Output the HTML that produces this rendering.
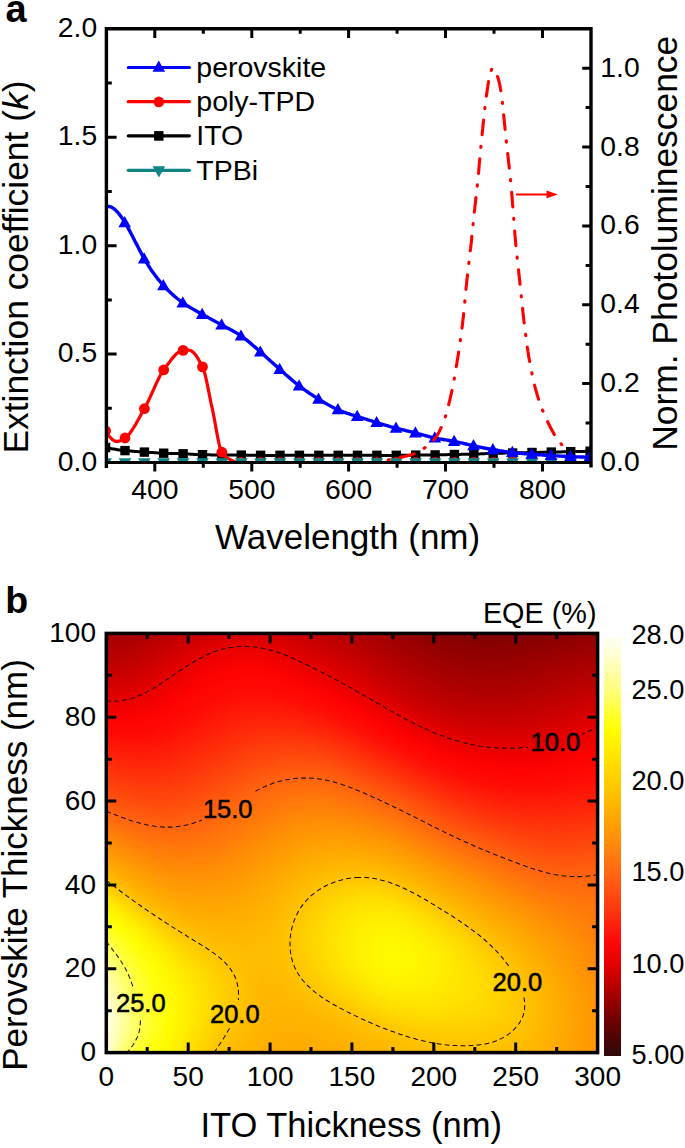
<!DOCTYPE html>
<html><head><meta charset="utf-8"><style>
html,body{margin:0;padding:0;background:#fff;}
#root{position:relative;width:685px;height:1148px;overflow:hidden;background:#fff;}
svg{position:absolute;left:0;top:0;}
text{font-family:"Liberation Sans",sans-serif;fill:#000;}
</style></head><body><div id="root">
<div style="position:absolute;left:105px;top:632px;width:494px;height:422px;overflow:hidden"><div style="height:2px;background:linear-gradient(90deg,#a20000 0.0%,#a40000 3.2%,#a90000 6.5%,#b00000 9.7%,#b90000 12.9%,#c20000 16.1%,#ca0000 19.4%,#d10000 22.6%,#d50000 25.8%,#d50000 29.0%,#d40000 32.3%,#cf0000 35.5%,#c80000 38.7%,#c10000 41.9%,#ba0000 45.2%,#b30000 48.4%,#ac0000 51.6%,#a50000 54.8%,#9c0000 58.1%,#940000 61.3%,#8d0000 64.5%,#880000 67.7%,#840000 71.0%,#810000 74.2%,#800000 77.4%,#800000 80.6%,#810000 83.9%,#840000 87.1%,#870000 90.3%,#8a0000 93.5%,#8d0000 96.8%,#8f0000 100.0%)"></div><div style="height:2px;background:linear-gradient(90deg,#a30000 0.0%,#a50000 3.2%,#ab0000 6.5%,#b20000 9.7%,#bb0000 12.9%,#c40000 16.1%,#cc0000 19.4%,#d30000 22.6%,#d70000 25.8%,#d80000 29.0%,#d70000 32.3%,#d10000 35.5%,#ca0000 38.7%,#c30000 41.9%,#bc0000 45.2%,#b50000 48.4%,#ae0000 51.6%,#a60000 54.8%,#9e0000 58.1%,#960000 61.3%,#8f0000 64.5%,#890000 67.7%,#850000 71.0%,#830000 74.2%,#820000 77.4%,#820000 80.6%,#830000 83.9%,#850000 87.1%,#880000 90.3%,#8b0000 93.5%,#8f0000 96.8%,#910000 100.0%)"></div><div style="height:2px;background:linear-gradient(90deg,#a50000 0.0%,#a70000 3.2%,#ad0000 6.5%,#b40000 9.7%,#bd0000 12.9%,#c60000 16.1%,#cf0000 19.4%,#d60000 22.6%,#da0000 25.8%,#db0000 29.0%,#d90000 32.3%,#d40000 35.5%,#cd0000 38.7%,#c50000 41.9%,#be0000 45.2%,#b70000 48.4%,#b00000 51.6%,#a80000 54.8%,#a00000 58.1%,#980000 61.3%,#910000 64.5%,#8b0000 67.7%,#870000 71.0%,#840000 74.2%,#830000 77.4%,#830000 80.6%,#850000 83.9%,#870000 87.1%,#8a0000 90.3%,#8d0000 93.5%,#910000 96.8%,#930000 100.0%)"></div><div style="height:2px;background:linear-gradient(90deg,#a70000 0.0%,#a90000 3.2%,#ae0000 6.5%,#b60000 9.7%,#bf0000 12.9%,#c90000 16.1%,#d10000 19.4%,#d90000 22.6%,#dd0000 25.8%,#de0000 29.0%,#dc0000 32.3%,#d70000 35.5%,#cf0000 38.7%,#c70000 41.9%,#c00000 45.2%,#b90000 48.4%,#b10000 51.6%,#aa0000 54.8%,#a20000 58.1%,#990000 61.3%,#920000 64.5%,#8c0000 67.7%,#880000 71.0%,#860000 74.2%,#850000 77.4%,#850000 80.6%,#860000 83.9%,#890000 87.1%,#8c0000 90.3%,#8f0000 93.5%,#920000 96.8%,#950000 100.0%)"></div><div style="height:2px;background:linear-gradient(90deg,#a90000 0.0%,#ab0000 3.2%,#b00000 6.5%,#b80000 9.7%,#c10000 12.9%,#cb0000 16.1%,#d40000 19.4%,#db0000 22.6%,#e00000 25.8%,#e10000 29.0%,#df0000 32.3%,#d90000 35.5%,#d10000 38.7%,#c90000 41.9%,#c20000 45.2%,#ba0000 48.4%,#b30000 51.6%,#ab0000 54.8%,#a30000 58.1%,#9b0000 61.3%,#940000 64.5%,#8e0000 67.7%,#8a0000 71.0%,#870000 74.2%,#860000 77.4%,#860000 80.6%,#880000 83.9%,#8a0000 87.1%,#8d0000 90.3%,#910000 93.5%,#940000 96.8%,#970000 100.0%)"></div><div style="height:2px;background:linear-gradient(90deg,#ab0000 0.0%,#ad0000 3.2%,#b20000 6.5%,#ba0000 9.7%,#c30000 12.9%,#cd0000 16.1%,#d60000 19.4%,#de0000 22.6%,#e20000 25.8%,#e40000 29.0%,#e10000 32.3%,#dc0000 35.5%,#d40000 38.7%,#cb0000 41.9%,#c40000 45.2%,#bc0000 48.4%,#b50000 51.6%,#ad0000 54.8%,#a50000 58.1%,#9d0000 61.3%,#950000 64.5%,#900000 67.7%,#8b0000 71.0%,#890000 74.2%,#880000 77.4%,#880000 80.6%,#890000 83.9%,#8c0000 87.1%,#8f0000 90.3%,#930000 93.5%,#960000 96.8%,#990000 100.0%)"></div><div style="height:2px;background:linear-gradient(90deg,#ac0000 0.0%,#ae0000 3.2%,#b40000 6.5%,#bc0000 9.7%,#c50000 12.9%,#d00000 16.1%,#d90000 19.4%,#e00000 22.6%,#e50000 25.8%,#e70000 29.0%,#e40000 32.3%,#de0000 35.5%,#d60000 38.7%,#ce0000 41.9%,#c60000 45.2%,#be0000 48.4%,#b70000 51.6%,#af0000 54.8%,#a60000 58.1%,#9e0000 61.3%,#970000 64.5%,#910000 67.7%,#8d0000 71.0%,#8a0000 74.2%,#890000 77.4%,#8a0000 80.6%,#8b0000 83.9%,#8e0000 87.1%,#910000 90.3%,#940000 93.5%,#980000 96.8%,#9b0000 100.0%)"></div><div style="height:2px;background:linear-gradient(90deg,#ae0000 0.0%,#b00000 3.2%,#b60000 6.5%,#be0000 9.7%,#c80000 12.9%,#d20000 16.1%,#db0000 19.4%,#e30000 22.6%,#e80000 25.8%,#e90000 29.0%,#e70000 32.3%,#e00000 35.5%,#d80000 38.7%,#d00000 41.9%,#c80000 45.2%,#c00000 48.4%,#b80000 51.6%,#b00000 54.8%,#a80000 58.1%,#a00000 61.3%,#990000 64.5%,#930000 67.7%,#8e0000 71.0%,#8c0000 74.2%,#8b0000 77.4%,#8b0000 80.6%,#8d0000 83.9%,#8f0000 87.1%,#930000 90.3%,#960000 93.5%,#9a0000 96.8%,#9d0000 100.0%)"></div><div style="height:2px;background:linear-gradient(90deg,#b00000 0.0%,#b20000 3.2%,#b80000 6.5%,#c00000 9.7%,#ca0000 12.9%,#d40000 16.1%,#de0000 19.4%,#e50000 22.6%,#ea0000 25.8%,#eb0000 29.0%,#e90000 32.3%,#e30000 35.5%,#db0000 38.7%,#d20000 41.9%,#ca0000 45.2%,#c20000 48.4%,#ba0000 51.6%,#b20000 54.8%,#a90000 58.1%,#a20000 61.3%,#9a0000 64.5%,#940000 67.7%,#900000 71.0%,#8d0000 74.2%,#8c0000 77.4%,#8d0000 80.6%,#8e0000 83.9%,#910000 87.1%,#940000 90.3%,#980000 93.5%,#9c0000 96.8%,#9f0000 100.0%)"></div><div style="height:2px;background:linear-gradient(90deg,#b20000 0.0%,#b40000 3.2%,#b90000 6.5%,#c20000 9.7%,#cc0000 12.9%,#d60000 16.1%,#e00000 19.4%,#e80000 22.6%,#ec0000 25.8%,#ed0000 29.0%,#eb0000 32.3%,#e50000 35.5%,#dd0000 38.7%,#d40000 41.9%,#cc0000 45.2%,#c40000 48.4%,#bc0000 51.6%,#b30000 54.8%,#ab0000 58.1%,#a30000 61.3%,#9c0000 64.5%,#960000 67.7%,#910000 71.0%,#8f0000 74.2%,#8e0000 77.4%,#8e0000 80.6%,#900000 83.9%,#930000 87.1%,#960000 90.3%,#9a0000 93.5%,#9d0000 96.8%,#a00000 100.0%)"></div><div style="height:2px;background:linear-gradient(90deg,#b40000 0.0%,#b60000 3.2%,#bb0000 6.5%,#c40000 9.7%,#ce0000 12.9%,#d90000 16.1%,#e20000 19.4%,#ea0000 22.6%,#ee0000 25.8%,#ef0101 29.0%,#ed0000 32.3%,#e80000 35.5%,#df0000 38.7%,#d60000 41.9%,#ce0000 45.2%,#c60000 48.4%,#be0000 51.6%,#b50000 54.8%,#ad0000 58.1%,#a50000 61.3%,#9d0000 64.5%,#970000 67.7%,#930000 71.0%,#900000 74.2%,#8f0000 77.4%,#900000 80.6%,#920000 83.9%,#940000 87.1%,#980000 90.3%,#9c0000 93.5%,#9f0000 96.8%,#a20000 100.0%)"></div><div style="height:2px;background:linear-gradient(90deg,#b60000 0.0%,#b80000 3.2%,#bd0000 6.5%,#c60000 9.7%,#d00000 12.9%,#db0000 16.1%,#e50000 19.4%,#eb0000 22.6%,#f00101 25.8%,#f10101 29.0%,#ef0101 32.3%,#ea0000 35.5%,#e10000 38.7%,#d90000 41.9%,#d00000 45.2%,#c80000 48.4%,#bf0000 51.6%,#b70000 54.8%,#ae0000 58.1%,#a60000 61.3%,#9f0000 64.5%,#990000 67.7%,#950000 71.0%,#920000 74.2%,#910000 77.4%,#910000 80.6%,#930000 83.9%,#960000 87.1%,#990000 90.3%,#9d0000 93.5%,#a10000 96.8%,#a40000 100.0%)"></div><div style="height:2px;background:linear-gradient(90deg,#b80000 0.0%,#b90000 3.2%,#bf0000 6.5%,#c80000 9.7%,#d20000 12.9%,#dd0000 16.1%,#e70000 19.4%,#ed0000 22.6%,#f10101 25.8%,#f30101 29.0%,#f10101 32.3%,#ec0000 35.5%,#e40000 38.7%,#db0000 41.9%,#d30000 45.2%,#ca0000 48.4%,#c10000 51.6%,#b80000 54.8%,#b00000 58.1%,#a80000 61.3%,#a10000 64.5%,#9a0000 67.7%,#960000 71.0%,#930000 74.2%,#920000 77.4%,#930000 80.6%,#950000 83.9%,#980000 87.1%,#9b0000 90.3%,#9f0000 93.5%,#a30000 96.8%,#a60000 100.0%)"></div><div style="height:2px;background:linear-gradient(90deg,#ba0000 0.0%,#bb0000 3.2%,#c10000 6.5%,#ca0000 9.7%,#d40000 12.9%,#df0000 16.1%,#e90000 19.4%,#ef0101 22.6%,#f30101 25.8%,#f50101 29.0%,#f30101 32.3%,#ed0000 35.5%,#e60000 38.7%,#dd0000 41.9%,#d50000 45.2%,#cc0000 48.4%,#c30000 51.6%,#ba0000 54.8%,#b10000 58.1%,#a90000 61.3%,#a20000 64.5%,#9c0000 67.7%,#980000 71.0%,#950000 74.2%,#940000 77.4%,#950000 80.6%,#960000 83.9%,#990000 87.1%,#9d0000 90.3%,#a10000 93.5%,#a40000 96.8%,#a70000 100.0%)"></div><div style="height:2px;background:linear-gradient(90deg,#bc0000 0.0%,#bd0000 3.2%,#c30000 6.5%,#cc0000 9.7%,#d70000 12.9%,#e10000 16.1%,#eb0000 19.4%,#f10101 22.6%,#f50101 25.8%,#f60101 29.0%,#f40101 32.3%,#ef0101 35.5%,#e80000 38.7%,#e00000 41.9%,#d70000 45.2%,#ce0000 48.4%,#c50000 51.6%,#bc0000 54.8%,#b30000 58.1%,#ab0000 61.3%,#a40000 64.5%,#9e0000 67.7%,#990000 71.0%,#970000 74.2%,#960000 77.4%,#960000 80.6%,#980000 83.9%,#9b0000 87.1%,#9f0000 90.3%,#a30000 93.5%,#a60000 96.8%,#a90000 100.0%)"></div><div style="height:2px;background:linear-gradient(90deg,#bd0000 0.0%,#bf0000 3.2%,#c50000 6.5%,#ce0000 9.7%,#d90000 12.9%,#e40000 16.1%,#ec0000 19.4%,#f30101 22.6%,#f70101 25.8%,#f80101 29.0%,#f60101 32.3%,#f10101 35.5%,#ea0000 38.7%,#e20000 41.9%,#d90000 45.2%,#d00000 48.4%,#c70000 51.6%,#be0000 54.8%,#b50000 58.1%,#ac0000 61.3%,#a50000 64.5%,#9f0000 67.7%,#9b0000 71.0%,#980000 74.2%,#970000 77.4%,#980000 80.6%,#9a0000 83.9%,#9d0000 87.1%,#a00000 90.3%,#a40000 93.5%,#a80000 96.8%,#ab0000 100.0%)"></div><div style="height:2px;background:linear-gradient(90deg,#bf0000 0.0%,#c10000 3.2%,#c70000 6.5%,#d00000 9.7%,#db0000 12.9%,#e60000 16.1%,#ee0101 19.4%,#f40101 22.6%,#f90101 25.8%,#fa0202 29.0%,#f80101 32.3%,#f30101 35.5%,#ec0000 38.7%,#e40000 41.9%,#db0000 45.2%,#d20000 48.4%,#c90000 51.6%,#bf0000 54.8%,#b60000 58.1%,#ae0000 61.3%,#a70000 64.5%,#a10000 67.7%,#9c0000 71.0%,#9a0000 74.2%,#990000 77.4%,#990000 80.6%,#9b0000 83.9%,#9e0000 87.1%,#a20000 90.3%,#a60000 93.5%,#aa0000 96.8%,#ad0000 100.0%)"></div><div style="height:2px;background:linear-gradient(90deg,#c10000 0.0%,#c30000 3.2%,#c90000 6.5%,#d20000 9.7%,#dd0000 12.9%,#e80000 16.1%,#f00101 19.4%,#f60101 22.6%,#fa0202 25.8%,#fc0202 29.0%,#fa0202 32.3%,#f50101 35.5%,#ee0101 38.7%,#e70000 41.9%,#de0000 45.2%,#d40000 48.4%,#cb0000 51.6%,#c10000 54.8%,#b80000 58.1%,#af0000 61.3%,#a80000 64.5%,#a30000 67.7%,#9e0000 71.0%,#9b0000 74.2%,#9a0000 77.4%,#9b0000 80.6%,#9d0000 83.9%,#a00000 87.1%,#a40000 90.3%,#a70000 93.5%,#ab0000 96.8%,#ae0000 100.0%)"></div><div style="height:2px;background:linear-gradient(90deg,#c30000 0.0%,#c50000 3.2%,#cb0000 6.5%,#d40000 9.7%,#df0000 12.9%,#e90000 16.1%,#f10101 19.4%,#f80101 22.6%,#fc0202 25.8%,#fd0202 29.0%,#fc0202 32.3%,#f70101 35.5%,#f00101 38.7%,#e90000 41.9%,#e00000 45.2%,#d70000 48.4%,#cd0000 51.6%,#c30000 54.8%,#ba0000 58.1%,#b10000 61.3%,#aa0000 64.5%,#a40000 67.7%,#a00000 71.0%,#9d0000 74.2%,#9c0000 77.4%,#9d0000 80.6%,#9e0000 83.9%,#a10000 87.1%,#a50000 90.3%,#a90000 93.5%,#ad0000 96.8%,#b00000 100.0%)"></div><div style="height:2px;background:linear-gradient(90deg,#c50000 0.0%,#c70000 3.2%,#cd0000 6.5%,#d60000 9.7%,#e10000 12.9%,#eb0000 16.1%,#f30101 19.4%,#f90202 22.6%,#fe0202 25.8%,#ff0202 29.0%,#fd0202 32.3%,#f90101 35.5%,#f20101 38.7%,#eb0000 41.9%,#e30000 45.2%,#d90000 48.4%,#cf0000 51.6%,#c50000 54.8%,#bb0000 58.1%,#b30000 61.3%,#ab0000 64.5%,#a60000 67.7%,#a10000 71.0%,#9f0000 74.2%,#9e0000 77.4%,#9e0000 80.6%,#a00000 83.9%,#a30000 87.1%,#a70000 90.3%,#ab0000 93.5%,#af0000 96.8%,#b20000 100.0%)"></div><div style="height:2px;background:linear-gradient(90deg,#c80000 0.0%,#c90000 3.2%,#cf0000 6.5%,#d80000 9.7%,#e30000 12.9%,#ed0000 16.1%,#f50101 19.4%,#fb0202 22.6%,#ff0202 25.8%,#ff0302 29.0%,#ff0202 32.3%,#fb0202 35.5%,#f40101 38.7%,#ed0000 41.9%,#e50000 45.2%,#db0000 48.4%,#d10000 51.6%,#c70000 54.8%,#bd0000 58.1%,#b40000 61.3%,#ad0000 64.5%,#a70000 67.7%,#a30000 71.0%,#a00000 74.2%,#9f0000 77.4%,#a00000 80.6%,#a20000 83.9%,#a50000 87.1%,#a80000 90.3%,#ac0000 93.5%,#b00000 96.8%,#b40000 100.0%)"></div><div style="height:2px;background:linear-gradient(90deg,#ca0000 0.0%,#cb0000 3.2%,#d10000 6.5%,#da0000 9.7%,#e50000 12.9%,#ee0101 16.1%,#f60101 19.4%,#fd0202 22.6%,#ff0302 25.8%,#ff0403 29.0%,#ff0302 32.3%,#fd0202 35.5%,#f60101 38.7%,#ef0101 41.9%,#e70000 45.2%,#dd0000 48.4%,#d30000 51.6%,#c90000 54.8%,#bf0000 58.1%,#b60000 61.3%,#af0000 64.5%,#a90000 67.7%,#a40000 71.0%,#a20000 74.2%,#a10000 77.4%,#a10000 80.6%,#a30000 83.9%,#a60000 87.1%,#aa0000 90.3%,#ae0000 93.5%,#b20000 96.8%,#b50000 100.0%)"></div><div style="height:2px;background:linear-gradient(90deg,#cc0000 0.0%,#cd0000 3.2%,#d30000 6.5%,#dc0000 9.7%,#e70000 12.9%,#f00101 16.1%,#f80101 19.4%,#fe0202 22.6%,#ff0403 25.8%,#ff0403 29.0%,#ff0403 32.3%,#ff0202 35.5%,#f80101 38.7%,#f10101 41.9%,#ea0000 45.2%,#e00000 48.4%,#d50000 51.6%,#cb0000 54.8%,#c10000 58.1%,#b80000 61.3%,#b00000 64.5%,#aa0000 67.7%,#a60000 71.0%,#a30000 74.2%,#a20000 77.4%,#a30000 80.6%,#a50000 83.9%,#a80000 87.1%,#ab0000 90.3%,#b00000 93.5%,#b40000 96.8%,#b70000 100.0%)"></div><div style="height:2px;background:linear-gradient(90deg,#ce0000 0.0%,#cf0000 3.2%,#d50000 6.5%,#de0000 9.7%,#e90000 12.9%,#f10101 16.1%,#f90202 19.4%,#ff0202 22.6%,#ff0403 25.8%,#ff0503 29.0%,#ff0503 32.3%,#ff0302 35.5%,#fa0202 38.7%,#f30101 41.9%,#ec0000 45.2%,#e20000 48.4%,#d70000 51.6%,#cd0000 54.8%,#c20000 58.1%,#ba0000 61.3%,#b20000 64.5%,#ac0000 67.7%,#a70000 71.0%,#a50000 74.2%,#a40000 77.4%,#a50000 80.6%,#a60000 83.9%,#a90000 87.1%,#ad0000 90.3%,#b10000 93.5%,#b50000 96.8%,#b90000 100.0%)"></div><div style="height:2px;background:linear-gradient(90deg,#d00000 0.0%,#d10000 3.2%,#d70000 6.5%,#e00000 9.7%,#ea0000 12.9%,#f30101 16.1%,#fb0202 19.4%,#ff0302 22.6%,#ff0503 25.8%,#ff0604 29.0%,#ff0503 32.3%,#ff0403 35.5%,#fc0202 38.7%,#f50101 41.9%,#ee0000 45.2%,#e50000 48.4%,#da0000 51.6%,#cf0000 54.8%,#c40000 58.1%,#bb0000 61.3%,#b40000 64.5%,#ad0000 67.7%,#a90000 71.0%,#a60000 74.2%,#a60000 77.4%,#a60000 80.6%,#a80000 83.9%,#ab0000 87.1%,#af0000 90.3%,#b30000 93.5%,#b70000 96.8%,#bb0000 100.0%)"></div><div style="height:2px;background:linear-gradient(90deg,#d20000 0.0%,#d40000 3.2%,#d90000 6.5%,#e20000 9.7%,#ec0000 12.9%,#f50101 16.1%,#fc0202 19.4%,#ff0403 22.6%,#ff0603 25.8%,#ff0704 29.0%,#ff0604 32.3%,#ff0503 35.5%,#fe0202 38.7%,#f70101 41.9%,#f00101 45.2%,#e70000 48.4%,#dc0000 51.6%,#d10000 54.8%,#c60000 58.1%,#bd0000 61.3%,#b50000 64.5%,#af0000 67.7%,#ab0000 71.0%,#a80000 74.2%,#a70000 77.4%,#a80000 80.6%,#a90000 83.9%,#ac0000 87.1%,#b00000 90.3%,#b50000 93.5%,#b90000 96.8%,#bc0000 100.0%)"></div><div style="height:2px;background:linear-gradient(90deg,#d50000 0.0%,#d60000 3.2%,#db0000 6.5%,#e40000 9.7%,#ed0000 12.9%,#f60101 16.1%,#fe0202 19.4%,#ff0503 22.6%,#ff0704 25.8%,#ff0804 29.0%,#ff0704 32.3%,#ff0503 35.5%,#ff0302 38.7%,#fa0202 41.9%,#f20101 45.2%,#e90000 48.4%,#de0000 51.6%,#d30000 54.8%,#c80000 58.1%,#bf0000 61.3%,#b70000 64.5%,#b10000 67.7%,#ac0000 71.0%,#aa0000 74.2%,#a90000 77.4%,#a90000 80.6%,#ab0000 83.9%,#ae0000 87.1%,#b20000 90.3%,#b60000 93.5%,#bb0000 96.8%,#be0000 100.0%)"></div><div style="height:2px;background:linear-gradient(90deg,#d70000 0.0%,#d80000 3.2%,#dd0000 6.5%,#e60000 9.7%,#ef0101 12.9%,#f80101 16.1%,#ff0202 19.4%,#ff0503 22.6%,#ff0704 25.8%,#ff0804 29.0%,#ff0804 32.3%,#ff0604 35.5%,#ff0403 38.7%,#fc0202 41.9%,#f40101 45.2%,#eb0000 48.4%,#e10000 51.6%,#d50000 54.8%,#ca0000 58.1%,#c10000 61.3%,#b90000 64.5%,#b20000 67.7%,#ae0000 71.0%,#ab0000 74.2%,#aa0000 77.4%,#ab0000 80.6%,#ad0000 83.9%,#b00000 87.1%,#b30000 90.3%,#b80000 93.5%,#bc0000 96.8%,#c00000 100.0%)"></div><div style="height:2px;background:linear-gradient(90deg,#d90000 0.0%,#da0000 3.2%,#df0000 6.5%,#e80000 9.7%,#f10101 12.9%,#f90101 16.1%,#ff0302 19.4%,#ff0604 22.6%,#ff0804 25.8%,#ff0905 29.0%,#ff0905 32.3%,#ff0704 35.5%,#ff0503 38.7%,#fe0202 41.9%,#f60101 45.2%,#ed0000 48.4%,#e30000 51.6%,#d80000 54.8%,#cd0000 58.1%,#c30000 61.3%,#bb0000 64.5%,#b40000 67.7%,#b00000 71.0%,#ad0000 74.2%,#ac0000 77.4%,#ac0000 80.6%,#ae0000 83.9%,#b10000 87.1%,#b50000 90.3%,#ba0000 93.5%,#be0000 96.8%,#c20000 100.0%)"></div><div style="height:2px;background:linear-gradient(90deg,#dc0000 0.0%,#dd0000 3.2%,#e10000 6.5%,#e90000 9.7%,#f20101 12.9%,#fb0202 16.1%,#ff0403 19.4%,#ff0704 22.6%,#ff0905 25.8%,#ff0a05 29.0%,#ff0a05 32.3%,#ff0804 35.5%,#ff0603 38.7%,#ff0302 41.9%,#f80101 45.2%,#f00101 48.4%,#e60000 51.6%,#da0000 54.8%,#cf0000 58.1%,#c50000 61.3%,#bc0000 64.5%,#b60000 67.7%,#b10000 71.0%,#af0000 74.2%,#ae0000 77.4%,#ae0000 80.6%,#b00000 83.9%,#b30000 87.1%,#b70000 90.3%,#bb0000 93.5%,#c00000 96.8%,#c40000 100.0%)"></div><div style="height:2px;background:linear-gradient(90deg,#de0000 0.0%,#df0000 3.2%,#e40000 6.5%,#eb0000 9.7%,#f40101 12.9%,#fc0202 16.1%,#ff0403 19.4%,#ff0704 22.6%,#ff0a05 25.8%,#ff0c05 29.0%,#ff0b05 32.3%,#ff0905 35.5%,#ff0704 38.7%,#ff0403 41.9%,#fb0202 45.2%,#f20101 48.4%,#e80000 51.6%,#dc0000 54.8%,#d10000 58.1%,#c70000 61.3%,#be0000 64.5%,#b80000 67.7%,#b30000 71.0%,#b00000 74.2%,#af0000 77.4%,#b00000 80.6%,#b10000 83.9%,#b40000 87.1%,#b80000 90.3%,#bd0000 93.5%,#c20000 96.8%,#c60000 100.0%)"></div><div style="height:2px;background:linear-gradient(90deg,#e10000 0.0%,#e10000 3.2%,#e60000 6.5%,#ed0000 9.7%,#f50101 12.9%,#fe0202 16.1%,#ff0503 19.4%,#ff0804 22.6%,#ff0b05 25.8%,#ff0d05 29.0%,#ff0d05 32.3%,#ff0a05 35.5%,#ff0804 38.7%,#ff0503 41.9%,#fd0202 45.2%,#f40101 48.4%,#ea0000 51.6%,#df0000 54.8%,#d30000 58.1%,#c90000 61.3%,#c00000 64.5%,#b90000 67.7%,#b50000 71.0%,#b20000 74.2%,#b10000 77.4%,#b10000 80.6%,#b30000 83.9%,#b60000 87.1%,#ba0000 90.3%,#bf0000 93.5%,#c30000 96.8%,#c80000 100.0%)"></div><div style="height:2px;background:linear-gradient(90deg,#e30000 0.0%,#e40000 3.2%,#e80000 6.5%,#ef0101 9.7%,#f70101 12.9%,#ff0202 16.1%,#ff0603 19.4%,#ff0905 22.6%,#ff0c05 25.8%,#ff0f06 29.0%,#ff0f06 32.3%,#ff0c05 35.5%,#ff0905 38.7%,#ff0603 41.9%,#ff0202 45.2%,#f60101 48.4%,#ed0000 51.6%,#e10000 54.8%,#d60000 58.1%,#cb0000 61.3%,#c20000 64.5%,#bb0000 67.7%,#b60000 71.0%,#b40000 74.2%,#b30000 77.4%,#b30000 80.6%,#b50000 83.9%,#b80000 87.1%,#bc0000 90.3%,#c00000 93.5%,#c50000 96.8%,#c90000 100.0%)"></div><div style="height:2px;background:linear-gradient(90deg,#e60000 0.0%,#e60000 3.2%,#ea0000 6.5%,#f00101 9.7%,#f80101 12.9%,#ff0302 16.1%,#ff0704 19.4%,#ff0a05 22.6%,#ff0e05 25.8%,#ff1006 29.0%,#ff1006 32.3%,#ff0e06 35.5%,#ff0a05 38.7%,#ff0704 41.9%,#ff0302 45.2%,#f90101 48.4%,#ef0101 51.6%,#e40000 54.8%,#d80000 58.1%,#cd0000 61.3%,#c40000 64.5%,#bd0000 67.7%,#b80000 71.0%,#b50000 74.2%,#b40000 77.4%,#b50000 80.6%,#b60000 83.9%,#b90000 87.1%,#bd0000 90.3%,#c20000 93.5%,#c70000 96.8%,#cb0000 100.0%)"></div><div style="height:2px;background:linear-gradient(90deg,#e80000 0.0%,#e90000 3.2%,#ec0000 6.5%,#f20101 9.7%,#fa0202 12.9%,#ff0403 16.1%,#ff0704 19.4%,#ff0b05 22.6%,#ff0f06 25.8%,#ff1206 29.0%,#ff1206 32.3%,#ff1006 35.5%,#ff0c05 38.7%,#ff0804 41.9%,#ff0403 45.2%,#fb0202 48.4%,#f10101 51.6%,#e60000 54.8%,#da0000 58.1%,#cf0000 61.3%,#c60000 64.5%,#bf0000 67.7%,#ba0000 71.0%,#b70000 74.2%,#b60000 77.4%,#b60000 80.6%,#b80000 83.9%,#bb0000 87.1%,#bf0000 90.3%,#c40000 93.5%,#c90000 96.8%,#cd0000 100.0%)"></div><div style="height:2px;background:linear-gradient(90deg,#eb0000 0.0%,#eb0000 3.2%,#ee0101 6.5%,#f40101 9.7%,#fc0202 12.9%,#ff0403 16.1%,#ff0804 19.4%,#ff0c05 22.6%,#ff1106 25.8%,#ff1306 29.0%,#ff1406 32.3%,#ff1206 35.5%,#ff0e05 38.7%,#ff0905 41.9%,#ff0503 45.2%,#fd0202 48.4%,#f30101 51.6%,#e90000 54.8%,#dd0000 58.1%,#d20000 61.3%,#c80000 64.5%,#c10000 67.7%,#bc0000 71.0%,#b90000 74.2%,#b80000 77.4%,#b80000 80.6%,#ba0000 83.9%,#bd0000 87.1%,#c10000 90.3%,#c60000 93.5%,#cb0000 96.8%,#cf0000 100.0%)"></div><div style="height:2px;background:linear-gradient(90deg,#ed0000 0.0%,#ed0000 3.2%,#f00101 6.5%,#f60101 9.7%,#fd0202 12.9%,#ff0503 16.1%,#ff0905 19.4%,#ff0e05 22.6%,#ff1206 25.8%,#ff1506 29.0%,#ff1506 32.3%,#ff1406 35.5%,#ff1006 38.7%,#ff0b05 41.9%,#ff0704 45.2%,#ff0202 48.4%,#f60101 51.6%,#eb0000 54.8%,#df0000 58.1%,#d40000 61.3%,#cb0000 64.5%,#c30000 67.7%,#be0000 71.0%,#bb0000 74.2%,#ba0000 77.4%,#ba0000 80.6%,#bb0000 83.9%,#be0000 87.1%,#c20000 90.3%,#c80000 93.5%,#cd0000 96.8%,#d10000 100.0%)"></div><div style="height:2px;background:linear-gradient(90deg,#ef0101 0.0%,#ef0101 3.2%,#f20101 6.5%,#f80101 9.7%,#ff0202 12.9%,#ff0603 16.1%,#ff0905 19.4%,#ff0f06 22.6%,#ff1406 25.8%,#ff1607 29.0%,#ff1707 32.3%,#ff1606 35.5%,#ff1206 38.7%,#ff0d05 41.9%,#ff0804 45.2%,#ff0303 48.4%,#f80101 51.6%,#ed0000 54.8%,#e20000 58.1%,#d60000 61.3%,#cd0000 64.5%,#c50000 67.7%,#c00000 71.0%,#bd0000 74.2%,#bb0000 77.4%,#bc0000 80.6%,#bd0000 83.9%,#c00000 87.1%,#c40000 90.3%,#c90000 93.5%,#cf0000 96.8%,#d30000 100.0%)"></div><div style="height:2px;background:linear-gradient(90deg,#f20101 0.0%,#f10101 3.2%,#f40101 6.5%,#f90202 9.7%,#ff0302 12.9%,#ff0704 16.1%,#ff0a05 19.4%,#ff1006 22.6%,#ff1506 25.8%,#ff1807 29.0%,#ff1907 32.3%,#ff1707 35.5%,#ff1406 38.7%,#ff0f06 41.9%,#ff0905 45.2%,#ff0503 48.4%,#fa0202 51.6%,#f00101 54.8%,#e50000 58.1%,#d90000 61.3%,#cf0000 64.5%,#c70000 67.7%,#c20000 71.0%,#be0000 74.2%,#bd0000 77.4%,#bd0000 80.6%,#bf0000 83.9%,#c20000 87.1%,#c60000 90.3%,#cb0000 93.5%,#d10000 96.8%,#d50000 100.0%)"></div><div style="height:2px;background:linear-gradient(90deg,#f40101 0.0%,#f30101 3.2%,#f60101 6.5%,#fb0202 9.7%,#ff0403 12.9%,#ff0704 16.1%,#ff0c05 19.4%,#ff1206 22.6%,#ff1607 25.8%,#ff1a07 29.0%,#ff1b07 32.3%,#ff1907 35.5%,#ff1607 38.7%,#ff1106 41.9%,#ff0a05 45.2%,#ff0603 48.4%,#fd0202 51.6%,#f20101 54.8%,#e70000 58.1%,#db0000 61.3%,#d10000 64.5%,#c90000 67.7%,#c40000 71.0%,#c00000 74.2%,#bf0000 77.4%,#bf0000 80.6%,#c10000 83.9%,#c30000 87.1%,#c80000 90.3%,#cd0000 93.5%,#d30000 96.8%,#d70000 100.0%)"></div><div style="height:2px;background:linear-gradient(90deg,#f60101 0.0%,#f60101 3.2%,#f80101 6.5%,#fd0202 9.7%,#ff0403 12.9%,#ff0804 16.1%,#ff0d05 19.4%,#ff1306 22.6%,#ff1807 25.8%,#ff1b07 29.0%,#ff1c07 32.3%,#ff1b07 35.5%,#ff1807 38.7%,#ff1306 41.9%,#ff0d05 45.2%,#ff0704 48.4%,#ff0202 51.6%,#f40101 54.8%,#ea0000 58.1%,#de0000 61.3%,#d40000 64.5%,#cc0000 67.7%,#c60000 71.0%,#c20000 74.2%,#c10000 77.4%,#c10000 80.6%,#c20000 83.9%,#c50000 87.1%,#ca0000 90.3%,#cf0000 93.5%,#d50000 96.8%,#d90000 100.0%)"></div><div style="height:2px;background:linear-gradient(90deg,#f90101 0.0%,#f80101 3.2%,#fa0202 6.5%,#ff0202 9.7%,#ff0503 12.9%,#ff0905 16.1%,#ff0e06 19.4%,#ff1506 22.6%,#ff1907 25.8%,#ff1d07 29.0%,#ff1e08 32.3%,#ff1d07 35.5%,#ff1a07 38.7%,#ff1606 41.9%,#ff0f06 45.2%,#ff0804 48.4%,#ff0303 51.6%,#f70101 54.8%,#ec0000 58.1%,#e10000 61.3%,#d60000 64.5%,#ce0000 67.7%,#c80000 71.0%,#c40000 74.2%,#c30000 77.4%,#c30000 80.6%,#c40000 83.9%,#c70000 87.1%,#cb0000 90.3%,#d10000 93.5%,#d70000 96.8%,#db0000 100.0%)"></div><div style="height:2px;background:linear-gradient(90deg,#fc0202 0.0%,#fa0202 3.2%,#fc0202 6.5%,#ff0302 9.7%,#ff0603 12.9%,#ff0a05 16.1%,#ff1006 19.4%,#ff1606 22.6%,#ff1b07 25.8%,#ff1e08 29.0%,#ff2008 32.3%,#ff1f08 35.5%,#ff1d07 38.7%,#ff1807 41.9%,#ff1106 45.2%,#ff0905 48.4%,#ff0503 51.6%,#f90202 54.8%,#ee0101 58.1%,#e30000 61.3%,#d90000 64.5%,#d00000 67.7%,#ca0000 71.0%,#c60000 74.2%,#c50000 77.4%,#c50000 80.6%,#c60000 83.9%,#c90000 87.1%,#cd0000 90.3%,#d30000 93.5%,#d90000 96.8%,#dd0000 100.0%)"></div><div style="height:2px;background:linear-gradient(90deg,#fe0202 0.0%,#fd0202 3.2%,#fe0202 6.5%,#ff0403 9.7%,#ff0704 12.9%,#ff0b05 16.1%,#ff1106 19.4%,#ff1707 22.6%,#ff1c07 25.8%,#ff2008 29.0%,#ff2208 32.3%,#ff2108 35.5%,#ff1f08 38.7%,#ff1a07 41.9%,#ff1406 45.2%,#ff0b05 48.4%,#ff0603 51.6%,#fc0202 54.8%,#f10101 58.1%,#e60000 61.3%,#db0000 64.5%,#d30000 67.7%,#cc0000 71.0%,#c90000 74.2%,#c70000 77.4%,#c70000 80.6%,#c80000 83.9%,#cb0000 87.1%,#cf0000 90.3%,#d50000 93.5%,#db0000 96.8%,#df0000 100.0%)"></div><div style="height:2px;background:linear-gradient(90deg,#ff0302 0.0%,#ff0202 3.2%,#ff0302 6.5%,#ff0503 9.7%,#ff0804 12.9%,#ff0c05 16.1%,#ff1306 19.4%,#ff1907 22.6%,#ff1e08 25.8%,#ff2208 29.0%,#ff2408 32.3%,#ff2308 35.5%,#ff2108 38.7%,#ff1c07 41.9%,#ff1606 45.2%,#ff0e05 48.4%,#ff0704 51.6%,#fe0202 54.8%,#f30101 58.1%,#e90000 61.3%,#de0000 64.5%,#d50000 67.7%,#cf0000 71.0%,#cb0000 74.2%,#c90000 77.4%,#c90000 80.6%,#ca0000 83.9%,#cd0000 87.1%,#d10000 90.3%,#d70000 93.5%,#dd0000 96.8%,#e20000 100.0%)"></div><div style="height:2px;background:linear-gradient(90deg,#ff0403 0.0%,#ff0302 3.2%,#ff0403 6.5%,#ff0603 9.7%,#ff0804 12.9%,#ff0d05 16.1%,#ff1406 19.4%,#ff1a07 22.6%,#ff2008 25.8%,#ff2308 29.0%,#ff2508 32.3%,#ff2508 35.5%,#ff2308 38.7%,#ff1f08 41.9%,#ff1807 45.2%,#ff1006 48.4%,#ff0804 51.6%,#ff0302 54.8%,#f60101 58.1%,#eb0000 61.3%,#e10000 64.5%,#d80000 67.7%,#d10000 71.0%,#cd0000 74.2%,#cb0000 77.4%,#cb0000 80.6%,#cc0000 83.9%,#cf0000 87.1%,#d30000 90.3%,#d90000 93.5%,#df0000 96.8%,#e40000 100.0%)"></div><div style="height:2px;background:linear-gradient(90deg,#ff0503 0.0%,#ff0403 3.2%,#ff0503 6.5%,#ff0604 9.7%,#ff0905 12.9%,#ff0f06 16.1%,#ff1606 19.4%,#ff1c07 22.6%,#ff2108 25.8%,#ff2508 29.0%,#ff2709 32.3%,#ff2709 35.5%,#ff2508 38.7%,#ff2108 41.9%,#ff1b07 45.2%,#ff1306 48.4%,#ff0a05 51.6%,#ff0403 54.8%,#f80101 58.1%,#ee0000 61.3%,#e40000 64.5%,#da0000 67.7%,#d30000 71.0%,#cf0000 74.2%,#ce0000 77.4%,#cd0000 80.6%,#ce0000 83.9%,#d10000 87.1%,#d50000 90.3%,#db0000 93.5%,#e10000 96.8%,#e60000 100.0%)"></div><div style="height:2px;background:linear-gradient(90deg,#ff0604 0.0%,#ff0503 3.2%,#ff0603 6.5%,#ff0704 9.7%,#ff0a05 12.9%,#ff1006 16.1%,#ff1707 19.4%,#ff1d07 22.6%,#ff2308 25.8%,#ff2709 29.0%,#ff2909 32.3%,#ff2909 35.5%,#ff2809 38.7%,#ff2308 41.9%,#ff1d07 45.2%,#ff1506 48.4%,#ff0c05 51.6%,#ff0503 54.8%,#fb0202 58.1%,#f00101 61.3%,#e60000 64.5%,#dd0000 67.7%,#d60000 71.0%,#d20000 74.2%,#d00000 77.4%,#cf0000 80.6%,#d00000 83.9%,#d30000 87.1%,#d70000 90.3%,#dc0000 93.5%,#e30000 96.8%,#e80000 100.0%)"></div><div style="height:2px;background:linear-gradient(90deg,#ff0804 0.0%,#ff0604 3.2%,#ff0704 6.5%,#ff0804 9.7%,#ff0c05 12.9%,#ff1206 16.1%,#ff1807 19.4%,#ff1f08 22.6%,#ff2408 25.8%,#ff2809 29.0%,#ff2b09 32.3%,#ff2b09 35.5%,#ff2a09 38.7%,#ff2608 41.9%,#ff2008 45.2%,#ff1807 48.4%,#ff0e05 51.6%,#ff0704 54.8%,#fd0202 58.1%,#f20101 61.3%,#e90000 64.5%,#df0000 67.7%,#d80000 71.0%,#d40000 74.2%,#d20000 77.4%,#d20000 80.6%,#d20000 83.9%,#d50000 87.1%,#d90000 90.3%,#de0000 93.5%,#e50000 96.8%,#e90000 100.0%)"></div><div style="height:2px;background:linear-gradient(90deg,#ff0905 0.0%,#ff0804 3.2%,#ff0804 6.5%,#ff0905 9.7%,#ff0d05 12.9%,#ff1306 16.1%,#ff1a07 19.4%,#ff2008 22.6%,#ff2608 25.8%,#ff2a09 29.0%,#ff2d09 32.3%,#ff2e09 35.5%,#ff2c09 38.7%,#ff2809 41.9%,#ff2208 45.2%,#ff1a07 48.4%,#ff1006 51.6%,#ff0804 54.8%,#ff0202 58.1%,#f50101 61.3%,#eb0000 64.5%,#e20000 67.7%,#db0000 71.0%,#d70000 74.2%,#d50000 77.4%,#d40000 80.6%,#d40000 83.9%,#d70000 87.1%,#db0000 90.3%,#e00000 93.5%,#e70000 96.8%,#eb0000 100.0%)"></div><div style="height:2px;background:linear-gradient(90deg,#ff0a05 0.0%,#ff0905 3.2%,#ff0905 6.5%,#ff0a05 9.7%,#ff0f06 12.9%,#ff1506 16.1%,#ff1b07 19.4%,#ff2208 22.6%,#ff2709 25.8%,#ff2c09 29.0%,#ff2f0a 32.3%,#ff300a 35.5%,#ff2e0a 38.7%,#ff2b09 41.9%,#ff2508 45.2%,#ff1d07 48.4%,#ff1306 51.6%,#ff0905 54.8%,#ff0403 58.1%,#f80101 61.3%,#ee0101 64.5%,#e50000 67.7%,#dd0000 71.0%,#d90000 74.2%,#d70000 77.4%,#d60000 80.6%,#d70000 83.9%,#d90000 87.1%,#dd0000 90.3%,#e20000 93.5%,#e80000 96.8%,#ed0000 100.0%)"></div><div style="height:2px;background:linear-gradient(90deg,#ff0c05 0.0%,#ff0a05 3.2%,#ff0a05 6.5%,#ff0c05 9.7%,#ff1106 12.9%,#ff1607 16.1%,#ff1d07 19.4%,#ff2308 22.6%,#ff2909 25.8%,#ff2e09 29.0%,#ff310a 32.3%,#ff320a 35.5%,#ff310a 38.7%,#ff2d09 41.9%,#ff2709 45.2%,#ff1f08 48.4%,#ff1506 51.6%,#ff0b05 54.8%,#ff0503 58.1%,#fa0202 61.3%,#f00101 64.5%,#e80000 67.7%,#e00000 71.0%,#db0000 74.2%,#d90000 77.4%,#d90000 80.6%,#d90000 83.9%,#db0000 87.1%,#df0000 90.3%,#e50000 93.5%,#ea0000 96.8%,#ee0101 100.0%)"></div><div style="height:2px;background:linear-gradient(90deg,#ff0f06 0.0%,#ff0c05 3.2%,#ff0c05 6.5%,#ff0e05 9.7%,#ff1206 12.9%,#ff1807 16.1%,#ff1e08 19.4%,#ff2508 22.6%,#ff2b09 25.8%,#ff2f0a 29.0%,#ff330a 32.3%,#ff340a 35.5%,#ff330a 38.7%,#ff300a 41.9%,#ff2a09 45.2%,#ff2208 48.4%,#ff1807 51.6%,#ff0e05 54.8%,#ff0604 58.1%,#fd0202 61.3%,#f30101 64.5%,#ea0000 67.7%,#e30000 71.0%,#de0000 74.2%,#dc0000 77.4%,#db0000 80.6%,#db0000 83.9%,#dd0000 87.1%,#e10000 90.3%,#e70000 93.5%,#ec0000 96.8%,#f00101 100.0%)"></div><div style="height:2px;background:linear-gradient(90deg,#ff1106 0.0%,#ff0e05 3.2%,#ff0d05 6.5%,#ff1006 9.7%,#ff1406 12.9%,#ff1907 16.1%,#ff2008 19.4%,#ff2609 22.6%,#ff2c09 25.8%,#ff310a 29.0%,#ff350a 32.3%,#ff360a 35.5%,#ff350a 38.7%,#ff320a 41.9%,#ff2c09 45.2%,#ff2408 48.4%,#ff1b07 51.6%,#ff1006 54.8%,#ff0804 58.1%,#ff0202 61.3%,#f50101 64.5%,#ec0000 67.7%,#e50000 71.0%,#e10000 74.2%,#de0000 77.4%,#dd0000 80.6%,#dd0000 83.9%,#df0000 87.1%,#e30000 90.3%,#e90000 93.5%,#ed0000 96.8%,#f10101 100.0%)"></div><div style="height:2px;background:linear-gradient(90deg,#ff1306 0.0%,#ff1006 3.2%,#ff0f06 6.5%,#ff1106 9.7%,#ff1506 12.9%,#ff1b07 16.1%,#ff2108 19.4%,#ff2809 22.6%,#ff2e09 25.8%,#ff330a 29.0%,#ff360a 32.3%,#ff380b 35.5%,#ff380b 38.7%,#ff350a 41.9%,#ff2f0a 45.2%,#ff2709 48.4%,#ff1d07 51.6%,#ff1306 54.8%,#ff0905 58.1%,#ff0403 61.3%,#f80101 64.5%,#ef0101 67.7%,#e80000 71.0%,#e30000 74.2%,#e10000 77.4%,#e00000 80.6%,#df0000 83.9%,#e10000 87.1%,#e50000 90.3%,#ea0000 93.5%,#ef0101 96.8%,#f30101 100.0%)"></div><div style="height:2px;background:linear-gradient(90deg,#ff1606 0.0%,#ff1206 3.2%,#ff1106 6.5%,#ff1306 9.7%,#ff1707 12.9%,#ff1c07 16.1%,#ff2308 19.4%,#ff2909 22.6%,#ff2f0a 25.8%,#ff350a 29.0%,#ff380b 32.3%,#ff3a0b 35.5%,#ff3a0b 38.7%,#ff370b 41.9%,#ff320a 45.2%,#ff2a09 48.4%,#ff2008 51.6%,#ff1506 54.8%,#ff0a05 58.1%,#ff0503 61.3%,#fa0202 64.5%,#f10101 67.7%,#ea0000 71.0%,#e60000 74.2%,#e40000 77.4%,#e20000 80.6%,#e20000 83.9%,#e30000 87.1%,#e70000 90.3%,#ec0000 93.5%,#f10101 96.8%,#f50101 100.0%)"></div><div style="height:2px;background:linear-gradient(90deg,#ff1807 0.0%,#ff1406 3.2%,#ff1306 6.5%,#ff1506 9.7%,#ff1907 12.9%,#ff1e07 16.1%,#ff2408 19.4%,#ff2b09 22.6%,#ff310a 25.8%,#ff360a 29.0%,#ff3a0b 32.3%,#ff3d0b 35.5%,#ff3c0b 38.7%,#ff3a0b 41.9%,#ff340a 45.2%,#ff2c09 48.4%,#ff2208 51.6%,#ff1807 54.8%,#ff0d05 58.1%,#ff0604 61.3%,#fd0202 64.5%,#f40101 67.7%,#ed0000 71.0%,#e90000 74.2%,#e60000 77.4%,#e50000 80.6%,#e40000 83.9%,#e60000 87.1%,#e90000 90.3%,#ee0000 93.5%,#f20101 96.8%,#f60101 100.0%)"></div><div style="height:2px;background:linear-gradient(90deg,#ff1a07 0.0%,#ff1707 3.2%,#ff1506 6.5%,#ff1707 9.7%,#ff1a07 12.9%,#ff2008 16.1%,#ff2608 19.4%,#ff2c09 22.6%,#ff330a 25.8%,#ff380b 29.0%,#ff3c0b 32.3%,#ff3f0b 35.5%,#ff3f0b 38.7%,#ff3c0b 41.9%,#ff370a 45.2%,#ff2f0a 48.4%,#ff2508 51.6%,#ff1a07 54.8%,#ff1006 58.1%,#ff0704 61.3%,#ff0202 64.5%,#f60101 67.7%,#ef0101 71.0%,#eb0000 74.2%,#e90000 77.4%,#e70000 80.6%,#e60000 83.9%,#e80000 87.1%,#eb0000 90.3%,#ef0101 93.5%,#f40101 96.8%,#f80101 100.0%)"></div><div style="height:2px;background:linear-gradient(90deg,#ff1d07 0.0%,#ff1907 3.2%,#ff1707 6.5%,#ff1807 9.7%,#ff1c07 12.9%,#ff2108 16.1%,#ff2709 19.4%,#ff2e09 22.6%,#ff340a 25.8%,#ff3a0b 29.0%,#ff3e0b 32.3%,#ff410b 35.5%,#ff410c 38.7%,#ff3f0b 41.9%,#ff3a0b 45.2%,#ff320a 48.4%,#ff2809 51.6%,#ff1d07 54.8%,#ff1206 58.1%,#ff0905 61.3%,#ff0403 64.5%,#f90101 67.7%,#f20101 71.0%,#ed0000 74.2%,#eb0000 77.4%,#e90000 80.6%,#e90000 83.9%,#ea0000 87.1%,#ed0000 90.3%,#f10101 93.5%,#f60101 96.8%,#fa0202 100.0%)"></div><div style="height:2px;background:linear-gradient(90deg,#ff1f08 0.0%,#ff1b07 3.2%,#ff1907 6.5%,#ff1a07 9.7%,#ff1e07 12.9%,#ff2308 16.1%,#ff2909 19.4%,#ff300a 22.6%,#ff360a 25.8%,#ff3c0b 29.0%,#ff400b 32.3%,#ff430c 35.5%,#ff430c 38.7%,#ff410c 41.9%,#ff3c0b 45.2%,#ff340a 48.4%,#ff2b09 51.6%,#ff2008 54.8%,#ff1506 58.1%,#ff0a05 61.3%,#ff0503 64.5%,#fc0202 67.7%,#f40101 71.0%,#ef0101 74.2%,#ed0000 77.4%,#eb0000 80.6%,#eb0000 83.9%,#ec0000 87.1%,#ef0101 90.3%,#f30101 93.5%,#f70101 96.8%,#fb0202 100.0%)"></div><div style="height:2px;background:linear-gradient(90deg,#ff2108 0.0%,#ff1d07 3.2%,#ff1b07 6.5%,#ff1c07 9.7%,#ff1f08 12.9%,#ff2408 16.1%,#ff2a09 19.4%,#ff310a 22.6%,#ff380b 25.8%,#ff3e0b 29.0%,#ff420c 32.3%,#ff450c 35.5%,#ff460c 38.7%,#ff440c 41.9%,#ff3f0b 45.2%,#ff370b 48.4%,#ff2d09 51.6%,#ff2208 54.8%,#ff1707 58.1%,#ff0d05 61.3%,#ff0604 64.5%,#fe0202 67.7%,#f70101 71.0%,#f20101 74.2%,#ef0101 77.4%,#ed0000 80.6%,#ed0000 83.9%,#ee0000 87.1%,#f00101 90.3%,#f50101 93.5%,#f90101 96.8%,#fd0202 100.0%)"></div><div style="height:2px;background:linear-gradient(90deg,#ff2408 0.0%,#ff1f08 3.2%,#ff1d07 6.5%,#ff1e07 9.7%,#ff2108 12.9%,#ff2608 16.1%,#ff2c09 19.4%,#ff330a 22.6%,#ff390b 25.8%,#ff3f0b 29.0%,#ff440c 32.3%,#ff470c 35.5%,#ff480c 38.7%,#ff460c 41.9%,#ff420c 45.2%,#ff3a0b 48.4%,#ff300a 51.6%,#ff2508 54.8%,#ff1a07 58.1%,#ff0f06 61.3%,#ff0804 64.5%,#ff0302 67.7%,#f90202 71.0%,#f40101 74.2%,#f10101 77.4%,#f00101 80.6%,#ef0101 83.9%,#f00101 87.1%,#f20101 90.3%,#f70101 93.5%,#fb0202 96.8%,#ff0202 100.0%)"></div><div style="height:2px;background:linear-gradient(90deg,#ff2609 0.0%,#ff2108 3.2%,#ff1f08 6.5%,#ff1f08 9.7%,#ff2208 12.9%,#ff2709 16.1%,#ff2e09 19.4%,#ff340a 22.6%,#ff3b0b 25.8%,#ff410c 29.0%,#ff460c 32.3%,#ff4a0c 35.5%,#ff4b0c 38.7%,#ff490c 41.9%,#ff440c 45.2%,#ff3d0b 48.4%,#ff330a 51.6%,#ff2809 54.8%,#ff1d07 58.1%,#ff1206 61.3%,#ff0905 64.5%,#ff0403 67.7%,#fc0202 71.0%,#f70101 74.2%,#f40101 77.4%,#f20101 80.6%,#f10101 83.9%,#f20101 87.1%,#f40101 90.3%,#f80101 93.5%,#fd0202 96.8%,#ff0302 100.0%)"></div><div style="height:2px;background:linear-gradient(90deg,#ff2809 0.0%,#ff2308 3.2%,#ff2108 6.5%,#ff2108 9.7%,#ff2408 12.9%,#ff2909 16.1%,#ff2f0a 19.4%,#ff360a 22.6%,#ff3d0b 25.8%,#ff430c 29.0%,#ff480c 32.3%,#ff4c0d 35.5%,#ff4d0d 38.7%,#ff4c0d 41.9%,#ff470c 45.2%,#ff3f0b 48.4%,#ff350a 51.6%,#ff2b09 54.8%,#ff2008 58.1%,#ff1506 61.3%,#ff0a05 64.5%,#ff0503 67.7%,#ff0202 71.0%,#f90101 74.2%,#f60101 77.4%,#f40101 80.6%,#f30101 83.9%,#f40101 87.1%,#f60101 90.3%,#fa0202 93.5%,#ff0202 96.8%,#ff0403 100.0%)"></div><div style="height:2px;background:linear-gradient(90deg,#ff2b09 0.0%,#ff2508 3.2%,#ff2308 6.5%,#ff2308 9.7%,#ff2608 12.9%,#ff2b09 16.1%,#ff310a 19.4%,#ff370b 22.6%,#ff3e0b 25.8%,#ff450c 29.0%,#ff4a0c 32.3%,#ff4e0d 35.5%,#ff4f0d 38.7%,#ff4e0d 41.9%,#ff4a0c 45.2%,#ff420c 48.4%,#ff380b 51.6%,#ff2d09 54.8%,#ff2208 58.1%,#ff1707 61.3%,#ff0d05 64.5%,#ff0704 67.7%,#ff0302 71.0%,#fc0202 74.2%,#f80101 77.4%,#f60101 80.6%,#f50101 83.9%,#f60101 87.1%,#f80101 90.3%,#fc0202 93.5%,#ff0302 96.8%,#ff0403 100.0%)"></div><div style="height:2px;background:linear-gradient(90deg,#ff2d09 0.0%,#ff2709 3.2%,#ff2508 6.5%,#ff2508 9.7%,#ff2709 12.9%,#ff2c09 16.1%,#ff320a 19.4%,#ff390b 22.6%,#ff400b 25.8%,#ff470c 29.0%,#ff4c0d 32.3%,#ff500d 35.5%,#ff520d 38.7%,#ff510d 41.9%,#ff4d0d 45.2%,#ff450c 48.4%,#ff3b0b 51.6%,#ff300a 54.8%,#ff2508 58.1%,#ff1a07 61.3%,#ff1006 64.5%,#ff0804 67.7%,#ff0403 71.0%,#fe0202 74.2%,#fa0202 77.4%,#f80101 80.6%,#f70101 83.9%,#f80101 87.1%,#fa0202 90.3%,#fe0202 93.5%,#ff0303 96.8%,#ff0503 100.0%)"></div><div style="height:2px;background:linear-gradient(90deg,#ff2f0a 0.0%,#ff2909 3.2%,#ff2609 6.5%,#ff2709 9.7%,#ff2909 12.9%,#ff2e09 16.1%,#ff340a 19.4%,#ff3b0b 22.6%,#ff420c 25.8%,#ff480c 29.0%,#ff4e0d 32.3%,#ff530d 35.5%,#ff540d 38.7%,#ff530d 41.9%,#ff4f0d 45.2%,#ff480c 48.4%,#ff3e0b 51.6%,#ff330a 54.8%,#ff2809 58.1%,#ff1d07 61.3%,#ff1206 64.5%,#ff0905 67.7%,#ff0603 71.0%,#ff0302 74.2%,#fd0202 77.4%,#fa0202 80.6%,#f90101 83.9%,#fa0202 87.1%,#fc0202 90.3%,#ff0202 93.5%,#ff0403 96.8%,#ff0603 100.0%)"></div><div style="height:2px;background:linear-gradient(90deg,#ff310a 0.0%,#ff2b09 3.2%,#ff2809 6.5%,#ff2809 9.7%,#ff2b09 12.9%,#ff2f0a 16.1%,#ff350a 19.4%,#ff3c0b 22.6%,#ff430c 25.8%,#ff4a0c 29.0%,#ff500d 32.3%,#ff550d 35.5%,#ff570e 38.7%,#ff560e 41.9%,#ff520d 45.2%,#ff4b0c 48.4%,#ff410b 51.6%,#ff360a 54.8%,#ff2b09 58.1%,#ff1f08 61.3%,#ff1506 64.5%,#ff0b05 67.7%,#ff0704 71.0%,#ff0403 74.2%,#ff0202 77.4%,#fd0202 80.6%,#fb0202 83.9%,#fc0202 87.1%,#fe0202 90.3%,#ff0303 93.5%,#ff0503 96.8%,#ff0704 100.0%)"></div><div style="height:2px;background:linear-gradient(90deg,#ff330a 0.0%,#ff2d09 3.2%,#ff2a09 6.5%,#ff2a09 9.7%,#ff2d09 12.9%,#ff310a 16.1%,#ff370b 19.4%,#ff3e0b 22.6%,#ff450c 25.8%,#ff4c0d 29.0%,#ff520d 32.3%,#ff570e 35.5%,#ff590e 38.7%,#ff580e 41.9%,#ff550d 45.2%,#ff4d0d 48.4%,#ff430c 51.6%,#ff390b 54.8%,#ff2d09 58.1%,#ff2208 61.3%,#ff1807 64.5%,#ff0e06 67.7%,#ff0804 71.0%,#ff0503 74.2%,#ff0302 77.4%,#ff0202 80.6%,#fe0202 83.9%,#fe0202 87.1%,#ff0302 90.3%,#ff0403 93.5%,#ff0604 96.8%,#ff0804 100.0%)"></div><div style="height:2px;background:linear-gradient(90deg,#ff350a 0.0%,#ff2f0a 3.2%,#ff2c09 6.5%,#ff2c09 9.7%,#ff2e0a 12.9%,#ff330a 16.1%,#ff390b 19.4%,#ff400b 22.6%,#ff470c 25.8%,#ff4e0d 29.0%,#ff540d 32.3%,#ff590e 35.5%,#ff5b0e 38.7%,#ff5b0e 41.9%,#ff580e 45.2%,#ff500d 48.4%,#ff460c 51.6%,#ff3b0b 54.8%,#ff300a 58.1%,#ff2508 61.3%,#ff1a07 64.5%,#ff1106 67.7%,#ff0905 71.0%,#ff0604 74.2%,#ff0403 77.4%,#ff0302 80.6%,#ff0202 83.9%,#ff0302 87.1%,#ff0403 90.3%,#ff0503 93.5%,#ff0704 96.8%,#ff0904 100.0%)"></div><div style="height:2px;background:linear-gradient(90deg,#ff380b 0.0%,#ff310a 3.2%,#ff2e0a 6.5%,#ff2e09 9.7%,#ff300a 12.9%,#ff340a 16.1%,#ff3a0b 19.4%,#ff410c 22.6%,#ff490c 25.8%,#ff500d 29.0%,#ff560e 32.3%,#ff5b0e 35.5%,#ff5e0e 38.7%,#ff5e0e 41.9%,#ff5a0e 45.2%,#ff530d 48.4%,#ff490c 51.6%,#ff3e0b 54.8%,#ff330a 58.1%,#ff2809 61.3%,#ff1d07 64.5%,#ff1306 67.7%,#ff0b05 71.0%,#ff0804 74.2%,#ff0503 77.4%,#ff0403 80.6%,#ff0303 83.9%,#ff0403 87.1%,#ff0503 90.3%,#ff0604 93.5%,#ff0804 96.8%,#ff0905 100.0%)"></div><div style="height:2px;background:linear-gradient(90deg,#ff3a0b 0.0%,#ff330a 3.2%,#ff300a 6.5%,#ff300a 9.7%,#ff320a 12.9%,#ff360a 16.1%,#ff3c0b 19.4%,#ff430c 22.6%,#ff4a0c 25.8%,#ff520d 29.0%,#ff580e 32.3%,#ff5e0e 35.5%,#ff600f 38.7%,#ff600f 41.9%,#ff5d0e 45.2%,#ff560e 48.4%,#ff4c0d 51.6%,#ff410c 54.8%,#ff360a 58.1%,#ff2b09 61.3%,#ff2008 64.5%,#ff1606 67.7%,#ff0e05 71.0%,#ff0905 74.2%,#ff0704 77.4%,#ff0503 80.6%,#ff0403 83.9%,#ff0503 87.1%,#ff0603 90.3%,#ff0704 93.5%,#ff0905 96.8%,#ff0a05 100.0%)"></div><div style="height:2px;background:linear-gradient(90deg,#ff3c0b 0.0%,#ff350a 3.2%,#ff320a 6.5%,#ff310a 9.7%,#ff330a 12.9%,#ff380b 16.1%,#ff3e0b 19.4%,#ff450c 22.6%,#ff4c0d 25.8%,#ff530d 29.0%,#ff5a0e 32.3%,#ff600f 35.5%,#ff620f 38.7%,#ff630f 41.9%,#ff600f 45.2%,#ff580e 48.4%,#ff4e0d 51.6%,#ff440c 54.8%,#ff390b 58.1%,#ff2e09 61.3%,#ff2208 64.5%,#ff1807 67.7%,#ff1006 71.0%,#ff0a05 74.2%,#ff0804 77.4%,#ff0604 80.6%,#ff0603 83.9%,#ff0603 87.1%,#ff0704 90.3%,#ff0804 93.5%,#ff0a05 96.8%,#ff0c05 100.0%)"></div><div style="height:2px;background:linear-gradient(90deg,#ff3e0b 0.0%,#ff370b 3.2%,#ff340a 6.5%,#ff330a 9.7%,#ff350a 12.9%,#ff390b 16.1%,#ff3f0b 19.4%,#ff460c 22.6%,#ff4e0d 25.8%,#ff550e 29.0%,#ff5c0e 32.3%,#ff620f 35.5%,#ff650f 38.7%,#ff650f 41.9%,#ff620f 45.2%,#ff5b0e 48.4%,#ff510d 51.6%,#ff470c 54.8%,#ff3c0b 58.1%,#ff300a 61.3%,#ff2508 64.5%,#ff1b07 67.7%,#ff1306 71.0%,#ff0c05 74.2%,#ff0905 77.4%,#ff0704 80.6%,#ff0704 83.9%,#ff0704 87.1%,#ff0804 90.3%,#ff0905 93.5%,#ff0b05 96.8%,#ff0e05 100.0%)"></div><div style="height:2px;background:linear-gradient(90deg,#ff400b 0.0%,#ff3a0b 3.2%,#ff360a 6.5%,#ff350a 9.7%,#ff370a 12.9%,#ff3b0b 16.1%,#ff410b 19.4%,#ff480c 22.6%,#ff4f0d 25.8%,#ff570e 29.0%,#ff5e0e 32.3%,#ff640f 35.5%,#ff660e 38.7%,#ff670e 41.9%,#ff650f 45.2%,#ff5e0e 48.4%,#ff540d 51.6%,#ff4a0c 54.8%,#ff3f0b 58.1%,#ff330a 61.3%,#ff2809 64.5%,#ff1e07 67.7%,#ff1506 71.0%,#ff0f06 74.2%,#ff0a05 77.4%,#ff0904 80.6%,#ff0804 83.9%,#ff0804 87.1%,#ff0804 90.3%,#ff0a05 93.5%,#ff0d05 96.8%,#ff0f06 100.0%)"></div><div style="height:2px;background:linear-gradient(90deg,#ff420c 0.0%,#ff3c0b 3.2%,#ff380b 6.5%,#ff370a 9.7%,#ff390b 12.9%,#ff3d0b 16.1%,#ff420c 19.4%,#ff4a0c 22.6%,#ff510d 25.8%,#ff590e 29.0%,#ff600f 32.3%,#ff660f 35.5%,#ff680e 38.7%,#ff690e 41.9%,#ff670e 45.2%,#ff610f 48.4%,#ff570e 51.6%,#ff4d0d 54.8%,#ff420c 58.1%,#ff360a 61.3%,#ff2b09 64.5%,#ff2008 67.7%,#ff1807 71.0%,#ff1106 74.2%,#ff0c05 77.4%,#ff0a05 80.6%,#ff0905 83.9%,#ff0905 87.1%,#ff0905 90.3%,#ff0c05 93.5%,#ff0e06 96.8%,#ff1106 100.0%)"></div><div style="height:2px;background:linear-gradient(90deg,#ff450c 0.0%,#ff3e0b 3.2%,#ff3a0b 6.5%,#ff390b 9.7%,#ff3a0b 12.9%,#ff3e0b 16.1%,#ff440c 19.4%,#ff4b0d 22.6%,#ff530d 25.8%,#ff5b0e 29.0%,#ff620f 32.3%,#ff670e 35.5%,#ff6a0d 38.7%,#ff6b0d 41.9%,#ff690e 45.2%,#ff630f 48.4%,#ff5a0e 51.6%,#ff500d 54.8%,#ff450c 58.1%,#ff390b 61.3%,#ff2e09 64.5%,#ff2308 67.7%,#ff1a07 71.0%,#ff1306 74.2%,#ff0f06 77.4%,#ff0b05 80.6%,#ff0a05 83.9%,#ff0a05 87.1%,#ff0b05 90.3%,#ff0d05 93.5%,#ff1006 96.8%,#ff1306 100.0%)"></div><div style="height:2px;background:linear-gradient(90deg,#ff470c 0.0%,#ff400b 3.2%,#ff3c0b 6.5%,#ff3b0b 9.7%,#ff3c0b 12.9%,#ff400b 16.1%,#ff460c 19.4%,#ff4d0d 22.6%,#ff550d 25.8%,#ff5c0e 29.0%,#ff640f 32.3%,#ff690e 35.5%,#ff6c0d 38.7%,#ff6d0d 41.9%,#ff6b0d 45.2%,#ff660f 48.4%,#ff5c0e 51.6%,#ff520d 54.8%,#ff480c 58.1%,#ff3c0b 61.3%,#ff310a 64.5%,#ff2608 67.7%,#ff1d07 71.0%,#ff1606 74.2%,#ff1106 77.4%,#ff0e05 80.6%,#ff0c05 83.9%,#ff0c05 87.1%,#ff0d05 90.3%,#ff0f06 93.5%,#ff1206 96.8%,#ff1406 100.0%)"></div><div style="height:2px;background:linear-gradient(90deg,#ff490c 0.0%,#ff420c 3.2%,#ff3e0b 6.5%,#ff3d0b 9.7%,#ff3e0b 12.9%,#ff420c 16.1%,#ff470c 19.4%,#ff4f0d 22.6%,#ff560e 25.8%,#ff5e0e 29.0%,#ff660f 32.3%,#ff6b0d 35.5%,#ff6e0d 38.7%,#ff6f0c 41.9%,#ff6d0d 45.2%,#ff680e 48.4%,#ff5f0f 51.6%,#ff550e 54.8%,#ff4b0c 58.1%,#ff3f0b 61.3%,#ff330a 64.5%,#ff2809 67.7%,#ff1f08 71.0%,#ff1807 74.2%,#ff1306 77.4%,#ff1006 80.6%,#ff0e05 83.9%,#ff0e05 87.1%,#ff0f06 90.3%,#ff1106 93.5%,#ff1406 96.8%,#ff1607 100.0%)"></div><div style="height:2px;background:linear-gradient(90deg,#ff4b0d 0.0%,#ff440c 3.2%,#ff400b 6.5%,#ff3f0b 9.7%,#ff400b 12.9%,#ff430c 16.1%,#ff490c 19.4%,#ff500d 22.6%,#ff580e 25.8%,#ff600f 29.0%,#ff670e 32.3%,#ff6c0d 35.5%,#ff700c 38.7%,#ff710c 41.9%,#ff6f0c 45.2%,#ff6a0e 48.4%,#ff620f 51.6%,#ff580e 54.8%,#ff4e0d 58.1%,#ff420c 61.3%,#ff360a 64.5%,#ff2b09 67.7%,#ff2208 71.0%,#ff1b07 74.2%,#ff1606 77.4%,#ff1206 80.6%,#ff1006 83.9%,#ff1006 87.1%,#ff1106 90.3%,#ff1306 93.5%,#ff1506 96.8%,#ff1807 100.0%)"></div><div style="height:2px;background:linear-gradient(90deg,#ff4e0d 0.0%,#ff460c 3.2%,#ff420c 6.5%,#ff400b 9.7%,#ff420c 12.9%,#ff450c 16.1%,#ff4b0c 19.4%,#ff520d 22.6%,#ff5a0e 25.8%,#ff620f 29.0%,#ff690e 32.3%,#ff6e0d 35.5%,#ff710c 38.7%,#ff720b 41.9%,#ff710c 45.2%,#ff6c0d 48.4%,#ff650f 51.6%,#ff5b0e 54.8%,#ff510d 58.1%,#ff450c 61.3%,#ff390b 64.5%,#ff2e09 67.7%,#ff2408 71.0%,#ff1d07 74.2%,#ff1807 77.4%,#ff1406 80.6%,#ff1206 83.9%,#ff1206 87.1%,#ff1306 90.3%,#ff1506 93.5%,#ff1707 96.8%,#ff1a07 100.0%)"></div><div style="height:2px;background:linear-gradient(90deg,#ff500d 0.0%,#ff480c 3.2%,#ff440c 6.5%,#ff420c 9.7%,#ff430c 12.9%,#ff470c 16.1%,#ff4d0d 19.4%,#ff540d 22.6%,#ff5c0e 25.8%,#ff640f 29.0%,#ff6a0d 32.3%,#ff700c 35.5%,#ff730b 38.7%,#ff740b 41.9%,#ff730b 45.2%,#ff6e0c 48.4%,#ff670e 51.6%,#ff5e0e 54.8%,#ff540d 58.1%,#ff480c 61.3%,#ff3c0b 64.5%,#ff310a 67.7%,#ff2709 71.0%,#ff2008 74.2%,#ff1a07 77.4%,#ff1607 80.6%,#ff1406 83.9%,#ff1406 87.1%,#ff1406 90.3%,#ff1707 93.5%,#ff1907 96.8%,#ff1b07 100.0%)"></div><div style="height:2px;background:linear-gradient(90deg,#ff530d 0.0%,#ff4b0c 3.2%,#ff460c 6.5%,#ff440c 9.7%,#ff450c 12.9%,#ff490c 16.1%,#ff4e0d 19.4%,#ff560e 22.6%,#ff5e0e 25.8%,#ff650f 29.0%,#ff6c0d 32.3%,#ff710c 35.5%,#ff750b 38.7%,#ff760a 41.9%,#ff750b 45.2%,#ff700c 48.4%,#ff6a0e 51.6%,#ff620f 54.8%,#ff570e 58.1%,#ff4b0d 61.3%,#ff3f0b 64.5%,#ff330a 67.7%,#ff2a09 71.0%,#ff2208 74.2%,#ff1d07 77.4%,#ff1907 80.6%,#ff1607 83.9%,#ff1606 87.1%,#ff1607 90.3%,#ff1807 93.5%,#ff1b07 96.8%,#ff1d07 100.0%)"></div><div style="height:2px;background:linear-gradient(90deg,#ff550d 0.0%,#ff4d0d 3.2%,#ff480c 6.5%,#ff460c 9.7%,#ff470c 12.9%,#ff4a0c 16.1%,#ff500d 19.4%,#ff570e 22.6%,#ff5f0f 25.8%,#ff670e 29.0%,#ff6d0d 32.3%,#ff730b 35.5%,#ff770a 38.7%,#ff780a 41.9%,#ff770a 45.2%,#ff730b 48.4%,#ff6c0d 51.6%,#ff640f 54.8%,#ff5a0e 58.1%,#ff4e0d 61.3%,#ff420c 64.5%,#ff360a 67.7%,#ff2c09 71.0%,#ff2508 74.2%,#ff1f08 77.4%,#ff1b07 80.6%,#ff1807 83.9%,#ff1807 87.1%,#ff1807 90.3%,#ff1a07 93.5%,#ff1d07 96.8%,#ff1f08 100.0%)"></div><div style="height:2px;background:linear-gradient(90deg,#ff570e 0.0%,#ff4f0d 3.2%,#ff4a0c 6.5%,#ff480c 9.7%,#ff490c 12.9%,#ff4c0d 16.1%,#ff520d 19.4%,#ff590e 22.6%,#ff610f 25.8%,#ff680e 29.0%,#ff6f0c 32.3%,#ff740b 35.5%,#ff780a 38.7%,#ff7a09 41.9%,#ff790a 45.2%,#ff750b 48.4%,#ff6e0c 51.6%,#ff670e 54.8%,#ff5d0e 58.1%,#ff520d 61.3%,#ff450c 64.5%,#ff390b 67.7%,#ff2f0a 71.0%,#ff2709 74.2%,#ff2108 77.4%,#ff1d07 80.6%,#ff1b07 83.9%,#ff1a07 87.1%,#ff1a07 90.3%,#ff1c07 93.5%,#ff1e08 96.8%,#ff2108 100.0%)"></div><div style="height:2px;background:linear-gradient(90deg,#ff5a0e 0.0%,#ff520d 3.2%,#ff4d0d 6.5%,#ff4b0c 9.7%,#ff4b0d 12.9%,#ff4e0d 16.1%,#ff530d 19.4%,#ff5b0e 22.6%,#ff630f 25.8%,#ff6a0e 29.0%,#ff700c 32.3%,#ff760a 35.5%,#ff7a09 38.7%,#ff7c09 41.9%,#ff7b09 45.2%,#ff770a 48.4%,#ff710c 51.6%,#ff690e 54.8%,#ff600f 58.1%,#ff550d 61.3%,#ff480c 64.5%,#ff3c0b 67.7%,#ff320a 71.0%,#ff2a09 74.2%,#ff2408 77.4%,#ff1f08 80.6%,#ff1d07 83.9%,#ff1c07 87.1%,#ff1c07 90.3%,#ff1e07 93.5%,#ff2008 96.8%,#ff2208 100.0%)"></div><div style="height:2px;background:linear-gradient(90deg,#ff5d0e 0.0%,#ff540d 3.2%,#ff4f0d 6.5%,#ff4d0d 9.7%,#ff4d0d 12.9%,#ff500d 16.1%,#ff550e 19.4%,#ff5d0e 22.6%,#ff650f 25.8%,#ff6b0d 29.0%,#ff720c 32.3%,#ff780a 35.5%,#ff7c09 38.7%,#ff7e09 41.9%,#ff7d09 45.2%,#ff790a 48.4%,#ff730b 51.6%,#ff6c0d 54.8%,#ff640f 58.1%,#ff580e 61.3%,#ff4b0c 64.5%,#ff3e0b 67.7%,#ff340a 71.0%,#ff2c09 74.2%,#ff2609 77.4%,#ff2208 80.6%,#ff1f08 83.9%,#ff1e07 87.1%,#ff1e08 90.3%,#ff2008 93.5%,#ff2208 96.8%,#ff2408 100.0%)"></div><div style="height:2px;background:linear-gradient(90deg,#ff5f0f 0.0%,#ff560e 3.2%,#ff510d 6.5%,#ff4f0d 9.7%,#ff4f0d 12.9%,#ff520d 16.1%,#ff570e 19.4%,#ff5e0e 22.6%,#ff660e 25.8%,#ff6d0d 29.0%,#ff730b 32.3%,#ff790a 35.5%,#ff7e09 38.7%,#ff8008 41.9%,#ff7f08 45.2%,#ff7b09 48.4%,#ff760b 51.6%,#ff6e0c 54.8%,#ff660e 58.1%,#ff5b0e 61.3%,#ff4e0d 64.5%,#ff410c 67.7%,#ff370a 71.0%,#ff2f0a 74.2%,#ff2909 77.4%,#ff2408 80.6%,#ff2108 83.9%,#ff2008 87.1%,#ff2008 90.3%,#ff2208 93.5%,#ff2408 96.8%,#ff2608 100.0%)"></div><div style="height:2px;background:linear-gradient(90deg,#ff620f 0.0%,#ff590e 3.2%,#ff540d 6.5%,#ff510d 9.7%,#ff510d 12.9%,#ff540d 16.1%,#ff590e 19.4%,#ff600f 22.6%,#ff680e 25.8%,#ff6e0c 29.0%,#ff750b 32.3%,#ff7b09 35.5%,#ff7f08 38.7%,#ff8108 41.9%,#ff8108 45.2%,#ff7e09 48.4%,#ff780a 51.6%,#ff710c 54.8%,#ff690e 58.1%,#ff5e0e 61.3%,#ff510d 64.5%,#ff440c 67.7%,#ff3a0b 71.0%,#ff310a 74.2%,#ff2b09 77.4%,#ff2609 80.6%,#ff2308 83.9%,#ff2208 87.1%,#ff2208 90.3%,#ff2408 93.5%,#ff2608 96.8%,#ff2809 100.0%)"></div><div style="height:2px;background:linear-gradient(90deg,#ff650f 0.0%,#ff5c0e 3.2%,#ff560e 6.5%,#ff530d 9.7%,#ff530d 12.9%,#ff550e 16.1%,#ff5a0e 19.4%,#ff620f 22.6%,#ff690e 25.8%,#ff700c 29.0%,#ff760a 32.3%,#ff7c09 35.5%,#ff8108 38.7%,#ff8307 41.9%,#ff8307 45.2%,#ff8008 48.4%,#ff7a09 51.6%,#ff730b 54.8%,#ff6b0d 58.1%,#ff610f 61.3%,#ff540d 64.5%,#ff470c 67.7%,#ff3c0b 71.0%,#ff340a 74.2%,#ff2e09 77.4%,#ff2909 80.6%,#ff2608 83.9%,#ff2408 87.1%,#ff2408 90.3%,#ff2608 93.5%,#ff2809 96.8%,#ff2909 100.0%)"></div><div style="height:2px;background:linear-gradient(90deg,#ff670e 0.0%,#ff5e0e 3.2%,#ff580e 6.5%,#ff550e 9.7%,#ff550d 12.9%,#ff570e 16.1%,#ff5c0e 19.4%,#ff640f 22.6%,#ff6a0d 25.8%,#ff710c 29.0%,#ff780a 32.3%,#ff7e08 35.5%,#ff8307 38.7%,#ff8507 41.9%,#ff8507 45.2%,#ff8207 48.4%,#ff7d09 51.6%,#ff760b 54.8%,#ff6e0d 58.1%,#ff640f 61.3%,#ff570e 64.5%,#ff4a0c 67.7%,#ff3f0b 71.0%,#ff370a 74.2%,#ff300a 77.4%,#ff2b09 80.6%,#ff2809 83.9%,#ff2609 87.1%,#ff2609 90.3%,#ff2709 93.5%,#ff2909 96.8%,#ff2b09 100.0%)"></div><div style="height:2px;background:linear-gradient(90deg,#ff690e 0.0%,#ff610f 3.2%,#ff5b0e 6.5%,#ff580e 9.7%,#ff570e 12.9%,#ff590e 16.1%,#ff5e0e 19.4%,#ff650f 22.6%,#ff6c0d 25.8%,#ff730b 29.0%,#ff7a0a 32.3%,#ff8008 35.5%,#ff8407 38.7%,#ff8706 41.9%,#ff8706 45.2%,#ff8407 48.4%,#ff7f08 51.6%,#ff790a 54.8%,#ff700c 58.1%,#ff670e 61.3%,#ff5a0e 64.5%,#ff4d0d 67.7%,#ff420c 71.0%,#ff390b 74.2%,#ff330a 77.4%,#ff2e09 80.6%,#ff2a09 83.9%,#ff2809 87.1%,#ff2809 90.3%,#ff2909 93.5%,#ff2b09 96.8%,#ff2d09 100.0%)"></div><div style="height:2px;background:linear-gradient(90deg,#ff6c0d 0.0%,#ff640f 3.2%,#ff5d0e 6.5%,#ff5a0e 9.7%,#ff590e 12.9%,#ff5b0e 16.1%,#ff600f 19.4%,#ff660e 22.6%,#ff6d0d 25.8%,#ff740b 29.0%,#ff7b09 32.3%,#ff8108 35.5%,#ff8606 38.7%,#ff8906 41.9%,#ff8906 45.2%,#ff8606 48.4%,#ff8208 51.6%,#ff7b09 54.8%,#ff730b 58.1%,#ff690e 61.3%,#ff5d0e 64.5%,#ff500d 67.7%,#ff450c 71.0%,#ff3c0b 74.2%,#ff350a 77.4%,#ff300a 80.6%,#ff2c09 83.9%,#ff2a09 87.1%,#ff2a09 90.3%,#ff2b09 93.5%,#ff2d09 96.8%,#ff2f0a 100.0%)"></div><div style="height:2px;background:linear-gradient(90deg,#ff6e0c 0.0%,#ff660e 3.2%,#ff600f 6.5%,#ff5c0e 9.7%,#ff5b0e 12.9%,#ff5d0e 16.1%,#ff620f 19.4%,#ff680e 22.6%,#ff6f0c 25.8%,#ff760b 29.0%,#ff7d09 32.3%,#ff8307 35.5%,#ff8806 38.7%,#ff8b05 41.9%,#ff8b05 45.2%,#ff8906 48.4%,#ff8407 51.6%,#ff7e09 54.8%,#ff760b 58.1%,#ff6c0d 61.3%,#ff600f 64.5%,#ff530d 67.7%,#ff480c 71.0%,#ff3f0b 74.2%,#ff380b 77.4%,#ff320a 80.6%,#ff2f0a 83.9%,#ff2c09 87.1%,#ff2c09 90.3%,#ff2d09 93.5%,#ff2f0a 96.8%,#ff310a 100.0%)"></div><div style="height:2px;background:linear-gradient(90deg,#ff710c 0.0%,#ff680e 3.2%,#ff630f 6.5%,#ff5e0e 9.7%,#ff5d0e 12.9%,#ff5f0f 16.1%,#ff630f 19.4%,#ff690e 22.6%,#ff700c 25.8%,#ff770a 29.0%,#ff7e08 32.3%,#ff8407 35.5%,#ff8906 38.7%,#ff8c05 41.9%,#ff8d05 45.2%,#ff8b05 48.4%,#ff8606 51.6%,#ff8008 54.8%,#ff780a 58.1%,#ff6e0c 61.3%,#ff630f 64.5%,#ff550e 67.7%,#ff4b0c 71.0%,#ff420c 74.2%,#ff3a0b 77.4%,#ff350a 80.6%,#ff310a 83.9%,#ff2f0a 87.1%,#ff2e0a 90.3%,#ff2f0a 93.5%,#ff310a 96.8%,#ff330a 100.0%)"></div><div style="height:2px;background:linear-gradient(90deg,#ff740b 0.0%,#ff6b0d 3.2%,#ff650f 6.5%,#ff610f 9.7%,#ff600f 12.9%,#ff610f 16.1%,#ff650f 19.4%,#ff6b0d 22.6%,#ff720c 25.8%,#ff790a 29.0%,#ff8008 32.3%,#ff8606 35.5%,#ff8b05 38.7%,#ff8e05 41.9%,#ff8f05 45.2%,#ff8d05 48.4%,#ff8906 51.6%,#ff8307 54.8%,#ff7b09 58.1%,#ff710c 61.3%,#ff660f 64.5%,#ff580e 67.7%,#ff4d0d 71.0%,#ff440c 74.2%,#ff3d0b 77.4%,#ff370b 80.6%,#ff330a 83.9%,#ff310a 87.1%,#ff300a 90.3%,#ff310a 93.5%,#ff330a 96.8%,#ff340a 100.0%)"></div><div style="height:2px;background:linear-gradient(90deg,#ff760a 0.0%,#ff6d0d 3.2%,#ff670e 6.5%,#ff630f 9.7%,#ff620f 12.9%,#ff630f 16.1%,#ff670e 19.4%,#ff6c0d 22.6%,#ff730b 25.8%,#ff7a09 29.0%,#ff8108 32.3%,#ff8806 35.5%,#ff8d05 38.7%,#ff9004 41.9%,#ff9004 45.2%,#ff8f05 48.4%,#ff8b05 51.6%,#ff8507 54.8%,#ff7d09 58.1%,#ff730b 61.3%,#ff680e 64.5%,#ff5b0e 67.7%,#ff500d 71.0%,#ff470c 74.2%,#ff400b 77.4%,#ff3a0b 80.6%,#ff350a 83.9%,#ff330a 87.1%,#ff320a 90.3%,#ff330a 93.5%,#ff350a 96.8%,#ff360a 100.0%)"></div><div style="height:2px;background:linear-gradient(90deg,#ff790a 0.0%,#ff700c 3.2%,#ff690e 6.5%,#ff650f 9.7%,#ff640f 12.9%,#ff650f 16.1%,#ff680e 19.4%,#ff6e0d 22.6%,#ff740b 25.8%,#ff7c09 29.0%,#ff8307 32.3%,#ff8906 35.5%,#ff8e05 38.7%,#ff9104 41.9%,#ff9204 45.2%,#ff9104 48.4%,#ff8e05 51.6%,#ff8806 54.8%,#ff8008 58.1%,#ff760b 61.3%,#ff6b0d 64.5%,#ff5e0e 67.7%,#ff530d 71.0%,#ff4a0c 74.2%,#ff420c 77.4%,#ff3c0b 80.6%,#ff380b 83.9%,#ff350a 87.1%,#ff340a 90.3%,#ff350a 93.5%,#ff370a 96.8%,#ff380b 100.0%)"></div><div style="height:2px;background:linear-gradient(90deg,#ff7c09 0.0%,#ff720b 3.2%,#ff6b0d 6.5%,#ff670e 9.7%,#ff660f 12.9%,#ff670e 16.1%,#ff6a0e 19.4%,#ff6f0c 22.6%,#ff760b 25.8%,#ff7d09 29.0%,#ff8407 32.3%,#ff8b05 35.5%,#ff9004 38.7%,#ff9304 41.9%,#ff9404 45.2%,#ff9304 48.4%,#ff9004 51.6%,#ff8a05 54.8%,#ff8207 58.1%,#ff790a 61.3%,#ff6d0d 64.5%,#ff620f 67.7%,#ff560e 71.0%,#ff4d0d 74.2%,#ff450c 77.4%,#ff3f0b 80.6%,#ff3a0b 83.9%,#ff370b 87.1%,#ff360a 90.3%,#ff370a 93.5%,#ff380b 96.8%,#ff3a0b 100.0%)"></div><div style="height:2px;background:linear-gradient(90deg,#ff7e08 0.0%,#ff750b 3.2%,#ff6e0d 6.5%,#ff690e 9.7%,#ff680e 12.9%,#ff680e 16.1%,#ff6b0d 19.4%,#ff710c 22.6%,#ff770a 25.8%,#ff7e08 29.0%,#ff8607 32.3%,#ff8c05 35.5%,#ff9104 38.7%,#ff9404 41.9%,#ff9604 45.2%,#ff9504 48.4%,#ff9204 51.6%,#ff8d05 54.8%,#ff8507 58.1%,#ff7b09 61.3%,#ff700c 64.5%,#ff650f 67.7%,#ff590e 71.0%,#ff500d 74.2%,#ff480c 77.4%,#ff410c 80.6%,#ff3c0b 83.9%,#ff390b 87.1%,#ff380b 90.3%,#ff390b 93.5%,#ff3a0b 96.8%,#ff3c0b 100.0%)"></div><div style="height:2px;background:linear-gradient(90deg,#ff8108 0.0%,#ff770a 3.2%,#ff700c 6.5%,#ff6b0d 9.7%,#ff690e 12.9%,#ff6a0e 16.1%,#ff6d0d 19.4%,#ff720b 22.6%,#ff790a 25.8%,#ff8008 29.0%,#ff8706 32.3%,#ff8e05 35.5%,#ff9304 38.7%,#ff9604 41.9%,#ff9803 45.2%,#ff9703 48.4%,#ff9404 51.6%,#ff8f05 54.8%,#ff8806 58.1%,#ff7e09 61.3%,#ff720b 64.5%,#ff670e 67.7%,#ff5c0e 71.0%,#ff530d 74.2%,#ff4b0c 77.4%,#ff440c 80.6%,#ff3f0b 83.9%,#ff3b0b 87.1%,#ff3a0b 90.3%,#ff3b0b 93.5%,#ff3c0b 96.8%,#ff3e0b 100.0%)"></div><div style="height:2px;background:linear-gradient(90deg,#ff8407 0.0%,#ff7a0a 3.2%,#ff720b 6.5%,#ff6d0d 9.7%,#ff6b0d 12.9%,#ff6c0d 16.1%,#ff6f0c 19.4%,#ff740b 22.6%,#ff7a09 25.8%,#ff8108 29.0%,#ff8906 32.3%,#ff8f05 35.5%,#ff9404 38.7%,#ff9803 41.9%,#ff9903 45.2%,#ff9903 48.4%,#ff9604 51.6%,#ff9104 54.8%,#ff8a05 58.1%,#ff8008 61.3%,#ff750b 64.5%,#ff6a0e 67.7%,#ff600f 71.0%,#ff560e 74.2%,#ff4d0d 77.4%,#ff470c 80.6%,#ff410c 83.9%,#ff3e0b 87.1%,#ff3c0b 90.3%,#ff3d0b 93.5%,#ff3e0b 96.8%,#ff3f0b 100.0%)"></div><div style="height:2px;background:linear-gradient(90deg,#ff8706 0.0%,#ff7c09 3.2%,#ff740b 6.5%,#ff6f0c 9.7%,#ff6d0d 12.9%,#ff6d0d 16.1%,#ff700c 19.4%,#ff750b 22.6%,#ff7c09 25.8%,#ff8307 29.0%,#ff8a05 32.3%,#ff9004 35.5%,#ff9604 38.7%,#ff9903 41.9%,#ff9b03 45.2%,#ff9b03 48.4%,#ff9803 51.6%,#ff9304 54.8%,#ff8d05 58.1%,#ff8307 61.3%,#ff780a 64.5%,#ff6c0d 67.7%,#ff630f 71.0%,#ff590e 74.2%,#ff500d 77.4%,#ff490c 80.6%,#ff440c 83.9%,#ff400b 87.1%,#ff3e0b 90.3%,#ff3f0b 93.5%,#ff400b 96.8%,#ff410c 100.0%)"></div><div style="height:2px;background:linear-gradient(90deg,#ff8a06 0.0%,#ff7f08 3.2%,#ff770a 6.5%,#ff710c 9.7%,#ff6f0c 12.9%,#ff6f0c 16.1%,#ff720c 19.4%,#ff770a 22.6%,#ff7d09 25.8%,#ff8407 29.0%,#ff8c05 32.3%,#ff9204 35.5%,#ff9703 38.7%,#ff9b03 41.9%,#ff9d03 45.2%,#ff9d03 48.4%,#ff9a03 51.6%,#ff9604 54.8%,#ff8f05 58.1%,#ff8607 61.3%,#ff7a09 64.5%,#ff6f0c 67.7%,#ff650f 71.0%,#ff5c0e 74.2%,#ff530d 77.4%,#ff4c0d 80.6%,#ff460c 83.9%,#ff420c 87.1%,#ff400b 90.3%,#ff400b 93.5%,#ff420c 96.8%,#ff430c 100.0%)"></div><div style="height:2px;background:linear-gradient(90deg,#ff8d05 0.0%,#ff8208 3.2%,#ff790a 6.5%,#ff740b 9.7%,#ff710c 12.9%,#ff710c 16.1%,#ff730b 19.4%,#ff780a 22.6%,#ff7f08 25.8%,#ff8607 29.0%,#ff8d05 32.3%,#ff9304 35.5%,#ff9803 38.7%,#ff9c03 41.9%,#ff9f02 45.2%,#ff9f02 48.4%,#ff9c03 51.6%,#ff9803 54.8%,#ff9104 58.1%,#ff8806 61.3%,#ff7d09 64.5%,#ff720c 67.7%,#ff680e 71.0%,#ff5f0e 74.2%,#ff560e 77.4%,#ff4e0d 80.6%,#ff480c 83.9%,#ff440c 87.1%,#ff420c 90.3%,#ff420c 93.5%,#ff440c 96.8%,#ff450c 100.0%)"></div><div style="height:2px;background:linear-gradient(90deg,#ff8f05 0.0%,#ff8407 3.2%,#ff7b09 6.5%,#ff760b 9.7%,#ff730b 12.9%,#ff730b 16.1%,#ff750b 19.4%,#ff7a0a 22.6%,#ff8008 25.8%,#ff8706 29.0%,#ff8e05 32.3%,#ff9404 35.5%,#ff9a03 38.7%,#ff9e02 41.9%,#ffa002 45.2%,#ffa002 48.4%,#ff9e02 51.6%,#ff9a03 54.8%,#ff9404 58.1%,#ff8b05 61.3%,#ff8008 64.5%,#ff750b 67.7%,#ff6b0d 71.0%,#ff620f 74.2%,#ff590e 77.4%,#ff510d 80.6%,#ff4b0c 83.9%,#ff460c 87.1%,#ff440c 90.3%,#ff440c 93.5%,#ff460c 96.8%,#ff470c 100.0%)"></div><div style="height:2px;background:linear-gradient(90deg,#ff9204 0.0%,#ff8706 3.2%,#ff7e09 6.5%,#ff780a 9.7%,#ff750b 12.9%,#ff740b 16.1%,#ff770a 19.4%,#ff7b09 22.6%,#ff8208 25.8%,#ff8906 29.0%,#ff9004 32.3%,#ff9604 35.5%,#ff9b03 38.7%,#ffa002 41.9%,#ffa202 45.2%,#ffa202 48.4%,#ffa102 51.6%,#ff9c03 54.8%,#ff9604 58.1%,#ff8e05 61.3%,#ff8307 64.5%,#ff770a 67.7%,#ff6d0d 71.0%,#ff650f 74.2%,#ff5c0e 77.4%,#ff540d 80.6%,#ff4d0d 83.9%,#ff480c 87.1%,#ff460c 90.3%,#ff460c 93.5%,#ff480c 96.8%,#ff490c 100.0%)"></div><div style="height:2px;background:linear-gradient(90deg,#ff9404 0.0%,#ff8a06 3.2%,#ff8008 6.5%,#ff7a0a 9.7%,#ff770a 12.9%,#ff760a 16.1%,#ff780a 19.4%,#ff7d09 22.6%,#ff8307 25.8%,#ff8a05 29.0%,#ff9104 32.3%,#ff9703 35.5%,#ff9d03 38.7%,#ffa102 41.9%,#ffa402 45.2%,#ffa402 48.4%,#ffa302 51.6%,#ff9f02 54.8%,#ff9803 58.1%,#ff9004 61.3%,#ff8507 64.5%,#ff7a09 67.7%,#ff700c 71.0%,#ff670e 74.2%,#ff5e0e 77.4%,#ff560e 80.6%,#ff500d 83.9%,#ff4a0c 87.1%,#ff480c 90.3%,#ff480c 93.5%,#ff4a0c 96.8%,#ff4b0c 100.0%)"></div><div style="height:2px;background:linear-gradient(90deg,#ff9703 0.0%,#ff8c05 3.2%,#ff8307 6.5%,#ff7c09 9.7%,#ff790a 12.9%,#ff780a 16.1%,#ff7a09 19.4%,#ff7e08 22.6%,#ff8407 25.8%,#ff8b05 29.0%,#ff9204 32.3%,#ff9803 35.5%,#ff9e02 38.7%,#ffa302 41.9%,#ffa501 45.2%,#ffa601 48.4%,#ffa501 51.6%,#ffa102 54.8%,#ff9b03 58.1%,#ff9204 61.3%,#ff8806 64.5%,#ff7d09 67.7%,#ff730b 71.0%,#ff6a0e 74.2%,#ff610f 77.4%,#ff590e 80.6%,#ff520d 83.9%,#ff4d0d 87.1%,#ff4a0c 90.3%,#ff4a0c 93.5%,#ff4c0d 96.8%,#ff4d0d 100.0%)"></div><div style="height:2px;background:linear-gradient(90deg,#ff9a03 0.0%,#ff8f05 3.2%,#ff8507 6.5%,#ff7e08 9.7%,#ff7b09 12.9%,#ff7a0a 16.1%,#ff7c09 19.4%,#ff8008 22.6%,#ff8607 25.8%,#ff8d05 29.0%,#ff9304 32.3%,#ff9a03 35.5%,#ffa002 38.7%,#ffa402 41.9%,#ffa701 45.2%,#ffa801 48.4%,#ffa701 51.6%,#ffa302 54.8%,#ff9d03 58.1%,#ff9504 61.3%,#ff8b05 64.5%,#ff7f08 67.7%,#ff750b 71.0%,#ff6c0d 74.2%,#ff640f 77.4%,#ff5c0e 80.6%,#ff540d 83.9%,#ff4f0d 87.1%,#ff4c0d 90.3%,#ff4c0d 93.5%,#ff4d0d 96.8%,#ff4e0d 100.0%)"></div><div style="height:2px;background:linear-gradient(90deg,#ff9c03 0.0%,#ff9104 3.2%,#ff8806 6.5%,#ff8008 9.7%,#ff7c09 12.9%,#ff7c09 16.1%,#ff7d09 19.4%,#ff8208 22.6%,#ff8706 25.8%,#ff8e05 29.0%,#ff9504 32.3%,#ff9b03 35.5%,#ffa102 38.7%,#ffa601 41.9%,#ffa901 45.2%,#ffaa01 48.4%,#ffa901 51.6%,#ffa501 54.8%,#ff9f02 58.1%,#ff9703 61.3%,#ff8d05 64.5%,#ff8207 67.7%,#ff780a 71.0%,#ff6f0c 74.2%,#ff670e 77.4%,#ff5f0e 80.6%,#ff570e 83.9%,#ff510d 87.1%,#ff4e0d 90.3%,#ff4e0d 93.5%,#ff4f0d 96.8%,#ff500d 100.0%)"></div><div style="height:2px;background:linear-gradient(90deg,#ff9f02 0.0%,#ff9304 3.2%,#ff8a06 6.5%,#ff8307 9.7%,#ff7e08 12.9%,#ff7d09 16.1%,#ff7f08 19.4%,#ff8307 22.6%,#ff8906 25.8%,#ff8f05 29.0%,#ff9604 32.3%,#ff9c03 35.5%,#ffa202 38.7%,#ffa701 41.9%,#ffab01 45.2%,#ffac00 48.4%,#ffab01 51.6%,#ffa701 54.8%,#ffa202 58.1%,#ff9903 61.3%,#ff9004 64.5%,#ff8507 67.7%,#ff7a09 71.0%,#ff710c 74.2%,#ff690e 77.4%,#ff610f 80.6%,#ff590e 83.9%,#ff530d 87.1%,#ff500d 90.3%,#ff500d 93.5%,#ff510d 96.8%,#ff520d 100.0%)"></div><div style="height:2px;background:linear-gradient(90deg,#ffa202 0.0%,#ff9604 3.2%,#ff8c05 6.5%,#ff8507 9.7%,#ff8008 12.9%,#ff7f08 16.1%,#ff8108 19.4%,#ff8507 22.6%,#ff8a05 25.8%,#ff9004 29.0%,#ff9703 32.3%,#ff9e02 35.5%,#ffa402 38.7%,#ffa901 41.9%,#ffac00 45.2%,#ffae00 48.4%,#ffad00 51.6%,#ffaa01 54.8%,#ffa402 58.1%,#ff9c03 61.3%,#ff9204 64.5%,#ff8806 67.7%,#ff7d09 71.0%,#ff740b 74.2%,#ff6b0d 77.4%,#ff640f 80.6%,#ff5c0e 83.9%,#ff550e 87.1%,#ff520d 90.3%,#ff520d 93.5%,#ff530d 96.8%,#ff540d 100.0%)"></div><div style="height:2px;background:linear-gradient(90deg,#ffa402 0.0%,#ff9803 3.2%,#ff8e05 6.5%,#ff8706 9.7%,#ff8207 12.9%,#ff8108 16.1%,#ff8207 19.4%,#ff8606 22.6%,#ff8c05 25.8%,#ff9204 29.0%,#ff9803 32.3%,#ff9f02 35.5%,#ffa501 38.7%,#ffaa01 41.9%,#ffae00 45.2%,#ffb000 48.4%,#ffaf00 51.6%,#ffac00 54.8%,#ffa601 58.1%,#ff9e02 61.3%,#ff9504 64.5%,#ff8b05 67.7%,#ff8008 71.0%,#ff760a 74.2%,#ff6e0d 77.4%,#ff660e 80.6%,#ff5e0e 83.9%,#ff580e 87.1%,#ff540d 90.3%,#ff540d 93.5%,#ff550e 96.8%,#ff560e 100.0%)"></div><div style="height:2px;background:linear-gradient(90deg,#ffa701 0.0%,#ff9b03 3.2%,#ff9104 6.5%,#ff8906 9.7%,#ff8407 12.9%,#ff8307 16.1%,#ff8407 19.4%,#ff8806 22.6%,#ff8d05 25.8%,#ff9304 29.0%,#ff9903 32.3%,#ffa002 35.5%,#ffa601 38.7%,#ffac00 41.9%,#ffb000 45.2%,#ffb200 48.4%,#ffb100 51.6%,#ffae00 54.8%,#ffa801 58.1%,#ffa002 61.3%,#ff9703 64.5%,#ff8d05 67.7%,#ff8307 71.0%,#ff790a 74.2%,#ff700c 77.4%,#ff680e 80.6%,#ff610f 83.9%,#ff5a0e 87.1%,#ff560e 90.3%,#ff550e 93.5%,#ff570e 96.8%,#ff580e 100.0%)"></div><div style="height:2px;background:linear-gradient(90deg,#ffaa01 0.0%,#ff9d03 3.2%,#ff9304 6.5%,#ff8b05 9.7%,#ff8606 12.9%,#ff8507 16.1%,#ff8607 19.4%,#ff8906 22.6%,#ff8e05 25.8%,#ff9404 29.0%,#ff9b03 32.3%,#ffa102 35.5%,#ffa801 38.7%,#ffad00 41.9%,#ffb100 45.2%,#ffb400 48.4%,#ffb400 51.6%,#ffb000 54.8%,#ffab01 58.1%,#ffa302 61.3%,#ff9903 64.5%,#ff8f05 67.7%,#ff8507 71.0%,#ff7b09 74.2%,#ff730b 77.4%,#ff6b0d 80.6%,#ff630f 83.9%,#ff5c0e 87.1%,#ff580e 90.3%,#ff570e 93.5%,#ff590e 96.8%,#ff5a0e 100.0%)"></div><div style="height:2px;background:linear-gradient(90deg,#ffac00 0.0%,#ffa002 3.2%,#ff9504 6.5%,#ff8d05 9.7%,#ff8806 12.9%,#ff8706 16.1%,#ff8706 19.4%,#ff8b05 22.6%,#ff9004 25.8%,#ff9504 29.0%,#ff9c03 32.3%,#ffa202 35.5%,#ffa901 38.7%,#ffaf00 41.9%,#ffb300 45.2%,#ffb600 48.4%,#ffb600 51.6%,#ffb300 54.8%,#ffad00 58.1%,#ffa501 61.3%,#ff9c03 64.5%,#ff9204 67.7%,#ff8806 71.0%,#ff7e09 74.2%,#ff750b 77.4%,#ff6d0d 80.6%,#ff660f 83.9%,#ff5e0e 87.1%,#ff5a0e 90.3%,#ff590e 93.5%,#ff5b0e 96.8%,#ff5b0e 100.0%)"></div><div style="height:2px;background:linear-gradient(90deg,#ffaf00 0.0%,#ffa202 3.2%,#ff9703 6.5%,#ff8f05 9.7%,#ff8a05 12.9%,#ff8806 16.1%,#ff8906 19.4%,#ff8c05 22.6%,#ff9104 25.8%,#ff9604 29.0%,#ff9d03 32.3%,#ffa402 35.5%,#ffaa01 38.7%,#ffb000 41.9%,#ffb500 45.2%,#ffb800 48.4%,#ffb800 51.6%,#ffb500 54.8%,#ffaf00 58.1%,#ffa701 61.3%,#ff9e02 64.5%,#ff9404 67.7%,#ff8b05 71.0%,#ff8008 74.2%,#ff770a 77.4%,#ff6f0c 80.6%,#ff680e 83.9%,#ff610f 87.1%,#ff5c0e 90.3%,#ff5b0e 93.5%,#ff5c0e 96.8%,#ff5d0e 100.0%)"></div><div style="height:2px;background:linear-gradient(90deg,#ffb300 0.0%,#ffa501 3.2%,#ff9903 6.5%,#ff9104 9.7%,#ff8c05 12.9%,#ff8a05 16.1%,#ff8b05 19.4%,#ff8e05 22.6%,#ff9204 25.8%,#ff9803 29.0%,#ff9e02 32.3%,#ffa501 35.5%,#ffab01 38.7%,#ffb200 41.9%,#ffb700 45.2%,#ffba00 48.4%,#ffba00 51.6%,#ffb800 54.8%,#ffb200 58.1%,#ffaa01 61.3%,#ffa002 64.5%,#ff9703 67.7%,#ff8d05 71.0%,#ff8307 74.2%,#ff7a0a 77.4%,#ff710c 80.6%,#ff6a0e 83.9%,#ff630f 87.1%,#ff5e0e 90.3%,#ff5d0e 93.5%,#ff5e0e 96.8%,#ff5f0e 100.0%)"></div><div style="height:2px;background:linear-gradient(90deg,#ffb600 0.0%,#ffa701 3.2%,#ff9c03 6.5%,#ff9304 9.7%,#ff8e05 12.9%,#ff8c05 16.1%,#ff8c05 19.4%,#ff8f05 22.6%,#ff9304 25.8%,#ff9903 29.0%,#ff9f02 32.3%,#ffa601 35.5%,#ffad00 38.7%,#ffb300 41.9%,#ffb900 45.2%,#ffbc00 48.4%,#ffbd00 51.6%,#ffba00 54.8%,#ffb500 58.1%,#ffac00 61.3%,#ffa302 64.5%,#ff9903 67.7%,#ff8f05 71.0%,#ff8607 74.2%,#ff7c09 77.4%,#ff740b 80.6%,#ff6c0d 83.9%,#ff650f 87.1%,#ff600f 90.3%,#ff5f0f 93.5%,#ff600f 96.8%,#ff610f 100.0%)"></div><div style="height:2px;background:linear-gradient(90deg,#ffb900 0.0%,#ffa901 3.2%,#ff9e02 6.5%,#ff9504 9.7%,#ff9004 12.9%,#ff8e05 16.1%,#ff8e05 19.4%,#ff9004 22.6%,#ff9504 25.8%,#ff9a03 29.0%,#ffa002 32.3%,#ffa701 35.5%,#ffae00 38.7%,#ffb500 41.9%,#ffbb00 45.2%,#ffbe00 48.4%,#ffbf00 51.6%,#ffbd00 54.8%,#ffb700 58.1%,#ffae00 61.3%,#ffa501 64.5%,#ff9b03 67.7%,#ff9204 71.0%,#ff8806 74.2%,#ff7f08 77.4%,#ff760b 80.6%,#ff6e0d 83.9%,#ff670e 87.1%,#ff620f 90.3%,#ff610f 93.5%,#ff620f 96.8%,#ff620f 100.0%)"></div><div style="height:2px;background:linear-gradient(90deg,#ffbd00 0.0%,#ffac00 3.2%,#ffa002 6.5%,#ff9703 9.7%,#ff9204 12.9%,#ff8f05 16.1%,#ff8f05 19.4%,#ff9204 22.6%,#ff9604 25.8%,#ff9b03 29.0%,#ffa102 32.3%,#ffa801 35.5%,#ffaf00 38.7%,#ffb700 41.9%,#ffbd00 45.2%,#ffc000 48.4%,#ffc100 51.6%,#ffbf00 54.8%,#ffba00 58.1%,#ffb100 61.3%,#ffa701 64.5%,#ff9e02 67.7%,#ff9404 71.0%,#ff8b05 74.2%,#ff8108 77.4%,#ff780a 80.6%,#ff700c 83.9%,#ff690e 87.1%,#ff640f 90.3%,#ff630f 93.5%,#ff640f 96.8%,#ff640f 100.0%)"></div><div style="height:2px;background:linear-gradient(90deg,#ffc000 0.0%,#ffae00 3.2%,#ffa202 6.5%,#ff9903 9.7%,#ff9404 12.9%,#ff9104 16.1%,#ff9104 19.4%,#ff9304 22.6%,#ff9703 25.8%,#ff9c03 29.0%,#ffa202 32.3%,#ffa901 35.5%,#ffb000 38.7%,#ffb800 41.9%,#ffbe00 45.2%,#ffc200 48.4%,#ffc300 51.6%,#ffc200 54.8%,#ffbc00 58.1%,#ffb400 61.3%,#ffaa01 64.5%,#ffa002 67.7%,#ff9604 71.0%,#ff8d05 74.2%,#ff8407 77.4%,#ff7a09 80.6%,#ff720b 83.9%,#ff6b0d 87.1%,#ff660e 90.3%,#ff650f 93.5%,#ff650f 96.8%,#ff650f 100.0%)"></div><div style="height:2px;background:linear-gradient(90deg,#ffc300 0.0%,#ffb100 3.2%,#ffa402 6.5%,#ff9b03 9.7%,#ff9504 12.9%,#ff9304 16.1%,#ff9204 19.4%,#ff9404 22.6%,#ff9803 25.8%,#ff9d03 29.0%,#ffa402 32.3%,#ffaa01 35.5%,#ffb200 38.7%,#ffba00 41.9%,#ffc000 45.2%,#ffc400 48.4%,#ffc600 51.6%,#ffc400 54.8%,#ffbf00 58.1%,#ffb600 61.3%,#ffac00 64.5%,#ffa202 67.7%,#ff9803 71.0%,#ff8f05 74.2%,#ff8607 77.4%,#ff7d09 80.6%,#ff740b 83.9%,#ff6d0d 87.1%,#ff680e 90.3%,#ff660e 93.5%,#ff660e 96.8%,#ff660e 100.0%)"></div><div style="height:2px;background:linear-gradient(90deg,#ffc700 0.0%,#ffb400 3.2%,#ffa701 6.5%,#ff9d03 9.7%,#ff9703 12.9%,#ff9404 16.1%,#ff9404 19.4%,#ff9604 22.6%,#ff9903 25.8%,#ff9e02 29.0%,#ffa501 32.3%,#ffab01 35.5%,#ffb300 38.7%,#ffbb00 41.9%,#ffc200 45.2%,#ffc600 48.4%,#ffc800 51.6%,#ffc700 54.8%,#ffc100 58.1%,#ffb900 61.3%,#ffae00 64.5%,#ffa402 67.7%,#ff9b03 71.0%,#ff9204 74.2%,#ff8806 77.4%,#ff7f08 80.6%,#ff760a 83.9%,#ff6f0c 87.1%,#ff6a0e 90.3%,#ff680e 93.5%,#ff680e 96.8%,#ff670e 100.0%)"></div><div style="height:2px;background:linear-gradient(90deg,#ffcb00 0.0%,#ffb700 3.2%,#ffa901 6.5%,#ff9f02 9.7%,#ff9903 12.9%,#ff9604 16.1%,#ff9504 19.4%,#ff9703 22.6%,#ff9b03 25.8%,#ffa002 29.0%,#ffa601 32.3%,#ffac00 35.5%,#ffb400 38.7%,#ffbc00 41.9%,#ffc300 45.2%,#ffc800 48.4%,#ffcb00 51.6%,#ffca00 54.8%,#ffc400 58.1%,#ffbb00 61.3%,#ffb100 64.5%,#ffa701 67.7%,#ff9d03 71.0%,#ff9404 74.2%,#ff8b05 77.4%,#ff8108 80.6%,#ff780a 83.9%,#ff710c 87.1%,#ff6c0d 90.3%,#ff6a0e 93.5%,#ff690e 96.8%,#ff680e 100.0%)"></div><div style="height:2px;background:linear-gradient(90deg,#ffcf00 0.0%,#ffba00 3.2%,#ffab01 6.5%,#ffa102 9.7%,#ff9b03 12.9%,#ff9703 16.1%,#ff9703 19.4%,#ff9803 22.6%,#ff9c03 25.8%,#ffa102 29.0%,#ffa701 32.3%,#ffad00 35.5%,#ffb600 38.7%,#ffbe00 41.9%,#ffc500 45.2%,#ffca00 48.4%,#ffcd00 51.6%,#ffcc00 54.8%,#ffc700 58.1%,#ffbe00 61.3%,#ffb300 64.5%,#ffa901 67.7%,#ff9f02 71.0%,#ff9604 74.2%,#ff8d05 77.4%,#ff8407 80.6%,#ff7b09 83.9%,#ff730b 87.1%,#ff6e0d 90.3%,#ff6b0d 93.5%,#ff6a0d 96.8%,#ff6a0e 100.0%)"></div><div style="height:2px;background:linear-gradient(90deg,#ffd400 0.0%,#ffbd00 3.2%,#ffad00 6.5%,#ffa302 9.7%,#ff9d03 12.9%,#ff9903 16.1%,#ff9803 19.4%,#ff9a03 22.6%,#ff9d03 25.8%,#ffa202 29.0%,#ffa801 32.3%,#ffae00 35.5%,#ffb700 38.7%,#ffbf00 41.9%,#ffc700 45.2%,#ffcd00 48.4%,#ffd000 51.6%,#ffcf00 54.8%,#ffca00 58.1%,#ffc000 61.3%,#ffb600 64.5%,#ffab01 67.7%,#ffa102 71.0%,#ff9803 74.2%,#ff8f05 77.4%,#ff8607 80.6%,#ff7d09 83.9%,#ff750b 87.1%,#ff6f0c 90.3%,#ff6d0d 93.5%,#ff6c0d 96.8%,#ff6b0d 100.0%)"></div><div style="height:2px;background:linear-gradient(90deg,#ffd800 0.0%,#ffc000 3.2%,#ffb000 6.5%,#ffa601 9.7%,#ff9f02 12.9%,#ff9b03 16.1%,#ff9a03 19.4%,#ff9b03 22.6%,#ff9e02 25.8%,#ffa302 29.0%,#ffa901 32.3%,#ffaf00 35.5%,#ffb800 38.7%,#ffc000 41.9%,#ffc800 45.2%,#ffcf00 48.4%,#ffd200 51.6%,#ffd200 54.8%,#ffcc00 58.1%,#ffc300 61.3%,#ffb800 64.5%,#ffad00 67.7%,#ffa402 71.0%,#ff9a03 74.2%,#ff9104 77.4%,#ff8806 80.6%,#ff7f08 83.9%,#ff770a 87.1%,#ff710c 90.3%,#ff6e0c 93.5%,#ff6d0d 96.8%,#ff6c0d 100.0%)"></div><div style="height:2px;background:linear-gradient(90deg,#ffdc00 0.0%,#ffc300 3.2%,#ffb300 6.5%,#ffa801 9.7%,#ffa002 12.9%,#ff9c03 16.1%,#ff9b03 19.4%,#ff9c03 22.6%,#ff9f02 25.8%,#ffa402 29.0%,#ffaa01 32.3%,#ffb000 35.5%,#ffb900 38.7%,#ffc200 41.9%,#ffca00 45.2%,#ffd100 48.4%,#ffd400 51.6%,#ffd400 54.8%,#ffcf00 58.1%,#ffc600 61.3%,#ffbb00 64.5%,#ffaf00 67.7%,#ffa601 71.0%,#ff9c03 74.2%,#ff9304 77.4%,#ff8a05 80.6%,#ff8108 83.9%,#ff790a 87.1%,#ff730b 90.3%,#ff700c 93.5%,#ff6e0c 96.8%,#ff6c0d 100.0%)"></div><div style="height:2px;background:linear-gradient(90deg,#ffe000 0.0%,#ffc700 3.2%,#ffb600 6.5%,#ffaa01 9.7%,#ffa202 12.9%,#ff9e02 16.1%,#ff9d03 19.4%,#ff9d03 22.6%,#ffa002 25.8%,#ffa501 29.0%,#ffaa01 32.3%,#ffb200 35.5%,#ffba00 38.7%,#ffc300 41.9%,#ffcc00 45.2%,#ffd300 48.4%,#ffd600 51.6%,#ffd700 54.8%,#ffd200 58.1%,#ffc900 61.3%,#ffbe00 64.5%,#ffb200 67.7%,#ffa801 71.0%,#ff9e02 74.2%,#ff9504 77.4%,#ff8d05 80.6%,#ff8307 83.9%,#ff7b09 87.1%,#ff750b 90.3%,#ff710c 93.5%,#ff6f0c 96.8%,#ff6d0d 100.0%)"></div><div style="height:2px;background:linear-gradient(90deg,#ffe300 0.0%,#ffcb00 3.2%,#ffb800 6.5%,#ffac00 9.7%,#ffa402 12.9%,#ffa002 16.1%,#ff9e02 19.4%,#ff9f02 22.6%,#ffa102 25.8%,#ffa601 29.0%,#ffab01 32.3%,#ffb300 35.5%,#ffbb00 38.7%,#ffc400 41.9%,#ffcd00 45.2%,#ffd400 48.4%,#ffd900 51.6%,#ffd900 54.8%,#ffd500 58.1%,#ffcc00 61.3%,#ffc000 64.5%,#ffb400 67.7%,#ffaa01 71.0%,#ffa102 74.2%,#ff9703 77.4%,#ff8f05 80.6%,#ff8507 83.9%,#ff7d09 87.1%,#ff770a 90.3%,#ff730b 93.5%,#ff710c 96.8%,#ff6e0c 100.0%)"></div><div style="height:2px;background:linear-gradient(90deg,#ffe600 0.0%,#ffcf00 3.2%,#ffbb00 6.5%,#ffae00 9.7%,#ffa601 12.9%,#ffa102 16.1%,#ff9f02 19.4%,#ffa002 22.6%,#ffa302 25.8%,#ffa701 29.0%,#ffac00 32.3%,#ffb400 35.5%,#ffbc00 38.7%,#ffc500 41.9%,#ffcf00 45.2%,#ffd600 48.4%,#ffdb00 51.6%,#ffdb00 54.8%,#ffd700 58.1%,#ffce00 61.3%,#ffc200 64.5%,#ffb700 67.7%,#ffac00 71.0%,#ffa302 74.2%,#ff9903 77.4%,#ff9004 80.6%,#ff8806 83.9%,#ff7f08 87.1%,#ff790a 90.3%,#ff750b 93.5%,#ff720c 96.8%,#ff6f0c 100.0%)"></div><div style="height:2px;background:linear-gradient(90deg,#ffea00 0.0%,#ffd300 3.2%,#ffbe00 6.5%,#ffb000 9.7%,#ffa801 12.9%,#ffa302 16.1%,#ffa102 19.4%,#ffa102 22.6%,#ffa402 25.8%,#ffa801 29.0%,#ffad00 32.3%,#ffb500 35.5%,#ffbd00 38.7%,#ffc700 41.9%,#ffd000 45.2%,#ffd800 48.4%,#ffdd00 51.6%,#ffde00 54.8%,#ffda00 58.1%,#ffd100 61.3%,#ffc500 64.5%,#ffb900 67.7%,#ffae00 71.0%,#ffa501 74.2%,#ff9b03 77.4%,#ff9204 80.6%,#ff8a06 83.9%,#ff8108 87.1%,#ff7b09 90.3%,#ff760a 93.5%,#ff730b 96.8%,#ff700c 100.0%)"></div><div style="height:2px;background:linear-gradient(90deg,#ffed00 0.0%,#ffd700 3.2%,#ffc100 6.5%,#ffb300 9.7%,#ffaa01 12.9%,#ffa501 16.1%,#ffa202 19.4%,#ffa302 22.6%,#ffa501 25.8%,#ffa901 29.0%,#ffae00 32.3%,#ffb500 35.5%,#ffbe00 38.7%,#ffc800 41.9%,#ffd200 45.2%,#ffda00 48.4%,#ffde00 51.6%,#ffdf00 54.8%,#ffdc00 58.1%,#ffd400 61.3%,#ffc800 64.5%,#ffbc00 67.7%,#ffb000 71.0%,#ffa701 74.2%,#ff9d03 77.4%,#ff9404 80.6%,#ff8c05 83.9%,#ff8307 87.1%,#ff7c09 90.3%,#ff780a 93.5%,#ff740b 96.8%,#ff710c 100.0%)"></div><div style="height:2px;background:linear-gradient(90deg,#fff000 0.0%,#ffdc00 3.2%,#ffc500 6.5%,#ffb600 9.7%,#ffac00 12.9%,#ffa601 16.1%,#ffa402 19.4%,#ffa402 22.6%,#ffa601 25.8%,#ffa901 29.0%,#ffaf00 32.3%,#ffb600 35.5%,#ffbf00 38.7%,#ffc900 41.9%,#ffd300 45.2%,#ffdb00 48.4%,#ffe000 51.6%,#ffe100 54.8%,#ffdf00 58.1%,#ffd700 61.3%,#ffcb00 64.5%,#ffbe00 67.7%,#ffb300 71.0%,#ffa901 74.2%,#ff9f02 77.4%,#ff9604 80.6%,#ff8e05 83.9%,#ff8507 87.1%,#ff7e08 90.3%,#ff790a 93.5%,#ff760b 96.8%,#ff720b 100.0%)"></div><div style="height:2px;background:linear-gradient(90deg,#fff300 0.0%,#ffe000 3.2%,#ffc800 6.5%,#ffb800 9.7%,#ffad00 12.9%,#ffa801 16.1%,#ffa501 19.4%,#ffa501 22.6%,#ffa701 25.8%,#ffaa01 29.0%,#ffb000 32.3%,#ffb700 35.5%,#ffc000 38.7%,#ffca00 41.9%,#ffd400 45.2%,#ffdd00 48.4%,#ffe100 51.6%,#ffe300 54.8%,#ffe100 58.1%,#ffd900 61.3%,#ffcd00 64.5%,#ffc000 67.7%,#ffb500 71.0%,#ffab01 74.2%,#ffa102 77.4%,#ff9803 80.6%,#ff8f05 83.9%,#ff8706 87.1%,#ff8008 90.3%,#ff7b09 93.5%,#ff770a 96.8%,#ff730b 100.0%)"></div><div style="height:2px;background:linear-gradient(90deg,#fff500 0.0%,#ffe300 3.2%,#ffcc00 6.5%,#ffbb00 9.7%,#ffaf00 12.9%,#ffa901 16.1%,#ffa701 19.4%,#ffa601 22.6%,#ffa801 25.8%,#ffab01 29.0%,#ffb000 32.3%,#ffb800 35.5%,#ffc100 38.7%,#ffcb00 41.9%,#ffd600 45.2%,#ffde00 48.4%,#ffe300 51.6%,#ffe400 54.8%,#ffe200 58.1%,#ffdc00 61.3%,#ffd000 64.5%,#ffc300 67.7%,#ffb700 71.0%,#ffad00 74.2%,#ffa302 77.4%,#ff9a03 80.6%,#ff9104 83.9%,#ff8906 87.1%,#ff8208 90.3%,#ff7c09 93.5%,#ff780a 96.8%,#ff740b 100.0%)"></div><div style="height:2px;background:linear-gradient(90deg,#fff800 0.0%,#ffe600 3.2%,#ffd000 6.5%,#ffbd00 9.7%,#ffb200 12.9%,#ffab01 16.1%,#ffa801 19.4%,#ffa801 22.6%,#ffa901 25.8%,#ffac00 29.0%,#ffb100 32.3%,#ffb900 35.5%,#ffc100 38.7%,#ffcc00 41.9%,#ffd700 45.2%,#ffdf00 48.4%,#ffe400 51.6%,#ffe600 54.8%,#ffe400 58.1%,#ffde00 61.3%,#ffd300 64.5%,#ffc500 67.7%,#ffba00 71.0%,#ffaf00 74.2%,#ffa501 77.4%,#ff9c03 80.6%,#ff9304 83.9%,#ff8b05 87.1%,#ff8307 90.3%,#ff7e09 93.5%,#ff790a 96.8%,#ff750b 100.0%)"></div><div style="height:2px;background:linear-gradient(90deg,#fffa00 0.0%,#ffea00 3.2%,#ffd400 6.5%,#ffc000 9.7%,#ffb400 12.9%,#ffad00 16.1%,#ffaa01 19.4%,#ffa901 22.6%,#ffaa01 25.8%,#ffad00 29.0%,#ffb200 32.3%,#ffb900 35.5%,#ffc200 38.7%,#ffcd00 41.9%,#ffd800 45.2%,#ffe000 48.4%,#ffe500 51.6%,#ffe700 54.8%,#ffe600 58.1%,#ffe000 61.3%,#ffd600 64.5%,#ffc800 67.7%,#ffbc00 71.0%,#ffb100 74.2%,#ffa701 77.4%,#ff9e02 80.6%,#ff9504 83.9%,#ff8d05 87.1%,#ff8507 90.3%,#ff7f08 93.5%,#ff7a09 96.8%,#ff760b 100.0%)"></div><div style="height:2px;background:linear-gradient(90deg,#fffc00 0.0%,#ffed00 3.2%,#ffd800 6.5%,#ffc300 9.7%,#ffb600 12.9%,#ffae00 16.1%,#ffab01 19.4%,#ffaa01 22.6%,#ffab01 25.8%,#ffae00 29.0%,#ffb300 32.3%,#ffba00 35.5%,#ffc300 38.7%,#ffce00 41.9%,#ffd900 45.2%,#ffe100 48.4%,#ffe700 51.6%,#ffe900 54.8%,#ffe800 58.1%,#ffe200 61.3%,#ffd800 64.5%,#ffcb00 67.7%,#ffbe00 71.0%,#ffb300 74.2%,#ffa901 77.4%,#ffa002 80.6%,#ff9703 83.9%,#ff8e05 87.1%,#ff8706 90.3%,#ff8008 93.5%,#ff7b09 96.8%,#ff760a 100.0%)"></div><div style="height:2px;background:linear-gradient(90deg,#fffe00 0.0%,#fff000 3.2%,#ffdc00 6.5%,#ffc600 9.7%,#ffb900 12.9%,#ffb000 16.1%,#ffac00 19.4%,#ffab01 22.6%,#ffac00 25.8%,#ffaf00 29.0%,#ffb400 32.3%,#ffbb00 35.5%,#ffc300 38.7%,#ffcf00 41.9%,#ffda00 45.2%,#ffe200 48.4%,#ffe800 51.6%,#ffea00 54.8%,#ffe900 58.1%,#ffe400 61.3%,#ffdb00 64.5%,#ffcd00 67.7%,#ffc000 71.0%,#ffb500 74.2%,#ffab01 77.4%,#ffa102 80.6%,#ff9803 83.9%,#ff9004 87.1%,#ff8806 90.3%,#ff8208 93.5%,#ff7c09 96.8%,#ff770a 100.0%)"></div><div style="height:2px;background:linear-gradient(90deg,#ffff05 0.0%,#fff300 3.2%,#ffdf00 6.5%,#ffc900 9.7%,#ffbb00 12.9%,#ffb200 16.1%,#ffae00 19.4%,#ffac00 22.6%,#ffad00 25.8%,#ffaf00 29.0%,#ffb400 32.3%,#ffbb00 35.5%,#ffc400 38.7%,#ffcf00 41.9%,#ffdb00 45.2%,#ffe300 48.4%,#ffe900 51.6%,#ffec00 54.8%,#ffeb00 58.1%,#ffe600 61.3%,#ffdd00 64.5%,#ffd000 67.7%,#ffc300 71.0%,#ffb700 74.2%,#ffad00 77.4%,#ffa302 80.6%,#ff9a03 83.9%,#ff9204 87.1%,#ff8a05 90.3%,#ff8307 93.5%,#ff7d09 96.8%,#ff780a 100.0%)"></div><div style="height:2px;background:linear-gradient(90deg,#ffff0b 0.0%,#fff500 3.2%,#ffe200 6.5%,#ffcd00 9.7%,#ffbd00 12.9%,#ffb400 16.1%,#ffaf00 19.4%,#ffae00 22.6%,#ffae00 25.8%,#ffb000 29.0%,#ffb500 32.3%,#ffbc00 35.5%,#ffc500 38.7%,#ffd000 41.9%,#ffdb00 45.2%,#ffe400 48.4%,#ffea00 51.6%,#ffed00 54.8%,#ffec00 58.1%,#ffe800 61.3%,#ffdf00 64.5%,#ffd200 67.7%,#ffc500 71.0%,#ffb900 74.2%,#ffae00 77.4%,#ffa501 80.6%,#ff9c03 83.9%,#ff9304 87.1%,#ff8c05 90.3%,#ff8507 93.5%,#ff7e08 96.8%,#ff790a 100.0%)"></div><div style="height:2px;background:linear-gradient(90deg,#ffff11 0.0%,#fff700 3.2%,#ffe500 6.5%,#ffd000 9.7%,#ffbf00 12.9%,#ffb600 16.1%,#ffb100 19.4%,#ffaf00 22.6%,#ffaf00 25.8%,#ffb100 29.0%,#ffb600 32.3%,#ffbc00 35.5%,#ffc500 38.7%,#ffd100 41.9%,#ffdc00 45.2%,#ffe500 48.4%,#ffeb00 51.6%,#ffee00 54.8%,#ffee00 58.1%,#ffe900 61.3%,#ffe100 64.5%,#ffd500 67.7%,#ffc700 71.0%,#ffbc00 74.2%,#ffb000 77.4%,#ffa701 80.6%,#ff9d03 83.9%,#ff9504 87.1%,#ff8d05 90.3%,#ff8607 93.5%,#ff7f08 96.8%,#ff7a0a 100.0%)"></div><div style="height:2px;background:linear-gradient(90deg,#ffff17 0.0%,#fff900 3.2%,#ffe800 6.5%,#ffd300 9.7%,#ffc200 12.9%,#ffb800 16.1%,#ffb300 19.4%,#ffb000 22.6%,#ffb000 25.8%,#ffb200 29.0%,#ffb600 32.3%,#ffbd00 35.5%,#ffc600 38.7%,#ffd100 41.9%,#ffdd00 45.2%,#ffe500 48.4%,#ffec00 51.6%,#fff000 54.8%,#ffef00 58.1%,#ffeb00 61.3%,#ffe300 64.5%,#ffd700 67.7%,#ffca00 71.0%,#ffbe00 74.2%,#ffb200 77.4%,#ffa801 80.6%,#ff9f02 83.9%,#ff9604 87.1%,#ff8f05 90.3%,#ff8706 93.5%,#ff8108 96.8%,#ff7b09 100.0%)"></div><div style="height:2px;background:linear-gradient(90deg,#ffff1c 0.0%,#fffb00 3.2%,#ffeb00 6.5%,#ffd700 9.7%,#ffc400 12.9%,#ffba00 16.1%,#ffb400 19.4%,#ffb100 22.6%,#ffb100 25.8%,#ffb300 29.0%,#ffb700 32.3%,#ffbd00 35.5%,#ffc600 38.7%,#ffd200 41.9%,#ffde00 45.2%,#ffe600 48.4%,#ffed00 51.6%,#fff100 54.8%,#fff100 58.1%,#ffec00 61.3%,#ffe400 64.5%,#ffda00 67.7%,#ffcc00 71.0%,#ffc000 74.2%,#ffb400 77.4%,#ffaa01 80.6%,#ffa102 83.9%,#ff9803 87.1%,#ff9004 90.3%,#ff8806 93.5%,#ff8208 96.8%,#ff7b09 100.0%)"></div><div style="height:2px;background:linear-gradient(90deg,#ffff22 0.0%,#fffd00 3.2%,#ffee00 6.5%,#ffda00 9.7%,#ffc700 12.9%,#ffbc00 16.1%,#ffb600 19.4%,#ffb300 22.6%,#ffb200 25.8%,#ffb400 29.0%,#ffb800 32.3%,#ffbe00 35.5%,#ffc700 38.7%,#ffd200 41.9%,#ffde00 45.2%,#ffe700 48.4%,#ffed00 51.6%,#fff200 54.8%,#fff200 58.1%,#ffee00 61.3%,#ffe600 64.5%,#ffdc00 67.7%,#ffce00 71.0%,#ffc100 74.2%,#ffb600 77.4%,#ffac00 80.6%,#ffa202 83.9%,#ff9903 87.1%,#ff9104 90.3%,#ff8a06 93.5%,#ff8307 96.8%,#ff7c09 100.0%)"></div><div style="height:2px;background:linear-gradient(90deg,#ffff29 0.0%,#ffff01 3.2%,#fff100 6.5%,#ffdd00 9.7%,#ffca00 12.9%,#ffbe00 16.1%,#ffb800 19.4%,#ffb400 22.6%,#ffb300 25.8%,#ffb400 29.0%,#ffb800 32.3%,#ffbe00 35.5%,#ffc700 38.7%,#ffd300 41.9%,#ffde00 45.2%,#ffe700 48.4%,#ffee00 51.6%,#fff300 54.8%,#fff300 58.1%,#ffef00 61.3%,#ffe800 64.5%,#ffde00 67.7%,#ffd100 71.0%,#ffc300 74.2%,#ffb800 77.4%,#ffad00 80.6%,#ffa402 83.9%,#ff9b03 87.1%,#ff9304 90.3%,#ff8b05 93.5%,#ff8407 96.8%,#ff7d09 100.0%)"></div><div style="height:2px;background:linear-gradient(90deg,#ffff2f 0.0%,#ffff06 3.2%,#fff300 6.5%,#ffe000 9.7%,#ffcd00 12.9%,#ffc000 16.1%,#ffb900 19.4%,#ffb500 22.6%,#ffb400 25.8%,#ffb500 29.0%,#ffb900 32.3%,#ffbf00 35.5%,#ffc700 38.7%,#ffd300 41.9%,#ffdf00 45.2%,#ffe800 48.4%,#ffef00 51.6%,#fff300 54.8%,#fff400 58.1%,#fff100 61.3%,#ffe900 64.5%,#ffdf00 67.7%,#ffd300 71.0%,#ffc500 74.2%,#ffba00 77.4%,#ffaf00 80.6%,#ffa501 83.9%,#ff9c03 87.1%,#ff9404 90.3%,#ff8c05 93.5%,#ff8407 96.8%,#ff7e09 100.0%)"></div><div style="height:2px;background:linear-gradient(90deg,#ffff36 0.0%,#ffff0b 3.2%,#fff500 6.5%,#ffe200 9.7%,#ffcf00 12.9%,#ffc200 16.1%,#ffbb00 19.4%,#ffb700 22.6%,#ffb500 25.8%,#ffb600 29.0%,#ffb900 32.3%,#ffbf00 35.5%,#ffc800 38.7%,#ffd300 41.9%,#ffdf00 45.2%,#ffe800 48.4%,#fff000 51.6%,#fff400 54.8%,#fff500 58.1%,#fff200 61.3%,#ffeb00 64.5%,#ffe100 67.7%,#ffd500 71.0%,#ffc700 74.2%,#ffbc00 77.4%,#ffb100 80.6%,#ffa701 83.9%,#ff9e02 87.1%,#ff9504 90.3%,#ff8d05 93.5%,#ff8507 96.8%,#ff7e08 100.0%)"></div><div style="height:2px;background:linear-gradient(90deg,#ffff3c 0.0%,#ffff10 3.2%,#fff600 6.5%,#ffe500 9.7%,#ffd200 12.9%,#ffc400 16.1%,#ffbd00 19.4%,#ffb800 22.6%,#ffb600 25.8%,#ffb700 29.0%,#ffba00 32.3%,#ffbf00 35.5%,#ffc800 38.7%,#ffd400 41.9%,#ffdf00 45.2%,#ffe800 48.4%,#fff000 51.6%,#fff400 54.8%,#fff500 58.1%,#fff300 61.3%,#ffec00 64.5%,#ffe200 67.7%,#ffd700 71.0%,#ffca00 74.2%,#ffbe00 77.4%,#ffb200 80.6%,#ffa801 83.9%,#ff9f02 87.1%,#ff9604 90.3%,#ff8e05 93.5%,#ff8606 96.8%,#ff7f08 100.0%)"></div><div style="height:2px;background:linear-gradient(90deg,#ffff42 0.0%,#ffff15 3.2%,#fff800 6.5%,#ffe700 9.7%,#ffd500 12.9%,#ffc600 16.1%,#ffbe00 19.4%,#ffb900 22.6%,#ffb700 25.8%,#ffb700 29.0%,#ffba00 32.3%,#ffbf00 35.5%,#ffc800 38.7%,#ffd400 41.9%,#ffdf00 45.2%,#ffe900 48.4%,#fff100 51.6%,#fff500 54.8%,#fff600 58.1%,#fff400 61.3%,#ffed00 64.5%,#ffe400 67.7%,#ffd900 71.0%,#ffcc00 74.2%,#ffbf00 77.4%,#ffb400 80.6%,#ffaa01 83.9%,#ffa002 87.1%,#ff9803 90.3%,#ff8f05 93.5%,#ff8706 96.8%,#ff8008 100.0%)"></div><div style="height:2px;background:linear-gradient(90deg,#ffff48 0.0%,#ffff1a 3.2%,#fffa00 6.5%,#ffea00 9.7%,#ffd800 12.9%,#ffc900 16.1%,#ffc000 19.4%,#ffbb00 22.6%,#ffb800 25.8%,#ffb800 29.0%,#ffba00 32.3%,#ffc000 35.5%,#ffc800 38.7%,#ffd400 41.9%,#ffe000 45.2%,#ffe900 48.4%,#fff100 51.6%,#fff500 54.8%,#fff700 58.1%,#fff400 61.3%,#ffee00 64.5%,#ffe500 67.7%,#ffda00 71.0%,#ffcd00 74.2%,#ffc100 77.4%,#ffb600 80.6%,#ffab01 83.9%,#ffa202 87.1%,#ff9903 90.3%,#ff9004 93.5%,#ff8806 96.8%,#ff8008 100.0%)"></div><div style="height:2px;background:linear-gradient(90deg,#ffff4e 0.0%,#ffff1e 3.2%,#fffb00 6.5%,#ffec00 9.7%,#ffdb00 12.9%,#ffcb00 16.1%,#ffc100 19.4%,#ffbc00 22.6%,#ffb900 25.8%,#ffb800 29.0%,#ffbb00 32.3%,#ffc000 35.5%,#ffc800 38.7%,#ffd400 41.9%,#ffe000 45.2%,#ffe900 48.4%,#fff100 51.6%,#fff600 54.8%,#fff700 58.1%,#fff500 61.3%,#ffef00 64.5%,#ffe600 67.7%,#ffdc00 71.0%,#ffcf00 74.2%,#ffc200 77.4%,#ffb700 80.6%,#ffad00 83.9%,#ffa302 87.1%,#ff9a03 90.3%,#ff9104 93.5%,#ff8906 96.8%,#ff8108 100.0%)"></div><div style="height:2px;background:linear-gradient(90deg,#ffff55 0.0%,#ffff23 3.2%,#fffd00 6.5%,#ffee00 9.7%,#ffdd00 12.9%,#ffcd00 16.1%,#ffc300 19.4%,#ffbd00 22.6%,#ffba00 25.8%,#ffb900 29.0%,#ffbb00 32.3%,#ffc000 35.5%,#ffc800 38.7%,#ffd400 41.9%,#ffe000 45.2%,#ffe900 48.4%,#fff200 51.6%,#fff600 54.8%,#fff800 58.1%,#fff600 61.3%,#fff000 64.5%,#ffe700 67.7%,#ffde00 71.0%,#ffd100 74.2%,#ffc400 77.4%,#ffb900 80.6%,#ffae00 83.9%,#ffa402 87.1%,#ff9b03 90.3%,#ff9204 93.5%,#ff8a06 96.8%,#ff8208 100.0%)"></div><div style="height:2px;background:linear-gradient(90deg,#ffff5c 0.0%,#ffff28 3.2%,#ffff00 6.5%,#fff100 9.7%,#ffe000 12.9%,#ffd000 16.1%,#ffc400 19.4%,#ffbe00 22.6%,#ffbb00 25.8%,#ffba00 29.0%,#ffbb00 32.3%,#ffc000 35.5%,#ffc800 38.7%,#ffd400 41.9%,#ffe000 45.2%,#ffe900 48.4%,#fff200 51.6%,#fff600 54.8%,#fff800 58.1%,#fff600 61.3%,#fff100 64.5%,#ffe800 67.7%,#ffdf00 71.0%,#ffd300 74.2%,#ffc600 77.4%,#ffba00 80.6%,#ffaf00 83.9%,#ffa601 87.1%,#ff9c03 90.3%,#ff9304 93.5%,#ff8b05 96.8%,#ff8207 100.0%)"></div><div style="height:2px;background:linear-gradient(90deg,#ffff62 0.0%,#ffff2c 3.2%,#ffff03 6.5%,#fff300 9.7%,#ffe200 12.9%,#ffd200 16.1%,#ffc600 19.4%,#ffbf00 22.6%,#ffbc00 25.8%,#ffba00 29.0%,#ffbb00 32.3%,#ffc000 35.5%,#ffc800 38.7%,#ffd400 41.9%,#ffdf00 45.2%,#ffe900 48.4%,#fff200 51.6%,#fff700 54.8%,#fff900 58.1%,#fff700 61.3%,#fff200 64.5%,#ffe900 67.7%,#ffe000 71.0%,#ffd400 74.2%,#ffc700 77.4%,#ffbc00 80.6%,#ffb100 83.9%,#ffa701 87.1%,#ff9d03 90.3%,#ff9404 93.5%,#ff8c05 96.8%,#ff8307 100.0%)"></div><div style="height:2px;background:linear-gradient(90deg,#ffff68 0.0%,#ffff31 3.2%,#ffff07 6.5%,#fff400 9.7%,#ffe400 12.9%,#ffd400 16.1%,#ffc800 19.4%,#ffc100 22.6%,#ffbc00 25.8%,#ffbb00 29.0%,#ffbc00 32.3%,#ffc000 35.5%,#ffc800 38.7%,#ffd400 41.9%,#ffdf00 45.2%,#ffe900 48.4%,#fff200 51.6%,#fff700 54.8%,#fff900 58.1%,#fff700 61.3%,#fff300 64.5%,#ffea00 67.7%,#ffe100 71.0%,#ffd600 74.2%,#ffc900 77.4%,#ffbd00 80.6%,#ffb200 83.9%,#ffa801 87.1%,#ff9e02 90.3%,#ff9504 93.5%,#ff8c05 96.8%,#ff8407 100.0%)"></div><div style="height:2px;background:linear-gradient(90deg,#ffff6e 0.0%,#ffff35 3.2%,#ffff0b 6.5%,#fff500 9.7%,#ffe500 12.9%,#ffd600 16.1%,#ffca00 19.4%,#ffc200 22.6%,#ffbd00 25.8%,#ffbb00 29.0%,#ffbc00 32.3%,#ffc000 35.5%,#ffc800 38.7%,#ffd300 41.9%,#ffdf00 45.2%,#ffe900 48.4%,#fff200 51.6%,#fff700 54.8%,#fff900 58.1%,#fff800 61.3%,#fff300 64.5%,#ffeb00 67.7%,#ffe200 71.0%,#ffd700 74.2%,#ffcb00 77.4%,#ffbf00 80.6%,#ffb400 83.9%,#ffa901 87.1%,#ff9f02 90.3%,#ff9604 93.5%,#ff8d05 96.8%,#ff8407 100.0%)"></div><div style="height:2px;background:linear-gradient(90deg,#ffff74 0.0%,#ffff39 3.2%,#ffff0f 6.5%,#fff700 9.7%,#ffe700 12.9%,#ffd800 16.1%,#ffcb00 19.4%,#ffc300 22.6%,#ffbe00 25.8%,#ffbb00 29.0%,#ffbc00 32.3%,#ffc000 35.5%,#ffc800 38.7%,#ffd300 41.9%,#ffdf00 45.2%,#ffe800 48.4%,#fff200 51.6%,#fff700 54.8%,#fffa00 58.1%,#fff800 61.3%,#fff300 64.5%,#ffec00 67.7%,#ffe300 71.0%,#ffd800 74.2%,#ffcc00 77.4%,#ffc000 80.6%,#ffb500 83.9%,#ffaa01 87.1%,#ffa002 90.3%,#ff9703 93.5%,#ff8e05 96.8%,#ff8507 100.0%)"></div><div style="height:2px;background:linear-gradient(90deg,#ffff7a 0.0%,#ffff3d 3.2%,#ffff13 6.5%,#fff800 9.7%,#ffe900 12.9%,#ffda00 16.1%,#ffcd00 19.4%,#ffc400 22.6%,#ffbf00 25.8%,#ffbc00 29.0%,#ffbc00 32.3%,#ffc000 35.5%,#ffc800 38.7%,#ffd300 41.9%,#ffde00 45.2%,#ffe800 48.4%,#fff100 51.6%,#fff700 54.8%,#fffa00 58.1%,#fff800 61.3%,#fff400 64.5%,#ffec00 67.7%,#ffe300 71.0%,#ffd900 74.2%,#ffcd00 77.4%,#ffc100 80.6%,#ffb600 83.9%,#ffab01 87.1%,#ffa102 90.3%,#ff9803 93.5%,#ff8e05 96.8%,#ff8507 100.0%)"></div><div style="height:2px;background:linear-gradient(90deg,#ffff80 0.0%,#ffff42 3.2%,#ffff17 6.5%,#fff900 9.7%,#ffeb00 12.9%,#ffdc00 16.1%,#ffcf00 19.4%,#ffc500 22.6%,#ffc000 25.8%,#ffbc00 29.0%,#ffbc00 32.3%,#ffc000 35.5%,#ffc700 38.7%,#ffd200 41.9%,#ffde00 45.2%,#ffe800 48.4%,#fff100 51.6%,#fff700 54.8%,#fffa00 58.1%,#fff800 61.3%,#fff400 64.5%,#ffed00 67.7%,#ffe400 71.0%,#ffda00 74.2%,#ffcf00 77.4%,#ffc300 80.6%,#ffb800 83.9%,#ffac00 87.1%,#ffa202 90.3%,#ff9803 93.5%,#ff8f05 96.8%,#ff8607 100.0%)"></div><div style="height:2px;background:linear-gradient(90deg,#ffff85 0.0%,#ffff46 3.2%,#ffff1b 6.5%,#fffa00 9.7%,#ffec00 12.9%,#ffde00 16.1%,#ffd000 19.4%,#ffc600 22.6%,#ffc000 25.8%,#ffbc00 29.0%,#ffbc00 32.3%,#ffbf00 35.5%,#ffc700 38.7%,#ffd200 41.9%,#ffde00 45.2%,#ffe700 48.4%,#fff100 51.6%,#fff700 54.8%,#fffa00 58.1%,#fff800 61.3%,#fff400 64.5%,#ffed00 67.7%,#ffe500 71.0%,#ffdb00 74.2%,#ffd000 77.4%,#ffc400 80.6%,#ffb900 83.9%,#ffad00 87.1%,#ffa302 90.3%,#ff9903 93.5%,#ff9004 96.8%,#ff8606 100.0%)"></div><div style="height:2px;background:linear-gradient(90deg,#ffff8b 0.0%,#ffff4b 3.2%,#ffff1e 6.5%,#fffc00 9.7%,#ffee00 12.9%,#ffdf00 16.1%,#ffd200 19.4%,#ffc800 22.6%,#ffc100 25.8%,#ffbd00 29.0%,#ffbc00 32.3%,#ffbf00 35.5%,#ffc700 38.7%,#ffd100 41.9%,#ffdd00 45.2%,#ffe700 48.4%,#fff000 51.6%,#fff600 54.8%,#fffa00 58.1%,#fff800 61.3%,#fff400 64.5%,#ffed00 67.7%,#ffe500 71.0%,#ffdc00 74.2%,#ffd100 77.4%,#ffc500 80.6%,#ffba00 83.9%,#ffae00 87.1%,#ffa402 90.3%,#ff9a03 93.5%,#ff9004 96.8%,#ff8706 100.0%)"></div><div style="height:2px;background:linear-gradient(90deg,#ffff91 0.0%,#ffff51 3.2%,#ffff21 6.5%,#fffd00 9.7%,#fff000 12.9%,#ffe100 16.1%,#ffd300 19.4%,#ffc900 22.6%,#ffc200 25.8%,#ffbd00 29.0%,#ffbb00 32.3%,#ffbf00 35.5%,#ffc600 38.7%,#ffd100 41.9%,#ffdc00 45.2%,#ffe600 48.4%,#fff000 51.6%,#fff600 54.8%,#fff900 58.1%,#fff800 61.3%,#fff400 64.5%,#ffee00 67.7%,#ffe600 71.0%,#ffdd00 74.2%,#ffd200 77.4%,#ffc600 80.6%,#ffbb00 83.9%,#ffaf00 87.1%,#ffa501 90.3%,#ff9b03 93.5%,#ff9104 96.8%,#ff8806 100.0%)"></div><div style="height:2px;background:linear-gradient(90deg,#ffff96 0.0%,#ffff56 3.2%,#ffff25 6.5%,#fffe00 9.7%,#fff100 12.9%,#ffe200 16.1%,#ffd500 19.4%,#ffca00 22.6%,#ffc200 25.8%,#ffbd00 29.0%,#ffbb00 32.3%,#ffbe00 35.5%,#ffc600 38.7%,#ffd000 41.9%,#ffdb00 45.2%,#ffe500 48.4%,#ffef00 51.6%,#fff600 54.8%,#fff900 58.1%,#fff800 61.3%,#fff400 64.5%,#ffee00 67.7%,#ffe600 71.0%,#ffde00 74.2%,#ffd300 77.4%,#ffc800 80.6%,#ffbc00 83.9%,#ffb000 87.1%,#ffa601 90.3%,#ff9c03 93.5%,#ff9204 96.8%,#ff8806 100.0%)"></div><div style="height:2px;background:linear-gradient(90deg,#ffff9b 0.0%,#ffff5c 3.2%,#ffff28 6.5%,#ffff00 9.7%,#fff200 12.9%,#ffe300 16.1%,#ffd600 19.4%,#ffcb00 22.6%,#ffc300 25.8%,#ffbd00 29.0%,#ffbb00 32.3%,#ffbe00 35.5%,#ffc500 38.7%,#ffcf00 41.9%,#ffdb00 45.2%,#ffe500 48.4%,#ffee00 51.6%,#fff500 54.8%,#fff800 58.1%,#fff700 61.3%,#fff400 64.5%,#ffee00 67.7%,#ffe600 71.0%,#ffde00 74.2%,#ffd400 77.4%,#ffc900 80.6%,#ffbd00 83.9%,#ffb200 87.1%,#ffa701 90.3%,#ff9c03 93.5%,#ff9204 96.8%,#ff8906 100.0%)"></div><div style="height:2px;background:linear-gradient(90deg,#ffffa1 0.0%,#ffff61 3.2%,#ffff2b 6.5%,#ffff02 9.7%,#fff300 12.9%,#ffe500 16.1%,#ffd700 19.4%,#ffcc00 22.6%,#ffc300 25.8%,#ffbd00 29.0%,#ffbb00 32.3%,#ffbe00 35.5%,#ffc400 38.7%,#ffce00 41.9%,#ffda00 45.2%,#ffe400 48.4%,#ffed00 51.6%,#fff400 54.8%,#fff800 58.1%,#fff700 61.3%,#fff400 64.5%,#ffee00 67.7%,#ffe700 71.0%,#ffdf00 74.2%,#ffd500 77.4%,#ffca00 80.6%,#ffbe00 83.9%,#ffb300 87.1%,#ffa801 90.3%,#ff9d03 93.5%,#ff9304 96.8%,#ff8906 100.0%)"></div><div style="height:2px;background:linear-gradient(90deg,#ffffa5 0.0%,#ffff66 3.2%,#ffff2e 6.5%,#ffff04 9.7%,#fff400 12.9%,#ffe600 16.1%,#ffd900 19.4%,#ffcd00 22.6%,#ffc400 25.8%,#ffbe00 29.0%,#ffbb00 32.3%,#ffbd00 35.5%,#ffc400 38.7%,#ffce00 41.9%,#ffd900 45.2%,#ffe300 48.4%,#ffec00 51.6%,#fff400 54.8%,#fff700 58.1%,#fff700 61.3%,#fff300 64.5%,#ffee00 67.7%,#ffe700 71.0%,#ffdf00 74.2%,#ffd600 77.4%,#ffcb00 80.6%,#ffbf00 83.9%,#ffb400 87.1%,#ffa801 90.3%,#ff9e02 93.5%,#ff9304 96.8%,#ff8a06 100.0%)"></div><div style="height:2px;background:linear-gradient(90deg,#ffffaa 0.0%,#ffff6a 3.2%,#ffff30 6.5%,#ffff06 9.7%,#fff500 12.9%,#ffe700 16.1%,#ffda00 19.4%,#ffce00 22.6%,#ffc400 25.8%,#ffbe00 29.0%,#ffba00 32.3%,#ffbd00 35.5%,#ffc300 38.7%,#ffcd00 41.9%,#ffd800 45.2%,#ffe200 48.4%,#ffeb00 51.6%,#fff300 54.8%,#fff600 58.1%,#fff600 61.3%,#fff300 64.5%,#ffee00 67.7%,#ffe700 71.0%,#ffe000 74.2%,#ffd600 77.4%,#ffcb00 80.6%,#ffc000 83.9%,#ffb500 87.1%,#ffa901 90.3%,#ff9e02 93.5%,#ff9404 96.8%,#ff8a05 100.0%)"></div><div style="height:2px;background:linear-gradient(90deg,#ffffaf 0.0%,#ffff6e 3.2%,#ffff33 6.5%,#ffff09 9.7%,#fff600 12.9%,#ffe800 16.1%,#ffdb00 19.4%,#ffcf00 22.6%,#ffc500 25.8%,#ffbe00 29.0%,#ffba00 32.3%,#ffbc00 35.5%,#ffc300 38.7%,#ffcc00 41.9%,#ffd600 45.2%,#ffe100 48.4%,#ffea00 51.6%,#fff200 54.8%,#fff600 58.1%,#fff500 61.3%,#fff300 64.5%,#ffed00 67.7%,#ffe700 71.0%,#ffe000 74.2%,#ffd700 77.4%,#ffcc00 80.6%,#ffc100 83.9%,#ffb500 87.1%,#ffaa01 90.3%,#ff9f02 93.5%,#ff9504 96.8%,#ff8b05 100.0%)"></div><div style="height:2px;background:linear-gradient(90deg,#ffffb3 0.0%,#ffff72 3.2%,#ffff35 6.5%,#ffff0b 9.7%,#fff600 12.9%,#ffe900 16.1%,#ffdc00 19.4%,#ffd000 22.6%,#ffc600 25.8%,#ffbe00 29.0%,#ffb900 32.3%,#ffbc00 35.5%,#ffc200 38.7%,#ffcb00 41.9%,#ffd500 45.2%,#ffe000 48.4%,#ffe900 51.6%,#fff100 54.8%,#fff500 58.1%,#fff500 61.3%,#fff200 64.5%,#ffed00 67.7%,#ffe700 71.0%,#ffe000 74.2%,#ffd700 77.4%,#ffcd00 80.6%,#ffc200 83.9%,#ffb600 87.1%,#ffab01 90.3%,#ffa002 93.5%,#ff9504 96.8%,#ff8c05 100.0%)"></div><div style="height:2px;background:linear-gradient(90deg,#ffffb7 0.0%,#ffff75 3.2%,#ffff36 6.5%,#ffff0d 9.7%,#fff700 12.9%,#ffea00 16.1%,#ffdd00 19.4%,#ffd000 22.6%,#ffc600 25.8%,#ffbe00 29.0%,#ffb900 32.3%,#ffbb00 35.5%,#ffc100 38.7%,#ffca00 41.9%,#ffd400 45.2%,#ffdf00 48.4%,#ffe800 51.6%,#fff000 54.8%,#fff400 58.1%,#fff400 61.3%,#fff200 64.5%,#ffed00 67.7%,#ffe700 71.0%,#ffe000 74.2%,#ffd800 77.4%,#ffce00 80.6%,#ffc200 83.9%,#ffb700 87.1%,#ffab01 90.3%,#ffa002 93.5%,#ff9604 96.8%,#ff8c05 100.0%)"></div><div style="height:2px;background:linear-gradient(90deg,#ffffbb 0.0%,#ffff78 3.2%,#ffff38 6.5%,#ffff0e 9.7%,#fff800 12.9%,#ffeb00 16.1%,#ffde00 19.4%,#ffd100 22.6%,#ffc700 25.8%,#ffbe00 29.0%,#ffb900 32.3%,#ffbb00 35.5%,#ffc000 38.7%,#ffc900 41.9%,#ffd300 45.2%,#ffde00 48.4%,#ffe700 51.6%,#ffef00 54.8%,#fff300 58.1%,#fff300 61.3%,#fff100 64.5%,#ffec00 67.7%,#ffe600 71.0%,#ffe000 74.2%,#ffd800 77.4%,#ffce00 80.6%,#ffc300 83.9%,#ffb800 87.1%,#ffac00 90.3%,#ffa102 93.5%,#ff9604 96.8%,#ff8d05 100.0%)"></div><div style="height:2px;background:linear-gradient(90deg,#ffffbf 0.0%,#ffff7b 3.2%,#ffff3a 6.5%,#ffff10 9.7%,#fff800 12.9%,#ffeb00 16.1%,#ffde00 19.4%,#ffd200 22.6%,#ffc700 25.8%,#ffbe00 29.0%,#ffb800 32.3%,#ffba00 35.5%,#ffc000 38.7%,#ffc800 41.9%,#ffd100 45.2%,#ffdc00 48.4%,#ffe500 51.6%,#ffed00 54.8%,#fff200 58.1%,#fff300 61.3%,#fff000 64.5%,#ffec00 67.7%,#ffe600 71.0%,#ffe000 74.2%,#ffd800 77.4%,#ffcf00 80.6%,#ffc400 83.9%,#ffb900 87.1%,#ffac00 90.3%,#ffa102 93.5%,#ff9703 96.8%,#ff8d05 100.0%)"></div><div style="height:2px;background:linear-gradient(90deg,#ffffc3 0.0%,#ffff7e 3.2%,#ffff3c 6.5%,#ffff12 9.7%,#fff900 12.9%,#ffec00 16.1%,#ffdf00 19.4%,#ffd200 22.6%,#ffc800 25.8%,#ffbe00 29.0%,#ffb800 32.3%,#ffb900 35.5%,#ffbf00 38.7%,#ffc700 41.9%,#ffd000 45.2%,#ffda00 48.4%,#ffe400 51.6%,#ffec00 54.8%,#fff100 58.1%,#fff200 61.3%,#ffef00 64.5%,#ffeb00 67.7%,#ffe600 71.0%,#ffe000 74.2%,#ffd900 77.4%,#ffcf00 80.6%,#ffc400 83.9%,#ffb900 87.1%,#ffad00 90.3%,#ffa202 93.5%,#ff9703 96.8%,#ff8e05 100.0%)"></div><div style="height:2px;background:linear-gradient(90deg,#ffffc7 0.0%,#ffff81 3.2%,#ffff3d 6.5%,#ffff13 9.7%,#fff900 12.9%,#ffed00 16.1%,#ffe000 19.4%,#ffd300 22.6%,#ffc800 25.8%,#ffbe00 29.0%,#ffb700 32.3%,#ffb900 35.5%,#ffbe00 38.7%,#ffc500 41.9%,#ffcf00 45.2%,#ffd900 48.4%,#ffe200 51.6%,#ffea00 54.8%,#ffef00 58.1%,#fff000 61.3%,#ffee00 64.5%,#ffea00 67.7%,#ffe500 71.0%,#ffe000 74.2%,#ffd900 77.4%,#ffd000 80.6%,#ffc500 83.9%,#ffba00 87.1%,#ffae00 90.3%,#ffa202 93.5%,#ff9803 96.8%,#ff8e05 100.0%)"></div><div style="height:2px;background:linear-gradient(90deg,#ffffcb 0.0%,#ffff84 3.2%,#ffff3f 6.5%,#ffff15 9.7%,#fffa00 12.9%,#ffed00 16.1%,#ffe000 19.4%,#ffd300 22.6%,#ffc800 25.8%,#ffbe00 29.0%,#ffb700 32.3%,#ffb800 35.5%,#ffbe00 38.7%,#ffc400 41.9%,#ffcd00 45.2%,#ffd700 48.4%,#ffe100 51.6%,#ffe800 54.8%,#ffee00 58.1%,#ffef00 61.3%,#ffed00 64.5%,#ffea00 67.7%,#ffe500 71.0%,#ffe000 74.2%,#ffd900 77.4%,#ffd000 80.6%,#ffc600 83.9%,#ffbb00 87.1%,#ffae00 90.3%,#ffa302 93.5%,#ff9803 96.8%,#ff8f05 100.0%)"></div><div style="height:2px;background:linear-gradient(90deg,#ffffce 0.0%,#ffff87 3.2%,#ffff41 6.5%,#ffff16 9.7%,#fffa00 12.9%,#ffee00 16.1%,#ffe000 19.4%,#ffd400 22.6%,#ffc900 25.8%,#ffbe00 29.0%,#ffb700 32.3%,#ffb800 35.5%,#ffbd00 38.7%,#ffc300 41.9%,#ffcc00 45.2%,#ffd500 48.4%,#ffdf00 51.6%,#ffe700 54.8%,#ffec00 58.1%,#ffee00 61.3%,#ffec00 64.5%,#ffe900 67.7%,#ffe400 71.0%,#ffdf00 74.2%,#ffd900 77.4%,#ffd000 80.6%,#ffc600 83.9%,#ffbb00 87.1%,#ffaf00 90.3%,#ffa302 93.5%,#ff9903 96.8%,#ff8f05 100.0%)"></div><div style="height:2px;background:linear-gradient(90deg,#ffffd2 0.0%,#ffff8a 3.2%,#ffff43 6.5%,#ffff18 9.7%,#fffb00 12.9%,#ffef00 16.1%,#ffe100 19.4%,#ffd400 22.6%,#ffc900 25.8%,#ffbe00 29.0%,#ffb700 32.3%,#ffb700 35.5%,#ffbc00 38.7%,#ffc200 41.9%,#ffca00 45.2%,#ffd400 48.4%,#ffde00 51.6%,#ffe500 54.8%,#ffea00 58.1%,#ffec00 61.3%,#ffeb00 64.5%,#ffe800 67.7%,#ffe400 71.0%,#ffdf00 74.2%,#ffd900 77.4%,#ffd100 80.6%,#ffc700 83.9%,#ffbc00 87.1%,#ffaf00 90.3%,#ffa402 93.5%,#ff9903 96.8%,#ff9004 100.0%)"></div><div style="height:2px;background:linear-gradient(90deg,#ffffd5 0.0%,#ffff8d 3.2%,#ffff45 6.5%,#ffff19 9.7%,#fffb00 12.9%,#ffef00 16.1%,#ffe100 19.4%,#ffd400 22.6%,#ffc900 25.8%,#ffbe00 29.0%,#ffb700 32.3%,#ffb700 35.5%,#ffbb00 38.7%,#ffc100 41.9%,#ffc900 45.2%,#ffd200 48.4%,#ffdc00 51.6%,#ffe400 54.8%,#ffe900 58.1%,#ffeb00 61.3%,#ffea00 64.5%,#ffe700 67.7%,#ffe300 71.0%,#ffdf00 74.2%,#ffd800 77.4%,#ffd100 80.6%,#ffc700 83.9%,#ffbc00 87.1%,#ffaf00 90.3%,#ffa402 93.5%,#ff9a03 96.8%,#ff9004 100.0%)"></div><div style="height:2px;background:linear-gradient(90deg,#ffffd9 0.0%,#ffff90 3.2%,#ffff47 6.5%,#ffff1b 9.7%,#fffc00 12.9%,#ffef00 16.1%,#ffe100 19.4%,#ffd400 22.6%,#ffc900 25.8%,#ffbe00 29.0%,#ffb600 32.3%,#ffb600 35.5%,#ffbb00 38.7%,#ffc000 41.9%,#ffc700 45.2%,#ffd000 48.4%,#ffda00 51.6%,#ffe200 54.8%,#ffe700 58.1%,#ffe900 61.3%,#ffe800 64.5%,#ffe600 67.7%,#ffe200 71.0%,#ffde00 74.2%,#ffd800 77.4%,#ffd100 80.6%,#ffc800 83.9%,#ffbd00 87.1%,#ffb000 90.3%,#ffa501 93.5%,#ff9a03 96.8%,#ff9004 100.0%)"></div><div style="height:2px;background:linear-gradient(90deg,#ffffdc 0.0%,#ffff94 3.2%,#ffff49 6.5%,#ffff1c 9.7%,#fffc00 12.9%,#fff000 16.1%,#ffe200 19.4%,#ffd400 22.6%,#ffc900 25.8%,#ffbe00 29.0%,#ffb600 32.3%,#ffb600 35.5%,#ffba00 38.7%,#ffbf00 41.9%,#ffc600 45.2%,#ffce00 48.4%,#ffd800 51.6%,#ffe000 54.8%,#ffe500 58.1%,#ffe700 61.3%,#ffe700 64.5%,#ffe500 67.7%,#ffe200 71.0%,#ffde00 74.2%,#ffd800 77.4%,#ffd100 80.6%,#ffc800 83.9%,#ffbd00 87.1%,#ffb000 90.3%,#ffa501 93.5%,#ff9a03 96.8%,#ff9104 100.0%)"></div><div style="height:2px;background:linear-gradient(90deg,#ffffdf 0.0%,#ffff97 3.2%,#ffff4b 6.5%,#ffff1d 9.7%,#fffc00 12.9%,#fff000 16.1%,#ffe200 19.4%,#ffd400 22.6%,#ffc800 25.8%,#ffbe00 29.0%,#ffb600 32.3%,#ffb600 35.5%,#ffb900 38.7%,#ffbe00 41.9%,#ffc400 45.2%,#ffcc00 48.4%,#ffd600 51.6%,#ffde00 54.8%,#ffe300 58.1%,#ffe600 61.3%,#ffe600 64.5%,#ffe400 67.7%,#ffe100 71.0%,#ffdd00 74.2%,#ffd700 77.4%,#ffd100 80.6%,#ffc800 83.9%,#ffbd00 87.1%,#ffb100 90.3%,#ffa501 93.5%,#ff9b03 96.8%,#ff9104 100.0%)"></div><div style="height:2px;background:linear-gradient(90deg,#ffffe2 0.0%,#ffff9a 3.2%,#ffff4e 6.5%,#ffff1f 9.7%,#fffd00 12.9%,#fff000 16.1%,#ffe200 19.4%,#ffd400 22.6%,#ffc800 25.8%,#ffbd00 29.0%,#ffb600 32.3%,#ffb500 35.5%,#ffb800 38.7%,#ffbd00 41.9%,#ffc300 45.2%,#ffca00 48.4%,#ffd400 51.6%,#ffdc00 54.8%,#ffe200 58.1%,#ffe400 61.3%,#ffe500 64.5%,#ffe300 67.7%,#ffe000 71.0%,#ffdc00 74.2%,#ffd700 77.4%,#ffd100 80.6%,#ffc800 83.9%,#ffbd00 87.1%,#ffb100 90.3%,#ffa601 93.5%,#ff9b03 96.8%,#ff9104 100.0%)"></div><div style="height:2px;background:linear-gradient(90deg,#ffffe5 0.0%,#ffff9c 3.2%,#ffff50 6.5%,#ffff20 9.7%,#fffd00 12.9%,#fff000 16.1%,#ffe200 19.4%,#ffd400 22.6%,#ffc800 25.8%,#ffbd00 29.0%,#ffb600 32.3%,#ffb500 35.5%,#ffb800 38.7%,#ffbc00 41.9%,#ffc200 45.2%,#ffc800 48.4%,#ffd200 51.6%,#ffda00 54.8%,#ffe000 58.1%,#ffe300 61.3%,#ffe300 64.5%,#ffe200 67.7%,#ffdf00 71.0%,#ffdc00 74.2%,#ffd600 77.4%,#ffd000 80.6%,#ffc800 83.9%,#ffbd00 87.1%,#ffb100 90.3%,#ffa601 93.5%,#ff9b03 96.8%,#ff9204 100.0%)"></div><div style="height:2px;background:linear-gradient(90deg,#ffffe8 0.0%,#ffff9f 3.2%,#ffff53 6.5%,#ffff21 9.7%,#fffd00 12.9%,#fff000 16.1%,#ffe200 19.4%,#ffd400 22.6%,#ffc800 25.8%,#ffbd00 29.0%,#ffb600 32.3%,#ffb400 35.5%,#ffb700 38.7%,#ffbb00 41.9%,#ffc000 45.2%,#ffc700 48.4%,#ffcf00 51.6%,#ffd800 54.8%,#ffde00 58.1%,#ffe100 61.3%,#ffe200 64.5%,#ffe100 67.7%,#ffde00 71.0%,#ffdb00 74.2%,#ffd600 77.4%,#ffd000 80.6%,#ffc800 83.9%,#ffbd00 87.1%,#ffb100 90.3%,#ffa601 93.5%,#ff9c03 96.8%,#ff9204 100.0%)"></div><div style="height:2px;background:linear-gradient(90deg,#ffffeb 0.0%,#ffffa1 3.2%,#ffff56 6.5%,#ffff22 9.7%,#fffd00 12.9%,#fff000 16.1%,#ffe200 19.4%,#ffd400 22.6%,#ffc700 25.8%,#ffbd00 29.0%,#ffb600 32.3%,#ffb400 35.5%,#ffb600 38.7%,#ffba00 41.9%,#ffbf00 45.2%,#ffc500 48.4%,#ffcd00 51.6%,#ffd600 54.8%,#ffdc00 58.1%,#ffdf00 61.3%,#ffe000 64.5%,#ffe000 67.7%,#ffdd00 71.0%,#ffda00 74.2%,#ffd500 77.4%,#ffd000 80.6%,#ffc800 83.9%,#ffbd00 87.1%,#ffb100 90.3%,#ffa601 93.5%,#ff9c03 96.8%,#ff9204 100.0%)"></div><div style="height:2px;background:linear-gradient(90deg,#ffffee 0.0%,#ffffa3 3.2%,#ffff58 6.5%,#ffff23 9.7%,#fffd00 12.9%,#fff000 16.1%,#ffe100 19.4%,#ffd300 22.6%,#ffc700 25.8%,#ffbd00 29.0%,#ffb600 32.3%,#ffb400 35.5%,#ffb500 38.7%,#ffb900 41.9%,#ffbe00 45.2%,#ffc300 48.4%,#ffcb00 51.6%,#ffd300 54.8%,#ffda00 58.1%,#ffde00 61.3%,#ffdf00 64.5%,#ffde00 67.7%,#ffdc00 71.0%,#ffd900 74.2%,#ffd500 77.4%,#ffcf00 80.6%,#ffc800 83.9%,#ffbd00 87.1%,#ffb100 90.3%,#ffa601 93.5%,#ff9c03 96.8%,#ff9304 100.0%)"></div><div style="height:2px;background:linear-gradient(90deg,#fffff0 0.0%,#ffffa5 3.2%,#ffff5a 6.5%,#ffff23 9.7%,#fffd00 12.9%,#fff000 16.1%,#ffe100 19.4%,#ffd300 22.6%,#ffc600 25.8%,#ffbc00 29.0%,#ffb500 32.3%,#ffb300 35.5%,#ffb500 38.7%,#ffb800 41.9%,#ffbd00 45.2%,#ffc200 48.4%,#ffc900 51.6%,#ffd100 54.8%,#ffd700 58.1%,#ffdc00 61.3%,#ffdd00 64.5%,#ffdd00 67.7%,#ffdb00 71.0%,#ffd800 74.2%,#ffd400 77.4%,#ffcf00 80.6%,#ffc700 83.9%,#ffbd00 87.1%,#ffb100 90.3%,#ffa601 93.5%,#ff9c03 96.8%,#ff9304 100.0%)"></div><div style="height:2px;background:linear-gradient(90deg,#fffff0 0.0%,#ffffa7 3.2%,#ffff5b 6.5%,#ffff24 9.7%,#fffd00 12.9%,#fff000 16.1%,#ffe100 19.4%,#ffd200 22.6%,#ffc600 25.8%,#ffbc00 29.0%,#ffb500 32.3%,#ffb300 35.5%,#ffb400 38.7%,#ffb700 41.9%,#ffbc00 45.2%,#ffc100 48.4%,#ffc800 51.6%,#ffcf00 54.8%,#ffd500 58.1%,#ffda00 61.3%,#ffdb00 64.5%,#ffdb00 67.7%,#ffda00 71.0%,#ffd700 74.2%,#ffd300 77.4%,#ffce00 80.6%,#ffc700 83.9%,#ffbd00 87.1%,#ffb100 90.3%,#ffa701 93.5%,#ff9c03 96.8%,#ff9304 100.0%)"></div><div style="height:2px;background:linear-gradient(90deg,#fffff0 0.0%,#ffffa8 3.2%,#ffff5d 6.5%,#ffff24 9.7%,#fffd00 12.9%,#fff000 16.1%,#ffe000 19.4%,#ffd200 22.6%,#ffc500 25.8%,#ffbc00 29.0%,#ffb500 32.3%,#ffb200 35.5%,#ffb300 38.7%,#ffb600 41.9%,#ffbb00 45.2%,#ffbf00 48.4%,#ffc600 51.6%,#ffcd00 54.8%,#ffd300 58.1%,#ffd700 61.3%,#ffda00 64.5%,#ffda00 67.7%,#ffd800 71.0%,#ffd600 74.2%,#ffd200 77.4%,#ffcd00 80.6%,#ffc600 83.9%,#ffbd00 87.1%,#ffb100 90.3%,#ffa701 93.5%,#ff9d03 96.8%,#ff9304 100.0%)"></div><div style="height:2px;background:linear-gradient(90deg,#fffff0 0.0%,#ffffa9 3.2%,#ffff5d 6.5%,#ffff24 9.7%,#fffd00 12.9%,#fff000 16.1%,#ffe000 19.4%,#ffd100 22.6%,#ffc500 25.8%,#ffbb00 29.0%,#ffb500 32.3%,#ffb200 35.5%,#ffb300 38.7%,#ffb600 41.9%,#ffb900 45.2%,#ffbe00 48.4%,#ffc400 51.6%,#ffcb00 54.8%,#ffd100 58.1%,#ffd500 61.3%,#ffd800 64.5%,#ffd800 67.7%,#ffd700 71.0%,#ffd500 74.2%,#ffd100 77.4%,#ffcd00 80.6%,#ffc600 83.9%,#ffbd00 87.1%,#ffb100 90.3%,#ffa701 93.5%,#ff9d03 96.8%,#ff9304 100.0%)"></div><div style="height:2px;background:linear-gradient(90deg,#fffff0 0.0%,#ffffaa 3.2%,#ffff5e 6.5%,#ffff24 9.7%,#fffd00 12.9%,#ffef00 16.1%,#ffe000 19.4%,#ffd100 22.6%,#ffc400 25.8%,#ffbb00 29.0%,#ffb400 32.3%,#ffb100 35.5%,#ffb200 38.7%,#ffb500 41.9%,#ffb800 45.2%,#ffbd00 48.4%,#ffc200 51.6%,#ffc900 54.8%,#ffcf00 58.1%,#ffd300 61.3%,#ffd600 64.5%,#ffd600 67.7%,#ffd500 71.0%,#ffd300 74.2%,#ffd000 77.4%,#ffcc00 80.6%,#ffc500 83.9%,#ffbc00 87.1%,#ffb100 90.3%,#ffa701 93.5%,#ff9d03 96.8%,#ff9404 100.0%)"></div><div style="height:2px;background:linear-gradient(90deg,#fffff0 0.0%,#ffffaa 3.2%,#ffff5e 6.5%,#ffff24 9.7%,#fffd00 12.9%,#ffef00 16.1%,#ffdf00 19.4%,#ffd000 22.6%,#ffc400 25.8%,#ffbb00 29.0%,#ffb400 32.3%,#ffb100 35.5%,#ffb100 38.7%,#ffb400 41.9%,#ffb700 45.2%,#ffbc00 48.4%,#ffc100 51.6%,#ffc700 54.8%,#ffcd00 58.1%,#ffd100 61.3%,#ffd400 64.5%,#ffd500 67.7%,#ffd400 71.0%,#ffd200 74.2%,#ffcf00 77.4%,#ffcb00 80.6%,#ffc400 83.9%,#ffbc00 87.1%,#ffb100 90.3%,#ffa701 93.5%,#ff9d03 96.8%,#ff9404 100.0%)"></div><div style="height:2px;background:linear-gradient(90deg,#fffff0 0.0%,#ffffa9 3.2%,#ffff5d 6.5%,#ffff23 9.7%,#fffc00 12.9%,#ffee00 16.1%,#ffdf00 19.4%,#ffcf00 22.6%,#ffc300 25.8%,#ffba00 29.0%,#ffb400 32.3%,#ffb100 35.5%,#ffb100 38.7%,#ffb300 41.9%,#ffb600 45.2%,#ffba00 48.4%,#ffc000 51.6%,#ffc500 54.8%,#ffca00 58.1%,#ffcf00 61.3%,#ffd200 64.5%,#ffd300 67.7%,#ffd300 71.0%,#ffd100 74.2%,#ffce00 77.4%,#ffca00 80.6%,#ffc400 83.9%,#ffbb00 87.1%,#ffb100 90.3%,#ffa701 93.5%,#ff9d03 96.8%,#ff9404 100.0%)"></div><div style="height:2px;background:linear-gradient(90deg,#fffff0 0.0%,#ffffa8 3.2%,#ffff5c 6.5%,#ffff22 9.7%,#fffc00 12.9%,#ffee00 16.1%,#ffde00 19.4%,#ffce00 22.6%,#ffc300 25.8%,#ffba00 29.0%,#ffb300 32.3%,#ffb000 35.5%,#ffb000 38.7%,#ffb200 41.9%,#ffb500 45.2%,#ffb900 48.4%,#ffbe00 51.6%,#ffc300 54.8%,#ffc800 58.1%,#ffcd00 61.3%,#ffd000 64.5%,#ffd100 67.7%,#ffd100 71.0%,#ffd000 74.2%,#ffcd00 77.4%,#ffc900 80.6%,#ffc300 83.9%,#ffbb00 87.1%,#ffb000 90.3%,#ffa701 93.5%,#ff9d03 96.8%,#ff9404 100.0%)"></div><div style="height:2px;background:linear-gradient(90deg,#fffff0 0.0%,#ffffa7 3.2%,#ffff5b 6.5%,#ffff21 9.7%,#fffc00 12.9%,#ffed00 16.1%,#ffdd00 19.4%,#ffce00 22.6%,#ffc200 25.8%,#ffb900 29.0%,#ffb300 32.3%,#ffb000 35.5%,#ffb000 38.7%,#ffb100 41.9%,#ffb400 45.2%,#ffb800 48.4%,#ffbd00 51.6%,#ffc200 54.8%,#ffc600 58.1%,#ffcb00 61.3%,#ffce00 64.5%,#ffd000 67.7%,#ffd000 71.0%,#ffcf00 74.2%,#ffcc00 77.4%,#ffc800 80.6%,#ffc200 83.9%,#ffba00 87.1%,#ffb000 90.3%,#ffa601 93.5%,#ff9d03 96.8%,#ff9404 100.0%)"></div><div style="height:2px;background:linear-gradient(90deg,#fffff0 0.0%,#ffffa5 3.2%,#ffff58 6.5%,#ffff20 9.7%,#fffb00 12.9%,#ffed00 16.1%,#ffdc00 19.4%,#ffcd00 22.6%,#ffc200 25.8%,#ffb900 29.0%,#ffb200 32.3%,#ffaf00 35.5%,#ffaf00 38.7%,#ffb100 41.9%,#ffb300 45.2%,#ffb700 48.4%,#ffbc00 51.6%,#ffc000 54.8%,#ffc500 58.1%,#ffca00 61.3%,#ffcd00 64.5%,#ffce00 67.7%,#ffce00 71.0%,#ffcd00 74.2%,#ffcb00 77.4%,#ffc700 80.6%,#ffc200 83.9%,#ffba00 87.1%,#ffb000 90.3%,#ffa601 93.5%,#ff9d03 96.8%,#ff9404 100.0%)"></div><div style="height:2px;background:linear-gradient(90deg,#fffff0 0.0%,#ffffa3 3.2%,#ffff55 6.5%,#ffff1e 9.7%,#fffb00 12.9%,#ffec00 16.1%,#ffdb00 19.4%,#ffcc00 22.6%,#ffc100 25.8%,#ffb800 29.0%,#ffb200 32.3%,#ffaf00 35.5%,#ffae00 38.7%,#ffb000 41.9%,#ffb200 45.2%,#ffb600 48.4%,#ffba00 51.6%,#ffbf00 54.8%,#ffc300 58.1%,#ffc800 61.3%,#ffcb00 64.5%,#ffcc00 67.7%,#ffcd00 71.0%,#ffcc00 74.2%,#ffca00 77.4%,#ffc600 80.6%,#ffc100 83.9%,#ffb900 87.1%,#ffb000 90.3%,#ffa601 93.5%,#ff9d03 96.8%,#ff9404 100.0%)"></div><div style="height:2px;background:linear-gradient(90deg,#fffff0 0.0%,#ffffa0 3.2%,#ffff51 6.5%,#ffff1c 9.7%,#fffa00 12.9%,#ffeb00 16.1%,#ffda00 19.4%,#ffcb00 22.6%,#ffc000 25.8%,#ffb800 29.0%,#ffb200 32.3%,#ffae00 35.5%,#ffae00 38.7%,#ffaf00 41.9%,#ffb200 45.2%,#ffb500 48.4%,#ffb900 51.6%,#ffbd00 54.8%,#ffc200 58.1%,#ffc600 61.3%,#ffc900 64.5%,#ffcb00 67.7%,#ffcb00 71.0%,#ffcb00 74.2%,#ffc900 77.4%,#ffc500 80.6%,#ffc000 83.9%,#ffb900 87.1%,#ffaf00 90.3%,#ffa601 93.5%,#ff9d03 96.8%,#ff9404 100.0%)"></div><div style="height:2px;background:linear-gradient(90deg,#fffff0 0.0%,#ffff9c 3.2%,#ffff4c 6.5%,#ffff1a 9.7%,#fffa00 12.9%,#ffea00 16.1%,#ffda00 19.4%,#ffca00 22.6%,#ffbf00 25.8%,#ffb700 29.0%,#ffb100 32.3%,#ffae00 35.5%,#ffad00 38.7%,#ffae00 41.9%,#ffb100 45.2%,#ffb400 48.4%,#ffb800 51.6%,#ffbc00 54.8%,#ffc000 58.1%,#ffc400 61.3%,#ffc700 64.5%,#ffc900 67.7%,#ffca00 71.0%,#ffc900 74.2%,#ffc800 77.4%,#ffc400 80.6%,#ffc000 83.9%,#ffb800 87.1%,#ffaf00 90.3%,#ffa601 93.5%,#ff9d03 96.8%,#ff9404 100.0%)"></div><div style="height:2px;background:linear-gradient(90deg,#fffff0 0.0%,#ffff98 3.2%,#ffff48 6.5%,#ffff18 9.7%,#fff900 12.9%,#ffea00 16.1%,#ffd900 19.4%,#ffc900 22.6%,#ffbf00 25.8%,#ffb700 29.0%,#ffb100 32.3%,#ffae00 35.5%,#ffad00 38.7%,#ffae00 41.9%,#ffb000 45.2%,#ffb300 48.4%,#ffb700 51.6%,#ffbb00 54.8%,#ffbf00 58.1%,#ffc300 61.3%,#ffc600 64.5%,#ffc800 67.7%,#ffc900 71.0%,#ffc800 74.2%,#ffc700 77.4%,#ffc300 80.6%,#ffbf00 83.9%,#ffb800 87.1%,#ffae00 90.3%,#ffa601 93.5%,#ff9d03 96.8%,#ff9404 100.0%)"></div><div style="height:2px;background:linear-gradient(90deg,#fffff0 0.0%,#ffff94 3.2%,#ffff44 6.5%,#ffff15 9.7%,#fff800 12.9%,#ffe900 16.1%,#ffd800 19.4%,#ffc800 22.6%,#ffbe00 25.8%,#ffb600 29.0%,#ffb000 32.3%,#ffad00 35.5%,#ffac00 38.7%,#ffad00 41.9%,#ffaf00 45.2%,#ffb200 48.4%,#ffb600 51.6%,#ffba00 54.8%,#ffbe00 58.1%,#ffc100 61.3%,#ffc400 64.5%,#ffc600 67.7%,#ffc700 71.0%,#ffc700 74.2%,#ffc500 77.4%,#ffc200 80.6%,#ffbe00 83.9%,#ffb700 87.1%,#ffae00 90.3%,#ffa601 93.5%,#ff9d03 96.8%,#ff9404 100.0%)"></div><div style="height:2px;background:linear-gradient(90deg,#fffff0 0.0%,#ffff8f 3.2%,#ffff3f 6.5%,#ffff12 9.7%,#fff800 12.9%,#ffe800 16.1%,#ffd700 19.4%,#ffc700 22.6%,#ffbd00 25.8%,#ffb600 29.0%,#ffb000 32.3%,#ffad00 35.5%,#ffac00 38.7%,#ffad00 41.9%,#ffae00 45.2%,#ffb100 48.4%,#ffb500 51.6%,#ffb800 54.8%,#ffbc00 58.1%,#ffc000 61.3%,#ffc300 64.5%,#ffc500 67.7%,#ffc600 71.0%,#ffc600 74.2%,#ffc400 77.4%,#ffc200 80.6%,#ffbd00 83.9%,#ffb600 87.1%,#ffae00 90.3%,#ffa501 93.5%,#ff9d03 96.8%,#ff9404 100.0%)"></div><div style="height:2px;background:linear-gradient(90deg,#fffff0 0.0%,#ffff8a 3.2%,#ffff3b 6.5%,#ffff10 9.7%,#fff700 12.9%,#ffe700 16.1%,#ffd600 19.4%,#ffc600 22.6%,#ffbc00 25.8%,#ffb500 29.0%,#ffaf00 32.3%,#ffad00 35.5%,#ffac00 38.7%,#ffac00 41.9%,#ffae00 45.2%,#ffb000 48.4%,#ffb400 51.6%,#ffb700 54.8%,#ffbb00 58.1%,#ffbf00 61.3%,#ffc100 64.5%,#ffc300 67.7%,#ffc400 71.0%,#ffc400 74.2%,#ffc300 77.4%,#ffc100 80.6%,#ffbc00 83.9%,#ffb600 87.1%,#ffad00 90.3%,#ffa501 93.5%,#ff9c03 96.8%,#ff9404 100.0%)"></div><div style="height:2px;background:linear-gradient(90deg,#fffff0 0.0%,#ffff85 3.2%,#ffff36 6.5%,#ffff0d 9.7%,#fff700 12.9%,#ffe700 16.1%,#ffd500 19.4%,#ffc500 22.6%,#ffbc00 25.8%,#ffb400 29.0%,#ffaf00 32.3%,#ffac00 35.5%,#ffab01 38.7%,#ffac00 41.9%,#ffad00 45.2%,#ffaf00 48.4%,#ffb300 51.6%,#ffb600 54.8%,#ffba00 58.1%,#ffbe00 61.3%,#ffc000 64.5%,#ffc200 67.7%,#ffc300 71.0%,#ffc300 74.2%,#ffc200 77.4%,#ffc000 80.6%,#ffbc00 83.9%,#ffb500 87.1%,#ffad00 90.3%,#ffa501 93.5%,#ff9c03 96.8%,#ff9404 100.0%)"></div><div style="height:2px;background:linear-gradient(90deg,#fffff0 0.0%,#ffff80 3.2%,#ffff32 6.5%,#ffff0b 9.7%,#fff600 12.9%,#ffe600 16.1%,#ffd400 19.4%,#ffc400 22.6%,#ffbb00 25.8%,#ffb400 29.0%,#ffaf00 32.3%,#ffac00 35.5%,#ffab01 38.7%,#ffab01 41.9%,#ffac00 45.2%,#ffaf00 48.4%,#ffb200 51.6%,#ffb500 54.8%,#ffb900 58.1%,#ffbc00 61.3%,#ffbf00 64.5%,#ffc100 67.7%,#ffc200 71.0%,#ffc200 74.2%,#ffc100 77.4%,#ffbf00 80.6%,#ffbb00 83.9%,#ffb500 87.1%,#ffad00 90.3%,#ffa501 93.5%,#ff9c03 96.8%,#ff9404 100.0%)"></div><div style="height:2px;background:linear-gradient(90deg,#fffff0 0.0%,#ffff7c 3.2%,#ffff2e 6.5%,#ffff08 9.7%,#fff500 12.9%,#ffe500 16.1%,#ffd300 19.4%,#ffc300 22.6%,#ffba00 25.8%,#ffb300 29.0%,#ffae00 32.3%,#ffab01 35.5%,#ffaa01 38.7%,#ffab01 41.9%,#ffac00 45.2%,#ffae00 48.4%,#ffb100 51.6%,#ffb400 54.8%,#ffb800 58.1%,#ffbb00 61.3%,#ffbe00 64.5%,#ffc000 67.7%,#ffc100 71.0%,#ffc100 74.2%,#ffc000 77.4%,#ffbe00 80.6%,#ffba00 83.9%,#ffb400 87.1%,#ffac00 90.3%,#ffa402 93.5%,#ff9c03 96.8%,#ff9404 100.0%)"></div><div style="height:2px;background:linear-gradient(90deg,#fffff0 0.0%,#ffff78 3.2%,#ffff2a 6.5%,#ffff06 9.7%,#fff500 12.9%,#ffe400 16.1%,#ffd200 19.4%,#ffc300 22.6%,#ffba00 25.8%,#ffb300 29.0%,#ffae00 32.3%,#ffab01 35.5%,#ffaa01 38.7%,#ffaa01 41.9%,#ffab01 45.2%,#ffad00 48.4%,#ffb000 51.6%,#ffb300 54.8%,#ffb700 58.1%,#ffba00 61.3%,#ffbd00 64.5%,#ffbf00 67.7%,#ffc000 71.0%,#ffc000 74.2%,#ffbf00 77.4%,#ffbd00 80.6%,#ffb900 83.9%,#ffb300 87.1%,#ffac00 90.3%,#ffa402 93.5%,#ff9c03 96.8%,#ff9404 100.0%)"></div></div>
<div style="position:absolute;left:603.7px;top:636.8px;width:17.6px;height:419.6px;background:linear-gradient(0deg,#2d0a0a 0.0%,#400707 2.5%,#530404 5.0%,#670101 7.5%,#7c0000 10.0%,#930000 12.5%,#aa0000 15.0%,#c10000 17.5%,#d70000 20.0%,#e90101 22.5%,#f30505 25.0%,#fe0909 27.5%,#ff180c 30.0%,#ff280d 32.5%,#ff380f 35.0%,#ff4511 37.5%,#ff5212 40.0%,#ff5f13 42.5%,#ff6c12 45.0%,#ff790f 47.5%,#ff860c 50.0%,#ff920a 52.5%,#ff9e07 55.0%,#ffaa04 57.5%,#ffb501 60.0%,#ffc000 62.5%,#ffca00 65.0%,#ffd400 67.5%,#ffde00 70.0%,#ffe800 72.5%,#fff200 75.0%,#fffc00 77.5%,#ffff18 80.0%,#ffff3b 82.5%,#ffff5d 85.0%,#ffff7e 87.5%,#ffff97 90.0%,#ffffb1 92.5%,#ffffcb 95.0%,#ffffe1 97.5%,#fffff5 100.0%)"></div>
<svg width="685" height="1148" viewBox="0 0 685 1148">
<defs><clipPath id="ca"><rect x="106.4" y="28.8" width="484.6" height="432.5"/></clipPath>
<clipPath id="cb"><rect x="106.3" y="633.4" width="491.3" height="419.2"/></clipPath></defs>
<g clip-path="url(#ca)" fill="none" stroke-linejoin="round">
<path d="M105.6,447.5 L106.8,447.8 L108.0,448.1 L109.2,448.3 L110.5,448.5 L111.7,448.7 L112.9,448.9 L114.1,449.1 L115.3,449.3 L116.5,449.5 L117.7,449.7 L119.0,449.9 L120.2,450.0 L121.4,450.2 L122.6,450.3 L123.8,450.4 L125.0,450.6 L126.2,450.7 L127.5,450.8 L128.7,450.9 L129.9,451.0 L131.1,451.1 L132.3,451.2 L133.5,451.3 L134.7,451.4 L136.0,451.5 L137.2,451.6 L138.4,451.7 L139.6,451.8 L140.8,451.9 L142.0,451.9 L143.2,452.0 L144.5,452.1 L145.7,452.2 L146.9,452.3 L148.1,452.3 L149.3,452.4 L150.5,452.5 L151.7,452.6 L153.0,452.6 L154.2,452.7 L155.4,452.8 L156.6,452.8 L157.8,452.9 L159.0,453.0 L160.2,453.0 L161.5,453.1 L162.7,453.1 L163.9,453.2 L165.1,453.2 L166.3,453.3 L167.5,453.3 L168.7,453.4 L170.0,453.4 L171.2,453.4 L172.4,453.5 L173.6,453.5 L174.8,453.5 L176.0,453.6 L177.2,453.6 L178.5,453.7 L179.7,453.7 L180.9,453.7 L182.1,453.8 L183.3,453.8 L184.5,453.9 L185.7,453.9 L187.0,454.0 L188.2,454.1 L189.4,454.1 L190.6,454.2 L191.8,454.2 L193.0,454.3 L194.2,454.4 L195.5,454.4 L196.7,454.5 L197.9,454.5 L199.1,454.6 L200.3,454.6 L201.5,454.7 L202.7,454.7 L204.0,454.7 L205.2,454.8 L206.4,454.8 L207.6,454.8 L208.8,454.8 L210.0,454.8 L211.2,454.9 L212.5,454.9 L213.7,454.9 L214.9,454.9 L216.1,454.9 L217.3,454.9 L218.5,454.9 L219.7,454.9 L221.0,454.9 L222.2,454.9 L223.4,454.9 L224.6,454.9 L225.8,454.9 L227.0,454.9 L228.2,455.0 L229.5,455.0 L230.7,455.0 L231.9,455.0 L233.1,455.0 L234.3,455.0 L235.5,455.0 L236.7,455.1 L238.0,455.1 L239.2,455.1 L240.4,455.1 L241.6,455.1 L242.8,455.1 L244.0,455.2 L245.2,455.2 L246.5,455.2 L247.7,455.2 L248.9,455.2 L250.1,455.2 L251.3,455.3 L252.5,455.3 L253.7,455.3 L255.0,455.3 L256.2,455.3 L257.4,455.3 L258.6,455.3 L259.8,455.3 L261.0,455.3 L262.2,455.4 L263.5,455.4 L264.7,455.4 L265.9,455.4 L267.1,455.4 L268.3,455.4 L269.5,455.4 L270.7,455.4 L272.0,455.4 L273.2,455.4 L274.4,455.4 L275.6,455.4 L276.8,455.3 L278.0,455.3 L279.2,455.3 L280.5,455.3 L281.7,455.3 L282.9,455.3 L284.1,455.3 L285.3,455.3 L286.5,455.3 L287.7,455.3 L289.0,455.3 L290.2,455.3 L291.4,455.3 L292.6,455.3 L293.8,455.3 L295.0,455.3 L296.2,455.3 L297.5,455.3 L298.7,455.3 L299.9,455.3 L301.1,455.3 L302.3,455.3 L303.5,455.3 L304.7,455.3 L306.0,455.3 L307.2,455.3 L308.4,455.3 L309.6,455.3 L310.8,455.3 L312.0,455.3 L313.2,455.3 L314.5,455.3 L315.7,455.3 L316.9,455.3 L318.1,455.3 L319.3,455.3 L320.5,455.3 L321.7,455.3 L323.0,455.3 L324.2,455.3 L325.4,455.3 L326.6,455.3 L327.8,455.3 L329.0,455.3 L330.2,455.3 L331.5,455.3 L332.7,455.3 L333.9,455.3 L335.1,455.3 L336.3,455.3 L337.5,455.3 L338.7,455.3 L340.0,455.3 L341.2,455.3 L342.4,455.3 L343.6,455.3 L344.8,455.3 L346.0,455.3 L347.2,455.3 L348.5,455.3 L349.7,455.3 L350.9,455.3 L352.1,455.3 L353.3,455.3 L354.5,455.3 L355.7,455.3 L357.0,455.3 L358.2,455.3 L359.4,455.3 L360.6,455.3 L361.8,455.3 L363.0,455.3 L364.2,455.3 L365.5,455.3 L366.7,455.3 L367.9,455.3 L369.1,455.3 L370.3,455.3 L371.5,455.3 L372.7,455.3 L374.0,455.3 L375.2,455.3 L376.4,455.3 L377.6,455.3 L378.8,455.3 L380.0,455.4 L381.2,455.4 L382.5,455.4 L383.7,455.4 L384.9,455.4 L386.1,455.4 L387.3,455.4 L388.5,455.4 L389.7,455.4 L391.0,455.4 L392.2,455.4 L393.4,455.4 L394.6,455.4 L395.8,455.3 L397.0,455.3 L398.2,455.3 L399.5,455.3 L400.7,455.3 L401.9,455.3 L403.1,455.3 L404.3,455.3 L405.5,455.3 L406.7,455.2 L408.0,455.2 L409.2,455.2 L410.4,455.2 L411.6,455.2 L412.8,455.2 L414.0,455.1 L415.2,455.1 L416.5,455.1 L417.7,455.1 L418.9,455.1 L420.1,455.1 L421.3,455.1 L422.5,455.1 L423.7,455.0 L425.0,455.0 L426.2,455.0 L427.4,455.0 L428.6,455.0 L429.8,455.0 L431.0,455.0 L432.2,455.0 L433.5,454.9 L434.7,454.9 L435.9,454.9 L437.1,454.9 L438.3,454.8 L439.5,454.8 L440.7,454.8 L442.0,454.8 L443.2,454.7 L444.4,454.7 L445.6,454.7 L446.8,454.7 L448.0,454.6 L449.2,454.6 L450.5,454.6 L451.7,454.5 L452.9,454.5 L454.1,454.5 L455.3,454.5 L456.5,454.4 L457.7,454.4 L459.0,454.4 L460.2,454.4 L461.4,454.3 L462.6,454.3 L463.8,454.3 L465.0,454.3 L466.2,454.2 L467.5,454.2 L468.7,454.2 L469.9,454.1 L471.1,454.1 L472.3,454.1 L473.5,454.1 L474.7,454.0 L476.0,454.0 L477.2,453.9 L478.4,453.9 L479.6,453.9 L480.8,453.8 L482.0,453.8 L483.2,453.7 L484.5,453.7 L485.7,453.6 L486.9,453.6 L488.1,453.6 L489.3,453.5 L490.5,453.5 L491.7,453.4 L493.0,453.4 L494.2,453.4 L495.4,453.3 L496.6,453.3 L497.8,453.3 L499.0,453.2 L500.2,453.2 L501.5,453.2 L502.7,453.2 L503.9,453.1 L505.1,453.1 L506.3,453.1 L507.5,453.1 L508.7,453.0 L510.0,453.0 L511.2,453.0 L512.4,453.0 L513.6,452.9 L514.8,452.9 L516.0,452.9 L517.2,452.9 L518.5,452.8 L519.7,452.8 L520.9,452.8 L522.1,452.8 L523.3,452.7 L524.5,452.7 L525.7,452.7 L527.0,452.6 L528.2,452.6 L529.4,452.6 L530.6,452.6 L531.8,452.5 L533.0,452.5 L534.2,452.5 L535.5,452.4 L536.7,452.4 L537.9,452.4 L539.1,452.4 L540.3,452.3 L541.5,452.3 L542.7,452.3 L544.0,452.3 L545.2,452.2 L546.4,452.2 L547.6,452.2 L548.8,452.1 L550.0,452.1 L551.2,452.1 L552.5,452.1 L553.7,452.0 L554.9,452.0 L556.1,452.0 L557.3,452.0 L558.5,451.9 L559.7,451.9 L561.0,451.9 L562.2,451.8 L563.4,451.8 L564.6,451.8 L565.8,451.8 L567.0,451.7 L568.2,451.7 L569.5,451.7 L570.7,451.7 L571.9,451.6 L573.1,451.6 L574.3,451.6 L575.5,451.5 L576.7,451.5 L578.0,451.5 L579.2,451.5 L580.4,451.4 L581.6,451.4 L582.8,451.4 L584.0,451.4 L585.2,451.3 L586.5,451.3 L587.7,451.3 L588.9,451.3 L590.1,451.2" stroke="#000" stroke-width="3"/>
<g fill="#000"><rect x="100.9" y="442.8" width="9.4" height="9.4"/><rect x="120.3" y="445.9" width="9.4" height="9.4"/><rect x="139.7" y="447.4" width="9.4" height="9.4"/><rect x="159.0" y="448.5" width="9.4" height="9.4"/><rect x="178.4" y="449.1" width="9.4" height="9.4"/><rect x="197.8" y="450.0" width="9.4" height="9.4"/><rect x="217.2" y="450.2" width="9.4" height="9.4"/><rect x="236.6" y="450.4" width="9.4" height="9.4"/><rect x="255.9" y="450.6" width="9.4" height="9.4"/><rect x="275.3" y="450.6" width="9.4" height="9.4"/><rect x="294.7" y="450.6" width="9.4" height="9.4"/><rect x="314.1" y="450.6" width="9.4" height="9.4"/><rect x="333.5" y="450.6" width="9.4" height="9.4"/><rect x="352.8" y="450.6" width="9.4" height="9.4"/><rect x="372.2" y="450.6" width="9.4" height="9.4"/><rect x="391.6" y="450.6" width="9.4" height="9.4"/><rect x="411.0" y="450.4" width="9.4" height="9.4"/><rect x="430.4" y="450.2" width="9.4" height="9.4"/><rect x="449.7" y="449.8" width="9.4" height="9.4"/><rect x="469.1" y="449.3" width="9.4" height="9.4"/><rect x="488.5" y="448.7" width="9.4" height="9.4"/><rect x="507.9" y="448.3" width="9.4" height="9.4"/><rect x="527.3" y="447.8" width="9.4" height="9.4"/><rect x="546.6" y="447.4" width="9.4" height="9.4"/><rect x="566.0" y="447.0" width="9.4" height="9.4"/><rect x="585.4" y="446.5" width="9.4" height="9.4"/></g>
<path d="M105.6,430.8 L106.8,432.8 L108.0,434.7 L109.2,436.3 L110.5,437.7 L111.7,438.9 L112.9,439.9 L114.1,440.6 L115.3,441.2 L116.5,441.4 L117.7,441.4 L119.0,441.2 L120.2,440.8 L121.4,440.2 L122.6,439.5 L123.8,438.7 L125.0,438.0 L126.2,437.1 L127.5,436.0 L128.7,434.6 L129.9,433.2 L131.1,431.5 L132.3,429.7 L133.5,427.9 L134.7,425.9 L136.0,423.8 L137.2,421.6 L138.4,419.5 L139.6,417.3 L140.8,415.0 L142.0,412.8 L143.2,410.7 L144.5,408.6 L145.7,406.4 L146.9,404.0 L148.1,401.5 L149.3,398.9 L150.5,396.3 L151.7,393.6 L153.0,390.8 L154.2,388.1 L155.4,385.4 L156.6,382.8 L157.8,380.2 L159.0,377.8 L160.2,375.5 L161.5,373.4 L162.7,371.4 L163.9,369.7 L165.1,368.1 L166.3,366.4 L167.5,364.7 L168.7,363.0 L170.0,361.4 L171.2,359.8 L172.4,358.3 L173.6,356.9 L174.8,355.5 L176.0,354.3 L177.2,353.2 L178.5,352.3 L179.7,351.5 L180.9,350.9 L182.1,350.5 L183.3,350.4 L184.5,350.3 L185.7,350.2 L187.0,350.2 L188.2,350.2 L189.4,350.2 L190.6,350.5 L191.8,351.2 L193.0,352.1 L194.2,353.3 L195.5,354.8 L196.7,356.5 L197.9,358.4 L199.1,360.5 L200.3,362.7 L201.5,365.0 L202.7,367.4 L204.0,370.7 L205.2,375.0 L206.4,380.2 L207.6,385.9 L208.8,391.9 L210.0,398.0 L211.2,404.0 L212.5,409.5 L213.7,415.5 L214.9,422.0 L216.1,428.8 L217.3,435.3 L218.5,441.4 L219.7,446.5 L221.0,450.4 L222.2,452.6 L223.4,454.2 L224.6,455.5 L225.8,456.7 L227.0,457.7 L228.2,458.6 L229.5,459.3 L230.7,459.9 L231.9,460.5 L233.1,460.9 L234.3,461.4 L235.5,461.8 L236.7,462.2 L238.0,462.5 L239.2,462.7 L240.4,462.9 L241.6,462.9 L242.8,463.0 L244.0,463.1 L245.2,463.1 L246.5,463.1 L247.7,463.2 L248.9,463.2 L250.1,463.2 L251.3,463.3 L252.5,463.3 L253.7,463.3 L255.0,463.3 L256.2,463.3 L257.4,463.4 L258.6,463.4 L259.8,463.4 L261.0,463.4 L262.2,463.4 L263.5,463.4 L264.7,463.4 L265.9,463.4 L267.1,463.4 L268.3,463.4 L269.5,463.4 L270.7,463.4 L272.0,463.4 L273.2,463.4 L274.4,463.4 L275.6,463.4 L276.8,463.4 L278.0,463.4 L279.2,463.4 L280.5,463.4 L281.7,463.4 L282.9,463.4 L284.1,463.4 L285.3,463.4 L286.5,463.4 L287.7,463.4 L289.0,463.4 L290.2,463.4 L291.4,463.4 L292.6,463.4 L293.8,463.4 L295.0,463.4 L296.2,463.4 L297.5,463.4 L298.7,463.4 L299.9,463.4 L301.1,463.4 L302.3,463.4 L303.5,463.4 L304.7,463.4 L306.0,463.4 L307.2,463.4 L308.4,463.4 L309.6,463.4 L310.8,463.4 L312.0,463.4 L313.2,463.4 L314.5,463.4 L315.7,463.4 L316.9,463.4 L318.1,463.4 L319.3,463.4 L320.5,463.4 L321.7,463.4 L323.0,463.4 L324.2,463.4 L325.4,463.4 L326.6,463.4 L327.8,463.4 L329.0,463.4 L330.2,463.4 L331.5,463.4 L332.7,463.4 L333.9,463.4 L335.1,463.4 L336.3,463.4 L337.5,463.4 L338.7,463.4 L340.0,463.4 L341.2,463.4 L342.4,463.4 L343.6,463.4 L344.8,463.4 L346.0,463.4 L347.2,463.4 L348.5,463.4 L349.7,463.4 L350.9,463.4 L352.1,463.4 L353.3,463.4 L354.5,463.4 L355.7,463.4 L357.0,463.4 L358.2,463.4 L359.4,463.4 L360.6,463.4 L361.8,463.4 L363.0,463.4 L364.2,463.4 L365.5,463.4 L366.7,463.4 L367.9,463.4 L369.1,463.4 L370.3,463.4 L371.5,463.4 L372.7,463.4 L374.0,463.4 L375.2,463.4 L376.4,463.4 L377.6,463.4 L378.8,463.4 L380.0,463.4 L381.2,463.4 L382.5,463.4 L383.7,463.4 L384.9,463.4 L386.1,463.4 L387.3,463.4 L388.5,463.4 L389.7,463.4 L391.0,463.4 L392.2,463.4 L393.4,463.4 L394.6,463.4 L395.8,463.4 L397.0,463.4 L398.2,463.4 L399.5,463.4 L400.7,463.4 L401.9,463.4 L403.1,463.4 L404.3,463.4 L405.5,463.4 L406.7,463.4 L408.0,463.4 L409.2,463.4 L410.4,463.4 L411.6,463.4 L412.8,463.4 L414.0,463.4 L415.2,463.4 L416.5,463.4 L417.7,463.4 L418.9,463.4 L420.1,463.4 L421.3,463.4 L422.5,463.4 L423.7,463.4 L425.0,463.4 L426.2,463.4 L427.4,463.4 L428.6,463.4 L429.8,463.4 L431.0,463.4 L432.2,463.4 L433.5,463.4 L434.7,463.4 L435.9,463.4 L437.1,463.4 L438.3,463.4 L439.5,463.4 L440.7,463.4 L442.0,463.4 L443.2,463.4 L444.4,463.4 L445.6,463.4 L446.8,463.4 L448.0,463.4 L449.2,463.4 L450.5,463.4 L451.7,463.4 L452.9,463.4 L454.1,463.4 L455.3,463.4 L456.5,463.4 L457.7,463.4 L459.0,463.4 L460.2,463.4 L461.4,463.4 L462.6,463.4 L463.8,463.4 L465.0,463.4 L466.2,463.4 L467.5,463.4 L468.7,463.4 L469.9,463.4 L471.1,463.4 L472.3,463.4 L473.5,463.4 L474.7,463.4 L476.0,463.4 L477.2,463.4 L478.4,463.4 L479.6,463.4 L480.8,463.4 L482.0,463.4 L483.2,463.4 L484.5,463.4 L485.7,463.4 L486.9,463.4 L488.1,463.4 L489.3,463.4 L490.5,463.4 L491.7,463.4 L493.0,463.4 L494.2,463.4 L495.4,463.4 L496.6,463.4 L497.8,463.4 L499.0,463.4 L500.2,463.4 L501.5,463.4 L502.7,463.4 L503.9,463.4 L505.1,463.4 L506.3,463.4 L507.5,463.4 L508.7,463.4 L510.0,463.4 L511.2,463.4 L512.4,463.4 L513.6,463.4 L514.8,463.4 L516.0,463.4 L517.2,463.4 L518.5,463.4 L519.7,463.4 L520.9,463.4 L522.1,463.4 L523.3,463.4 L524.5,463.4 L525.7,463.4 L527.0,463.4 L528.2,463.4 L529.4,463.4 L530.6,463.4 L531.8,463.4 L533.0,463.4 L534.2,463.4 L535.5,463.4 L536.7,463.4 L537.9,463.4 L539.1,463.4 L540.3,463.4 L541.5,463.4 L542.7,463.4 L544.0,463.4 L545.2,463.4 L546.4,463.4 L547.6,463.4 L548.8,463.4 L550.0,463.4 L551.2,463.4 L552.5,463.4 L553.7,463.4 L554.9,463.4 L556.1,463.4 L557.3,463.4 L558.5,463.4 L559.7,463.4 L561.0,463.4 L562.2,463.4 L563.4,463.4 L564.6,463.4 L565.8,463.4 L567.0,463.4 L568.2,463.4 L569.5,463.4 L570.7,463.4 L571.9,463.4 L573.1,463.4 L574.3,463.4 L575.5,463.4 L576.7,463.4 L578.0,463.4 L579.2,463.4 L580.4,463.4 L581.6,463.4 L582.8,463.4 L584.0,463.4 L585.2,463.4 L586.5,463.4 L587.7,463.4 L588.9,463.4 L590.1,463.4" stroke="#ff0000" stroke-width="3.2"/>
<g fill="#ff0000"><circle cx="105.6" cy="430.8" r="5.4"/><circle cx="125.0" cy="438.0" r="5.4"/><circle cx="144.4" cy="408.7" r="5.4"/><circle cx="163.7" cy="369.9" r="5.4"/><circle cx="183.1" cy="350.4" r="5.4"/><circle cx="202.5" cy="366.9" r="5.4"/><circle cx="221.9" cy="452.2" r="5.4"/><circle cx="241.3" cy="462.3" r="5.4"/><circle cx="260.6" cy="462.3" r="5.4"/><circle cx="280.0" cy="462.3" r="5.4"/><circle cx="299.4" cy="462.3" r="5.4"/><circle cx="318.8" cy="462.3" r="5.4"/><circle cx="338.2" cy="462.3" r="5.4"/><circle cx="357.5" cy="462.3" r="5.4"/><circle cx="376.9" cy="462.3" r="5.4"/><circle cx="396.3" cy="462.3" r="5.4"/><circle cx="415.7" cy="462.3" r="5.4"/><circle cx="435.1" cy="462.3" r="5.4"/><circle cx="454.4" cy="462.3" r="5.4"/><circle cx="473.8" cy="462.3" r="5.4"/><circle cx="493.2" cy="462.3" r="5.4"/><circle cx="512.6" cy="462.3" r="5.4"/><circle cx="532.0" cy="462.3" r="5.4"/><circle cx="551.3" cy="462.3" r="5.4"/><circle cx="570.7" cy="462.3" r="5.4"/><circle cx="590.1" cy="462.3" r="5.4"/></g>
<path d="M106.4,463.4 H590.9" stroke="#0e8484" stroke-width="3"/>
<g fill="#0e8484"><path d="M99.3,458.3L111.9,458.3L105.6,469.5Z"/><path d="M118.7,458.3L131.3,458.3L125.0,469.5Z"/><path d="M138.1,458.3L150.7,458.3L144.4,469.5Z"/><path d="M157.4,458.3L170.0,458.3L163.7,469.5Z"/><path d="M176.8,458.3L189.4,458.3L183.1,469.5Z"/><path d="M196.2,458.3L208.8,458.3L202.5,469.5Z"/><path d="M215.6,458.3L228.2,458.3L221.9,469.5Z"/><path d="M235.0,458.3L247.6,458.3L241.3,469.5Z"/><path d="M254.3,458.3L266.9,458.3L260.6,469.5Z"/><path d="M273.7,458.3L286.3,458.3L280.0,469.5Z"/><path d="M293.1,458.3L305.7,458.3L299.4,469.5Z"/><path d="M312.5,458.3L325.1,458.3L318.8,469.5Z"/><path d="M331.9,458.3L344.5,458.3L338.2,469.5Z"/><path d="M351.2,458.3L363.8,458.3L357.5,469.5Z"/><path d="M370.6,458.3L383.2,458.3L376.9,469.5Z"/><path d="M390.0,458.3L402.6,458.3L396.3,469.5Z"/><path d="M409.4,458.3L422.0,458.3L415.7,469.5Z"/><path d="M428.8,458.3L441.4,458.3L435.1,469.5Z"/><path d="M448.1,458.3L460.7,458.3L454.4,469.5Z"/><path d="M467.5,458.3L480.1,458.3L473.8,469.5Z"/><path d="M486.9,458.3L499.5,458.3L493.2,469.5Z"/><path d="M506.3,458.3L518.9,458.3L512.6,469.5Z"/><path d="M525.7,458.3L538.3,458.3L532.0,469.5Z"/><path d="M545.0,458.3L557.6,458.3L551.3,469.5Z"/><path d="M564.4,458.3L577.0,458.3L570.7,469.5Z"/><path d="M583.8,458.3L596.4,458.3L590.1,469.5Z"/></g>
<path d="M105.6,206.8 L106.8,206.5 L108.0,206.4 L109.2,206.5 L110.5,206.8 L111.7,207.3 L112.9,208.0 L114.1,208.9 L115.3,209.9 L116.5,211.1 L117.7,212.4 L119.0,213.8 L120.2,215.4 L121.4,217.1 L122.6,218.9 L123.8,220.8 L125.0,222.7 L126.2,224.8 L127.5,226.9 L128.7,229.1 L129.9,231.4 L131.1,233.7 L132.3,236.0 L133.5,238.3 L134.7,240.7 L136.0,243.1 L137.2,245.4 L138.4,247.8 L139.6,250.1 L140.8,252.4 L142.0,254.7 L143.2,256.9 L144.5,259.0 L145.7,261.1 L146.9,263.2 L148.1,265.1 L149.3,267.0 L150.5,268.9 L151.7,270.7 L153.0,272.4 L154.2,274.1 L155.4,275.7 L156.6,277.3 L157.8,278.9 L159.0,280.3 L160.2,281.8 L161.5,283.2 L162.7,284.6 L163.9,285.9 L165.1,287.2 L166.3,288.5 L167.5,289.7 L168.7,290.9 L170.0,292.1 L171.2,293.2 L172.4,294.4 L173.6,295.4 L174.8,296.5 L176.0,297.5 L177.2,298.5 L178.5,299.5 L179.7,300.4 L180.9,301.3 L182.1,302.2 L183.3,303.0 L184.5,303.9 L185.7,304.7 L187.0,305.5 L188.2,306.2 L189.4,307.0 L190.6,307.7 L191.8,308.4 L193.0,309.1 L194.2,309.8 L195.5,310.5 L196.7,311.2 L197.9,311.9 L199.1,312.5 L200.3,313.2 L201.5,313.9 L202.7,314.5 L204.0,315.2 L205.2,315.9 L206.4,316.5 L207.6,317.2 L208.8,317.9 L210.0,318.6 L211.2,319.2 L212.5,319.9 L213.7,320.6 L214.9,321.2 L216.1,321.9 L217.3,322.6 L218.5,323.2 L219.7,323.9 L221.0,324.5 L222.2,325.2 L223.4,325.8 L224.6,326.4 L225.8,327.1 L227.0,327.7 L228.2,328.4 L229.5,329.0 L230.7,329.7 L231.9,330.3 L233.1,331.0 L234.3,331.7 L235.5,332.4 L236.7,333.1 L238.0,333.9 L239.2,334.7 L240.4,335.5 L241.6,336.3 L242.8,337.2 L244.0,338.1 L245.2,339.0 L246.5,339.9 L247.7,340.9 L248.9,341.9 L250.1,342.9 L251.3,343.9 L252.5,345.0 L253.7,346.0 L255.0,347.1 L256.2,348.1 L257.4,349.2 L258.6,350.3 L259.8,351.4 L261.0,352.5 L262.2,353.6 L263.5,354.6 L264.7,355.7 L265.9,356.8 L267.1,357.9 L268.3,359.0 L269.5,360.1 L270.7,361.2 L272.0,362.3 L273.2,363.4 L274.4,364.4 L275.6,365.5 L276.8,366.6 L278.0,367.7 L279.2,368.8 L280.5,369.9 L281.7,370.9 L282.9,372.0 L284.1,373.1 L285.3,374.2 L286.5,375.2 L287.7,376.3 L289.0,377.4 L290.2,378.4 L291.4,379.4 L292.6,380.5 L293.8,381.5 L295.0,382.5 L296.2,383.5 L297.5,384.4 L298.7,385.4 L299.9,386.3 L301.1,387.2 L302.3,388.2 L303.5,389.0 L304.7,389.9 L306.0,390.8 L307.2,391.6 L308.4,392.5 L309.6,393.3 L310.8,394.1 L312.0,394.9 L313.2,395.7 L314.5,396.5 L315.7,397.2 L316.9,398.0 L318.1,398.8 L319.3,399.5 L320.5,400.3 L321.7,401.0 L323.0,401.7 L324.2,402.5 L325.4,403.2 L326.6,403.9 L327.8,404.6 L329.0,405.2 L330.2,405.9 L331.5,406.6 L332.7,407.2 L333.9,407.8 L335.1,408.4 L336.3,409.0 L337.5,409.5 L338.7,410.1 L340.0,410.6 L341.2,411.1 L342.4,411.5 L343.6,412.0 L344.8,412.4 L346.0,412.9 L347.2,413.3 L348.5,413.7 L349.7,414.1 L350.9,414.5 L352.1,414.9 L353.3,415.2 L354.5,415.6 L355.7,416.0 L357.0,416.3 L358.2,416.7 L359.4,417.1 L360.6,417.5 L361.8,417.9 L363.0,418.2 L364.2,418.6 L365.5,419.0 L366.7,419.4 L367.9,419.8 L369.1,420.1 L370.3,420.5 L371.5,420.9 L372.7,421.3 L374.0,421.7 L375.2,422.1 L376.4,422.4 L377.6,422.8 L378.8,423.2 L380.0,423.6 L381.2,423.9 L382.5,424.3 L383.7,424.7 L384.9,425.0 L386.1,425.4 L387.3,425.7 L388.5,426.1 L389.7,426.4 L391.0,426.8 L392.2,427.1 L393.4,427.5 L394.6,427.8 L395.8,428.1 L397.0,428.4 L398.2,428.7 L399.5,429.0 L400.7,429.3 L401.9,429.6 L403.1,429.9 L404.3,430.2 L405.5,430.5 L406.7,430.8 L408.0,431.1 L409.2,431.4 L410.4,431.7 L411.6,432.0 L412.8,432.3 L414.0,432.6 L415.2,432.9 L416.5,433.2 L417.7,433.5 L418.9,433.9 L420.1,434.2 L421.3,434.5 L422.5,434.8 L423.7,435.2 L425.0,435.5 L426.2,435.8 L427.4,436.1 L428.6,436.5 L429.8,436.8 L431.0,437.1 L432.2,437.4 L433.5,437.6 L434.7,437.9 L435.9,438.2 L437.1,438.4 L438.3,438.7 L439.5,438.9 L440.7,439.1 L442.0,439.3 L443.2,439.5 L444.4,439.7 L445.6,439.9 L446.8,440.1 L448.0,440.3 L449.2,440.5 L450.5,440.7 L451.7,441.0 L452.9,441.2 L454.1,441.4 L455.3,441.6 L456.5,441.9 L457.7,442.1 L459.0,442.4 L460.2,442.7 L461.4,442.9 L462.6,443.2 L463.8,443.5 L465.0,443.8 L466.2,444.0 L467.5,444.3 L468.7,444.6 L469.9,444.9 L471.1,445.2 L472.3,445.5 L473.5,445.7 L474.7,446.0 L476.0,446.3 L477.2,446.5 L478.4,446.8 L479.6,447.1 L480.8,447.3 L482.0,447.6 L483.2,447.8 L484.5,448.1 L485.7,448.3 L486.9,448.5 L488.1,448.8 L489.3,449.0 L490.5,449.2 L491.7,449.4 L493.0,449.7 L494.2,449.9 L495.4,450.1 L496.6,450.3 L497.8,450.5 L499.0,450.7 L500.2,450.9 L501.5,451.0 L502.7,451.2 L503.9,451.4 L505.1,451.6 L506.3,451.7 L507.5,451.9 L508.7,452.1 L510.0,452.2 L511.2,452.4 L512.4,452.5 L513.6,452.6 L514.8,452.8 L516.0,452.9 L517.2,453.0 L518.5,453.1 L519.7,453.3 L520.9,453.4 L522.1,453.5 L523.3,453.6 L524.5,453.7 L525.7,453.8 L527.0,453.9 L528.2,454.0 L529.4,454.1 L530.6,454.2 L531.8,454.2 L533.0,454.3 L534.2,454.4 L535.5,454.5 L536.7,454.6 L537.9,454.7 L539.1,454.8 L540.3,454.8 L541.5,454.9 L542.7,455.0 L544.0,455.1 L545.2,455.2 L546.4,455.2 L547.6,455.3 L548.8,455.4 L550.0,455.5 L551.2,455.6 L552.5,455.6 L553.7,455.7 L554.9,455.8 L556.1,455.9 L557.3,455.9 L558.5,456.0 L559.7,456.1 L561.0,456.1 L562.2,456.2 L563.4,456.3 L564.6,456.3 L565.8,456.4 L567.0,456.5 L568.2,456.5 L569.5,456.6 L570.7,456.6 L571.9,456.7 L573.1,456.7 L574.3,456.8 L575.5,456.8 L576.7,456.9 L578.0,456.9 L579.2,456.9 L580.4,457.0 L581.6,457.0 L582.8,457.0 L584.0,457.0 L585.2,457.1 L586.5,457.1 L587.7,457.1 L588.9,457.1 L590.1,457.1" stroke="#0000ff" stroke-width="3.4"/>
<g fill="#0000ff"><path d="M124.7,216.0L131.0,227.2L118.4,227.2Z"/><path d="M144.1,252.2L150.4,263.4L137.8,263.4Z"/><path d="M163.4,279.1L169.7,290.3L157.1,290.3Z"/><path d="M182.8,296.2L189.1,307.4L176.5,307.4Z"/><path d="M202.2,307.7L208.5,318.9L195.9,318.9Z"/><path d="M221.6,318.3L227.9,329.5L215.3,329.5Z"/><path d="M241.0,329.4L247.3,340.6L234.7,340.6Z"/><path d="M260.3,345.4L266.6,356.6L254.0,356.6Z"/><path d="M279.7,362.8L286.0,374.0L273.4,374.0Z"/><path d="M299.1,379.3L305.4,390.5L292.8,390.5Z"/><path d="M318.5,392.5L324.8,403.7L312.2,403.7Z"/><path d="M337.9,403.1L344.2,414.3L331.6,414.3Z"/><path d="M357.2,409.8L363.5,421.0L350.9,421.0Z"/><path d="M376.6,415.9L382.9,427.1L370.3,427.1Z"/><path d="M396.0,421.5L402.3,432.7L389.7,432.7Z"/><path d="M415.4,426.3L421.7,437.5L409.1,437.5Z"/><path d="M434.8,431.3L441.1,442.5L428.5,442.5Z"/><path d="M454.1,434.8L460.4,446.0L447.8,446.0Z"/><path d="M473.5,439.1L479.8,450.3L467.2,450.3Z"/><path d="M492.9,443.0L499.2,454.2L486.6,454.2Z"/><path d="M512.3,445.8L518.6,457.0L506.0,457.0Z"/><path d="M531.7,447.6L538.0,458.8L525.4,458.8Z"/><path d="M551.0,448.9L557.3,460.1L544.7,460.1Z"/><path d="M570.4,449.9L576.7,461.1L564.1,461.1Z"/><path d="M589.8,450.4L596.1,461.6L583.5,461.6Z"/></g>
<path d="M387.6,460.1 L387.8,460.1 L388.0,460.0 L388.3,460.0 L388.5,459.9 L388.7,459.9 L388.9,459.8 L389.2,459.8 L389.4,459.7 L389.6,459.7 L389.9,459.7 L390.1,459.6 L390.3,459.6 L390.5,459.5 L390.8,459.5 L391.0,459.4 L391.2,459.4 L391.5,459.3 L391.7,459.3 L391.9,459.2 L392.1,459.2 L392.4,459.1 L392.6,459.1 L392.8,459.0 L393.1,459.0 L393.3,458.9 L393.5,458.9 L393.7,458.8 L394.0,458.8 L394.2,458.7 L394.4,458.7 L394.6,458.6 L394.9,458.6 L395.1,458.5 L395.3,458.5 L395.6,458.4 L395.8,458.4 L396.0,458.3 L396.2,458.3 L396.5,458.2 L396.7,458.2 L396.9,458.1 L397.2,458.1 L397.4,458.0 L397.6,458.0 L397.8,457.9 L398.1,457.9 L398.3,457.8 L398.5,457.7 L398.8,457.7 L399.0,457.6 L399.2,457.6 L399.4,457.5 L399.7,457.5 L399.9,457.4 L400.1,457.4 L400.3,457.3 L400.6,457.3 L400.8,457.2 L401.0,457.2 L401.3,457.1 L401.5,457.1 L401.7,457.0 L401.9,457.0 L402.2,456.9 L402.4,456.9 L402.6,456.8 L402.9,456.8 L403.1,456.7 L403.3,456.7 L403.5,456.7 L403.8,456.6 L404.0,456.6 L404.2,456.5 L404.5,456.5 L404.7,456.4 L404.9,456.4 L405.1,456.3 L405.4,456.3 L405.6,456.2 L405.8,456.2 L406.0,456.1 L406.3,456.1 L406.5,456.0 L406.7,456.0 L407.0,455.9 L407.2,455.9 L407.4,455.8 L407.6,455.8 L407.9,455.7 L408.1,455.6 L408.3,455.6 L408.6,455.5 L408.8,455.5 L409.0,455.4 L409.2,455.4 L409.5,455.3 L409.7,455.2 L409.9,455.2 L410.2,455.1 L410.4,455.0 L410.6,455.0 L410.8,454.9 L411.1,454.8 L411.3,454.8 L411.5,454.7 L411.7,454.6 L412.0,454.6 L412.2,454.5 L412.4,454.4 L412.7,454.3 L412.9,454.2 L413.1,454.2 L413.3,454.1 L413.6,454.0 L413.8,453.9 L414.0,453.8 L414.3,453.7 L414.5,453.6 L414.7,453.5 L414.9,453.4 L415.2,453.3 L415.4,453.2 L415.6,453.1 L415.9,453.0 L416.1,452.9 L416.3,452.8 L416.5,452.7 L416.8,452.6 L417.0,452.4 L417.2,452.3 L417.4,452.2 L417.7,452.1 L417.9,452.0 L418.1,451.9 L418.4,451.7 L418.6,451.6 L418.8,451.5 L419.0,451.4 L419.3,451.2 L419.5,451.1 L419.7,451.0 L420.0,450.8 L420.2,450.7 L420.4,450.6 L420.6,450.4 L420.9,450.3 L421.1,450.2 L421.3,450.0 L421.6,449.9 L421.8,449.7 L422.0,449.6 L422.2,449.5 L422.5,449.3 L422.7,449.2 L422.9,449.0 L423.1,448.9 L423.4,448.7 L423.6,448.6 L423.8,448.4 L424.1,448.3 L424.3,448.1 L424.5,448.0 L424.7,447.8 L425.0,447.7 L425.2,447.5 L425.4,447.4 L425.7,447.2 L425.9,447.0 L426.1,446.9 L426.3,446.7 L426.6,446.6 L426.8,446.4 L427.0,446.2 L427.3,446.0 L427.5,445.9 L427.7,445.7 L427.9,445.5 L428.2,445.3 L428.4,445.2 L428.6,445.0 L428.8,444.8 L429.1,444.6 L429.3,444.4 L429.5,444.2 L429.8,444.0 L430.0,443.8 L430.2,443.6 L430.4,443.4 L430.7,443.2 L430.9,443.0 L431.1,442.7 L431.4,442.5 L431.6,442.3 L431.8,442.1 L432.0,441.8 L432.3,441.6 L432.5,441.4 L432.7,441.1 L433.0,440.9 L433.2,440.6 L433.4,440.4 L433.6,440.1 L433.9,439.9 L434.1,439.6 L434.3,439.3 L434.5,439.1 L434.8,438.8 L435.0,438.5 L435.2,438.2 L435.5,437.9 L435.7,437.6 L435.9,437.3 L436.1,437.0 L436.4,436.6 L436.6,436.3 L436.8,435.9 L437.1,435.6 L437.3,435.2 L437.5,434.8 L437.7,434.4 L438.0,434.0 L438.2,433.6 L438.4,433.2 L438.7,432.8 L438.9,432.3 L439.1,431.9 L439.3,431.4 L439.6,431.0 L439.8,430.5 L440.0,430.0 L440.2,429.5 L440.5,429.0 L440.7,428.5 L440.9,428.0 L441.2,427.5 L441.4,427.0 L441.6,426.4 L441.8,425.9 L442.1,425.4 L442.3,424.8 L442.5,424.3 L442.8,423.7 L443.0,423.1 L443.2,422.6 L443.4,422.0 L443.7,421.4 L443.9,420.8 L444.1,420.2 L444.4,419.6 L444.6,418.9 L444.8,418.2 L445.0,417.6 L445.3,416.9 L445.5,416.2 L445.7,415.4 L445.9,414.7 L446.2,413.9 L446.4,413.1 L446.6,412.3 L446.9,411.5 L447.1,410.7 L447.3,409.9 L447.5,409.0 L447.8,408.2 L448.0,407.3 L448.2,406.4 L448.5,405.5 L448.7,404.6 L448.9,403.7 L449.1,402.8 L449.4,401.8 L449.6,400.9 L449.8,399.9 L450.1,399.0 L450.3,398.0 L450.5,397.0 L450.7,396.0 L451.0,395.1 L451.2,394.1 L451.4,393.0 L451.6,392.0 L451.9,390.9 L452.1,389.8 L452.3,388.7 L452.6,387.6 L452.8,386.4 L453.0,385.3 L453.2,384.1 L453.5,382.9 L453.7,381.7 L453.9,380.4 L454.2,379.2 L454.4,377.9 L454.6,376.6 L454.8,375.3 L455.1,374.0 L455.3,372.7 L455.5,371.4 L455.8,370.0 L456.0,368.7 L456.2,367.3 L456.4,365.9 L456.7,364.6 L456.9,363.2 L457.1,361.8 L457.3,360.4 L457.6,358.9 L457.8,357.5 L458.0,356.1 L458.3,354.6 L458.5,353.1 L458.7,351.6 L458.9,350.1 L459.2,348.6 L459.4,347.1 L459.6,345.5 L459.9,343.9 L460.1,342.3 L460.3,340.7 L460.5,339.1 L460.8,337.4 L461.0,335.7 L461.2,334.0 L461.5,332.3 L461.7,330.5 L461.9,328.8 L462.1,327.0 L462.4,325.1 L462.6,323.2 L462.8,321.4 L463.0,319.4 L463.3,317.3 L463.5,315.2 L463.7,313.0 L464.0,310.7 L464.2,308.4 L464.4,306.1 L464.6,303.7 L464.9,301.3 L465.1,298.8 L465.3,296.4 L465.6,294.0 L465.8,291.5 L466.0,289.1 L466.2,286.8 L466.5,284.5 L466.7,282.2 L466.9,280.0 L467.2,277.8 L467.4,275.7 L467.6,273.7 L467.8,271.7 L468.1,269.7 L468.3,267.7 L468.5,265.8 L468.7,263.9 L469.0,262.0 L469.2,260.1 L469.4,258.2 L469.7,256.3 L469.9,254.4 L470.1,252.5 L470.3,250.5 L470.6,248.5 L470.8,246.5 L471.0,244.5 L471.3,242.4 L471.5,240.2 L471.7,238.0 L471.9,235.6 L472.2,233.2 L472.4,230.8 L472.6,228.4 L472.9,226.1 L473.1,223.9 L473.3,221.7 L473.5,219.5 L473.8,217.4 L474.0,215.3 L474.2,213.2 L474.4,211.2 L474.7,209.1 L474.9,207.1 L475.1,205.1 L475.4,203.0 L475.6,201.0 L475.8,199.0 L476.0,196.9 L476.3,194.9 L476.5,192.8 L476.7,190.6 L477.0,188.5 L477.2,186.3 L477.4,184.1 L477.6,181.8 L477.9,179.5 L478.1,177.1 L478.3,174.7 L478.6,172.2 L478.8,169.8 L479.0,167.3 L479.2,164.8 L479.5,162.2 L479.7,159.7 L479.9,157.2 L480.1,154.7 L480.4,152.2 L480.6,149.7 L480.8,147.3 L481.1,144.8 L481.3,142.5 L481.5,140.1 L481.7,137.8 L482.0,135.6 L482.2,133.3 L482.4,131.1 L482.7,128.9 L482.9,126.7 L483.1,124.5 L483.3,122.3 L483.6,120.2 L483.8,118.0 L484.0,116.0 L484.3,113.9 L484.5,111.9 L484.7,109.9 L484.9,107.9 L485.2,106.0 L485.4,104.1 L485.6,102.2 L485.8,100.4 L486.1,98.7 L486.3,96.9 L486.5,95.3 L486.8,93.6 L487.0,92.0 L487.2,90.3 L487.4,88.6 L487.7,87.0 L487.9,85.4 L488.1,83.9 L488.4,82.5 L488.6,81.1 L488.8,79.9 L489.0,78.8 L489.3,77.9 L489.5,76.9 L489.7,76.0 L490.0,75.0 L490.2,74.1 L490.4,73.2 L490.6,72.4 L490.9,71.6 L491.1,70.8 L491.3,70.2 L491.5,69.6 L491.8,69.1 L492.0,68.7 L492.2,68.4 L492.5,68.2 L492.7,68.2 L492.9,68.2 L493.1,68.3 L493.4,68.5 L493.6,68.7 L493.8,68.9 L494.1,69.2 L494.3,69.5 L494.5,69.8 L494.7,70.2 L495.0,70.6 L495.2,71.1 L495.4,71.5 L495.7,72.0 L495.9,72.5 L496.1,73.1 L496.3,73.6 L496.6,74.2 L496.8,74.8 L497.0,75.3 L497.2,75.9 L497.5,76.5 L497.7,77.1 L497.9,77.8 L498.2,78.4 L498.4,79.2 L498.6,80.0 L498.8,80.8 L499.1,81.8 L499.3,82.8 L499.5,83.8 L499.8,84.9 L500.0,86.0 L500.2,87.2 L500.4,88.5 L500.7,89.8 L500.9,91.1 L501.1,92.5 L501.4,93.9 L501.6,95.5 L501.8,97.3 L502.0,99.3 L502.3,101.5 L502.5,103.7 L502.7,106.0 L502.9,108.4 L503.2,110.7 L503.4,112.9 L503.6,115.1 L503.9,117.2 L504.1,119.4 L504.3,121.6 L504.5,123.8 L504.8,126.1 L505.0,128.3 L505.2,130.5 L505.5,132.7 L505.7,135.0 L505.9,137.2 L506.1,139.4 L506.4,141.6 L506.6,143.7 L506.8,145.9 L507.1,148.0 L507.3,150.1 L507.5,152.1 L507.7,154.1 L508.0,156.2 L508.2,158.2 L508.4,160.2 L508.6,162.2 L508.9,164.3 L509.1,166.3 L509.3,168.4 L509.6,170.5 L509.8,172.7 L510.0,174.8 L510.2,177.1 L510.5,179.3 L510.7,181.7 L510.9,184.1 L511.2,186.6 L511.4,189.2 L511.6,191.9 L511.8,194.6 L512.1,197.5 L512.3,200.4 L512.5,203.4 L512.8,206.4 L513.0,209.4 L513.2,212.5 L513.4,215.5 L513.7,218.5 L513.9,221.5 L514.1,224.5 L514.3,227.4 L514.6,230.2 L514.8,232.9 L515.0,235.6 L515.3,238.2 L515.5,240.6 L515.7,243.0 L515.9,245.4 L516.2,247.7 L516.4,250.0 L516.6,252.3 L516.9,254.5 L517.1,256.7 L517.3,258.8 L517.5,261.0 L517.8,263.1 L518.0,265.2 L518.2,267.4 L518.5,269.5 L518.7,271.6 L518.9,273.7 L519.1,275.8 L519.4,278.0 L519.6,280.1 L519.8,282.3 L520.0,284.5 L520.3,286.7 L520.5,289.0 L520.7,291.2 L521.0,293.4 L521.2,295.7 L521.4,297.9 L521.6,300.1 L521.9,302.4 L522.1,304.6 L522.3,306.7 L522.6,308.9 L522.8,311.0 L523.0,313.1 L523.2,315.1 L523.5,317.1 L523.7,319.1 L523.9,321.0 L524.2,322.8 L524.4,324.7 L524.6,326.5 L524.8,328.3 L525.1,330.1 L525.3,331.9 L525.5,333.7 L525.7,335.5 L526.0,337.2 L526.2,338.9 L526.4,340.6 L526.7,342.3 L526.9,344.0 L527.1,345.6 L527.3,347.2 L527.6,348.8 L527.8,350.3 L528.0,351.8 L528.3,353.3 L528.5,354.8 L528.7,356.2 L528.9,357.6 L529.2,359.0 L529.4,360.3 L529.6,361.6 L529.9,362.9 L530.1,364.1 L530.3,365.3 L530.5,366.5 L530.8,367.7 L531.0,368.8 L531.2,370.0 L531.4,371.1 L531.7,372.2 L531.9,373.3 L532.1,374.4 L532.4,375.5 L532.6,376.6 L532.8,377.6 L533.0,378.6 L533.3,379.6 L533.5,380.6 L533.7,381.6 L534.0,382.6 L534.2,383.5 L534.4,384.5 L534.6,385.4 L534.9,386.3 L535.1,387.2 L535.3,388.0 L535.6,388.9 L535.8,389.8 L536.0,390.6 L536.2,391.4 L536.5,392.2 L536.7,393.0 L536.9,393.8 L537.1,394.5 L537.4,395.3 L537.6,396.0 L537.8,396.7 L538.1,397.5 L538.3,398.2 L538.5,398.9 L538.7,399.6 L539.0,400.3 L539.2,400.9 L539.4,401.6 L539.7,402.3 L539.9,402.9 L540.1,403.6 L540.3,404.2 L540.6,404.9 L540.8,405.5 L541.0,406.1 L541.3,406.7 L541.5,407.3 L541.7,407.9 L541.9,408.5 L542.2,409.1 L542.4,409.7 L542.6,410.3 L542.8,410.8 L543.1,411.4 L543.3,412.0 L543.5,412.5 L543.8,413.1 L544.0,413.6 L544.2,414.1 L544.4,414.7 L544.7,415.2 L544.9,415.7 L545.1,416.2 L545.4,416.7 L545.6,417.2 L545.8,417.8 L546.0,418.3 L546.3,418.8 L546.5,419.2 L546.7,419.7 L547.0,420.2 L547.2,420.7 L547.4,421.2 L547.6,421.7 L547.9,422.1 L548.1,422.6 L548.3,423.1 L548.5,423.6 L548.8,424.0 L549.0,424.5 L549.2,425.0 L549.5,425.4 L549.7,425.9 L549.9,426.3 L550.1,426.8 L550.4,427.2 L550.6,427.7 L550.8,428.1 L551.1,428.6 L551.3,429.0 L551.5,429.4 L551.7,429.9 L552.0,430.3 L552.2,430.7 L552.4,431.2 L552.7,431.6 L552.9,432.0 L553.1,432.4 L553.3,432.8 L553.6,433.2 L553.8,433.6 L554.0,434.0 L554.2,434.4 L554.5,434.8 L554.7,435.2 L554.9,435.6 L555.2,435.9 L555.4,436.3 L555.6,436.7 L555.8,437.0 L556.1,437.4 L556.3,437.7 L556.5,438.1 L556.8,438.4 L557.0,438.8 L557.2,439.1 L557.4,439.4 L557.7,439.7 L557.9,440.1 L558.1,440.4 L558.4,440.7 L558.6,441.0 L558.8,441.2 L559.0,441.5 L559.3,441.8 L559.5,442.1 L559.7,442.4 L559.9,442.6 L560.2,442.9 L560.4,443.2 L560.6,443.4 L560.9,443.7 L561.1,444.0 L561.3,444.2 L561.5,444.5 L561.8,444.7 L562.0,445.0 L562.2,445.2 L562.5,445.4 L562.7,445.7 L562.9,445.9 L563.1,446.1 L563.4,446.3 L563.6,446.6 L563.8,446.8 L564.1,447.0 L564.3,447.2 L564.5,447.4 L564.7,447.5 L565.0,447.7 L565.2,447.9 L565.4,448.1 L565.6,448.2 L565.9,448.4 L566.1,448.5 L566.3,448.7 L566.6,448.8 L566.8,449.0 L567.0,449.1 L567.2,449.2 L567.5,449.3 L567.7,449.4 L567.9,449.6 L568.2,449.7 L568.4,449.8 L568.6,449.9 L568.8,450.0 L569.1,450.0 L569.3,450.1 L569.5,450.2 L569.8,450.3" stroke="#ff0000" stroke-width="3.1" stroke-linecap="round" stroke-dasharray="14.7 11.5 1.2 11.5" stroke-dashoffset="25.65"/>
</g>
<path d="M516,194.4 H550" stroke="#ff0000" stroke-width="2"/><path d="M546.5,190.6 L558,194.4 L546.5,198.2Z" fill="#ff0000"/>
<g stroke="#000" fill="none" stroke-width="3.4">
<path d="M106.4,468 V28.8 H591.0 V467.5"/>
<path d="M106.4,462.5 H591.0" stroke-width="2.8"/>
</g>
<path d="M154.8,28.8V38M154.8,462.5V471.5M251.8,28.8V38M251.8,462.5V471.5M348.6,28.8V38M348.6,462.5V471.5M445.5,28.8V38M445.5,462.5V471.5M542.5,28.8V38M542.5,462.5V471.5M203.3,28.8V33.8M203.3,462.5V467.8M300.2,28.8V33.8M300.2,462.5V467.8M397.1,28.8V33.8M397.1,462.5V467.8M494.0,28.8V33.8M494.0,462.5V467.8M106.4,354.1H116.6M106.4,245.7H116.6M106.4,137.2H116.6M106.4,408.3H111.8M106.4,299.9H111.8M106.4,191.4H111.8M106.4,83.0H111.8M591.0,383.6H582.2M591.0,304.8H582.2M591.0,225.9H582.2M591.0,147.1H582.2M591.0,68.2H582.2M591.0,423.1H585.6M591.0,344.2H585.6M591.0,265.4H585.6M591.0,186.5H585.6M591.0,107.6H585.6" stroke="#000" stroke-width="3" fill="none"/>
<g stroke-width="3.2" stroke-linecap="round">
<path d="M128.3,67.5 H189.4" stroke="#0000ff"/>
<path d="M128.3,101.7 H189.4" stroke="#ff0000"/>
<path d="M128.3,135.8 H189.4" stroke="#000"/>
<path d="M128.3,170.3 H189.4" stroke="#0e8484"/>
</g>
<path d="M158.8,60.6L165.1,71.8L152.5,71.8Z" fill="#0000ff"/>
<circle cx="158.8" cy="101.9" r="5.3" fill="#ff0000"/>
<rect x="154.1" y="131.1" width="9.4" height="9.6" fill="#000"/>
<path d="M152.6,166.3L165.2,166.3L158.9,177.5Z" fill="#0e8484"/>
<defs><mask id="lm" maskUnits="userSpaceOnUse"><rect x="0" y="0" width="685" height="1148" fill="#fff"/>
<rect x="528" y="731" width="54" height="23" fill="#000"/>
<rect x="202" y="790" width="51" height="31" fill="#000"/>
<rect x="209" y="1000" width="51" height="28" fill="#000"/>
<rect x="491" y="967" width="53" height="29" fill="#000"/>
<rect x="114" y="989" width="53" height="29" fill="#000"/>
</mask></defs>
<g clip-path="url(#cb)"><g mask="url(#lm)" fill="none" stroke="#1a0a00" stroke-width="1.05" stroke-dasharray="4.8 3.2">
<path d="M106.2,700.8 L108.1,701.0 L110.0,701.1 L111.9,701.2 L113.7,701.2 L115.6,701.1 L117.4,701.0 L119.2,700.9 L120.9,700.7 L122.7,700.4 L124.4,700.1 L126.1,699.8 L127.8,699.4 L129.5,699.0 L131.2,698.5 L132.8,698.0 L134.5,697.5 L136.1,696.9 L137.7,696.3 L139.3,695.6 L140.9,694.9 L142.4,694.2 L144.0,693.4 L145.5,692.7 L147.1,691.9 L148.6,691.0 L150.1,690.2 L151.6,689.3 L153.1,688.4 L154.6,687.5 L156.1,686.6 L157.6,685.6 L159.1,684.7 L160.6,683.7 L162.1,682.7 L163.6,681.7 L165.1,680.7 L166.6,679.7 L168.1,678.7 L169.6,677.7 L171.0,676.7 L172.5,675.6 L174.0,674.6 L175.5,673.6 L177.0,672.6 L178.5,671.5 L180.0,670.5 L181.6,669.5 L183.1,668.5 L184.6,667.5 L186.1,666.5 L187.6,665.5 L189.2,664.6 L190.7,663.6 L192.3,662.7 L193.8,661.8 L195.4,660.8 L196.9,660.0 L198.5,659.1 L200.1,658.2 L201.6,657.4 L203.2,656.6 L204.8,655.8 L206.4,655.1 L208.0,654.3 L209.6,653.6 L211.3,652.9 L212.9,652.3 L214.5,651.7 L216.2,651.1 L217.8,650.5 L219.5,650.0 L221.2,649.5 L222.8,649.1 L224.5,648.7 L226.2,648.3 L227.9,648.0 L229.7,647.6 L231.4,647.4 L233.1,647.2 L234.8,647.0 L236.6,646.8 L238.3,646.7 L240.1,646.6 L241.8,646.5 L243.6,646.5 L245.3,646.5 L247.1,646.5 L248.8,646.6 L250.6,646.7 L252.3,646.8 L254.1,647.0 L255.8,647.2 L257.6,647.4 L259.4,647.7 L261.1,648.0 L262.8,648.3 L264.6,648.7 L266.3,649.0 L268.1,649.5 L269.8,649.9 L271.5,650.4 L273.2,650.9 L274.9,651.4 L276.6,651.9 L278.3,652.5 L280.0,653.1 L281.7,653.7 L283.4,654.3 L285.0,655.0 L286.7,655.6 L288.4,656.3 L290.0,657.0 L291.7,657.7 L293.3,658.5 L294.9,659.2 L296.6,659.9 L298.2,660.7 L299.8,661.4 L301.4,662.2 L303.1,663.0 L304.7,663.7 L306.3,664.5 L307.9,665.3 L309.5,666.0 L311.1,666.8 L312.6,667.6 L314.2,668.4 L315.8,669.2 L317.4,670.0 L319.0,670.8 L320.5,671.6 L322.1,672.4 L323.7,673.2 L325.2,674.0 L326.8,674.8 L328.3,675.6 L329.9,676.4 L331.4,677.3 L333.0,678.1 L334.5,678.9 L336.1,679.8 L337.6,680.6 L339.2,681.4 L340.7,682.3 L342.3,683.1 L343.8,684.0 L345.3,684.8 L346.9,685.7 L348.4,686.6 L349.9,687.4 L351.5,688.3 L353.0,689.2 L354.6,690.0 L356.1,690.9 L357.6,691.8 L359.2,692.7 L360.7,693.6 L362.2,694.5 L363.8,695.4 L365.3,696.3 L366.9,697.2 L368.4,698.1 L369.9,698.9 L371.5,699.8 L373.0,700.7 L374.6,701.6 L376.1,702.5 L377.7,703.4 L379.2,704.3 L380.7,705.2 L382.3,706.1 L383.8,707.0 L385.4,707.9 L386.9,708.8 L388.5,709.7 L390.1,710.6 L391.6,711.4 L393.2,712.3 L394.7,713.2 L396.3,714.0 L397.9,714.9 L399.4,715.8 L401.0,716.6 L402.6,717.5 L404.1,718.3 L405.7,719.1 L407.3,720.0 L408.9,720.8 L410.5,721.6 L412.0,722.4 L413.6,723.2 L415.2,724.0 L416.8,724.8 L418.4,725.6 L420.0,726.3 L421.6,727.1 L423.2,727.9 L424.8,728.6 L426.4,729.3 L428.0,730.1 L429.7,730.8 L431.3,731.5 L432.9,732.2 L434.5,732.9 L436.2,733.5 L437.8,734.2 L439.4,734.8 L441.1,735.5 L442.7,736.1 L444.4,736.7 L446.0,737.3 L447.7,737.9 L449.3,738.5 L451.0,739.0 L452.7,739.5 L454.3,740.1 L456.0,740.6 L457.7,741.1 L459.4,741.6 L461.1,742.0 L462.8,742.5 L464.5,742.9 L466.2,743.3 L467.9,743.7 L469.6,744.1 L471.3,744.5 L473.0,744.8 L474.8,745.2 L476.5,745.5 L478.2,745.8 L480.0,746.1 L481.7,746.3 L483.5,746.6 L485.2,746.8 L487.0,747.0 L488.7,747.2 L490.5,747.4 L492.3,747.5 L494.0,747.7 L495.8,747.8 L497.6,747.9 L499.3,748.0 L501.1,748.1 L502.9,748.1 L504.7,748.2 L506.5,748.2 L508.2,748.2 L510.0,748.2 L511.8,748.2 L513.6,748.1 L515.4,748.1 L517.2,748.0 L518.9,747.9 L520.7,747.8 L522.5,747.7 L524.3,747.6 L526.1,747.4 L527.9,747.2 L529.6,747.0 L531.4,746.8 L533.2,746.6 L535.0,746.4 L536.7,746.1 L538.5,745.9 L540.3,745.6 L542.0,745.3 L543.8,745.0 L545.5,744.7 L547.3,744.3 L549.0,744.0 L550.8,743.6 L552.5,743.2 L554.3,742.8 L556.0,742.4 L557.7,741.9 L559.4,741.5 L561.2,741.0 L562.9,740.6 L564.6,740.1 L566.3,739.6 L568.0,739.0 L569.7,738.5 L571.3,737.9 L573.0,737.4 L574.7,736.8 L576.4,736.2 L578.0,735.6 L579.7,735.0 L581.3,734.3 L582.9,733.7 L584.6,733.0 L586.2,732.3 L587.8,731.6 L589.4,730.9 L591.0,730.2 L592.6,729.5 L594.1,728.7 L595.7,727.9 L597.3,727.2"/>
<path d="M106.3,811.1 L107.8,811.7 L109.3,812.4 L110.9,813.0 L112.5,813.7 L114.1,814.3 L115.7,815.0 L117.3,815.6 L118.9,816.3 L120.6,816.9 L122.2,817.5 L123.9,818.1 L125.6,818.7 L127.3,819.3 L129.0,819.9 L130.7,820.4 L132.4,821.0 L134.1,821.5 L135.8,822.0 L137.6,822.5 L139.3,823.0 L141.1,823.5 L142.8,823.9 L144.6,824.3 L146.3,824.7 L148.1,825.1 L149.9,825.4 L151.6,825.7 L153.4,826.0 L155.2,826.3 L156.9,826.5 L158.7,826.7 L160.4,826.8 L162.2,827.0 L163.9,827.1 L165.7,827.1 L167.4,827.1 L169.2,827.1 L170.9,827.1 L172.6,827.0 L174.3,826.9 L176.0,826.7 L177.8,826.5 L179.4,826.3 L181.1,826.0 L182.8,825.7 L184.5,825.4 L186.2,825.0 L187.8,824.7 L189.5,824.2 L191.2,823.8 L192.8,823.3 L194.5,822.8 L196.1,822.3 L197.7,821.7 L199.4,821.2 L201.0,820.6 L202.6,819.9 L204.2,819.3 L205.8,818.6 L207.4,817.9 L209.0,817.2 L210.6,816.5 L212.2,815.8 L213.8,815.0 L215.4,814.2 L217.0,813.4 L218.5,812.6 L220.1,811.8 L221.7,811.0 L223.2,810.1 L224.8,809.2 L226.3,808.4 L227.9,807.5 L229.4,806.6 L230.9,805.7 L232.5,804.8 L234.0,803.9 L235.5,802.9 L237.1,802.0 L238.6,801.1 L240.1,800.2 L241.7,799.3 L243.2,798.3 L244.7,797.4 L246.2,796.5 L247.8,795.6 L249.3,794.7 L250.8,793.8 L252.4,793.0 L253.9,792.1 L255.5,791.3 L257.0,790.4 L258.6,789.6 L260.1,788.8 L261.7,788.1 L263.3,787.3 L264.9,786.6 L266.4,785.9 L268.0,785.2 L269.7,784.6 L271.3,783.9 L272.9,783.3 L274.5,782.8 L276.2,782.3 L277.8,781.8 L279.5,781.3 L281.2,780.9 L282.9,780.5 L284.5,780.1 L286.2,779.8 L287.9,779.4 L289.7,779.2 L291.4,778.9 L293.1,778.7 L294.8,778.5 L296.6,778.4 L298.3,778.3 L300.0,778.2 L301.8,778.1 L303.5,778.1 L305.3,778.1 L307.0,778.1 L308.8,778.1 L310.5,778.2 L312.3,778.3 L314.0,778.5 L315.8,778.6 L317.5,778.8 L319.3,779.1 L321.0,779.3 L322.7,779.6 L324.5,779.9 L326.2,780.2 L327.9,780.6 L329.6,780.9 L331.3,781.4 L333.1,781.8 L334.8,782.2 L336.4,782.7 L338.1,783.2 L339.8,783.8 L341.5,784.3 L343.2,784.9 L344.8,785.4 L346.5,786.0 L348.1,786.7 L349.8,787.3 L351.4,787.9 L353.1,788.6 L354.7,789.2 L356.4,789.9 L358.0,790.6 L359.6,791.2 L361.2,791.9 L362.9,792.6 L364.5,793.3 L366.1,794.0 L367.7,794.7 L369.3,795.4 L370.9,796.1 L372.5,796.9 L374.1,797.6 L375.7,798.3 L377.3,799.0 L378.9,799.8 L380.5,800.5 L382.1,801.2 L383.7,802.0 L385.2,802.7 L386.8,803.5 L388.4,804.2 L390.0,805.0 L391.6,805.7 L393.1,806.5 L394.7,807.3 L396.3,808.0 L397.8,808.8 L399.4,809.6 L401.0,810.3 L402.5,811.1 L404.1,811.9 L405.7,812.7 L407.2,813.4 L408.8,814.2 L410.4,815.0 L411.9,815.8 L413.5,816.6 L415.0,817.3 L416.6,818.1 L418.2,818.9 L419.7,819.7 L421.3,820.5 L422.8,821.3 L424.4,822.1 L426.0,822.8 L427.5,823.6 L429.1,824.4 L430.6,825.2 L432.2,826.0 L433.8,826.8 L435.3,827.5 L436.9,828.3 L438.5,829.1 L440.0,829.9 L441.6,830.6 L443.2,831.4 L444.7,832.2 L446.3,832.9 L447.9,833.7 L449.4,834.5 L451.0,835.2 L452.6,836.0 L454.2,836.7 L455.8,837.5 L457.3,838.2 L458.9,839.0 L460.5,839.7 L462.1,840.5 L463.7,841.2 L465.3,841.9 L466.9,842.6 L468.5,843.4 L470.1,844.1 L471.7,844.8 L473.3,845.5 L474.9,846.2 L476.5,846.9 L478.1,847.6 L479.7,848.2 L481.3,848.9 L483.0,849.6 L484.6,850.3 L486.2,850.9 L487.8,851.6 L489.4,852.3 L491.1,852.9 L492.7,853.6 L494.3,854.2 L496.0,854.9 L497.6,855.5 L499.2,856.2 L500.9,856.8 L502.5,857.4 L504.2,858.1 L505.8,858.7 L507.4,859.3 L509.1,860.0 L510.7,860.6 L512.4,861.2 L514.0,861.9 L515.6,862.5 L517.3,863.1 L518.9,863.7 L520.6,864.4 L522.2,865.0 L523.9,865.6 L525.5,866.2 L527.2,866.8 L528.8,867.4 L530.5,867.9 L532.1,868.5 L533.8,869.0 L535.4,869.6 L537.1,870.1 L538.8,870.6 L540.4,871.1 L542.1,871.6 L543.8,872.0 L545.5,872.5 L547.2,872.9 L548.9,873.3 L550.6,873.7 L552.3,874.0 L554.0,874.4 L555.7,874.7 L557.4,875.0 L559.1,875.2 L560.8,875.5 L562.5,875.7 L564.3,875.9 L566.0,876.1 L567.7,876.2 L569.5,876.4 L571.2,876.5 L572.9,876.5 L574.7,876.6 L576.4,876.6 L578.2,876.6 L579.9,876.6 L581.7,876.5 L583.5,876.4 L585.2,876.3 L587.0,876.2 L588.8,876.0 L590.5,875.8 L592.3,875.6 L594.1,875.3 L595.9,875.0 L597.7,874.7"/>
<path d="M106.2,880.2 L106.9,880.7 L107.5,881.2 L108.2,881.7 L108.9,882.3 L109.5,882.8 L110.2,883.3 L110.9,883.8 L111.5,884.4 L112.2,884.9 L112.9,885.4 L113.6,885.9 L114.2,886.4 L114.9,886.9 L115.5,887.4 L116.2,888.0 L116.9,888.5 L117.5,889.0 L118.2,889.5 L118.9,890.0 L119.5,890.5 L120.2,891.0 L120.8,891.5 L121.5,892.0 L122.2,892.5 L122.8,892.9 L123.5,893.4 L124.1,893.9 L124.8,894.4 L125.5,894.9 L126.1,895.4 L126.8,895.9 L127.4,896.4 L128.1,896.8 L128.8,897.3 L129.4,897.8 L130.1,898.3 L130.7,898.7 L131.4,899.2 L132.0,899.7 L132.7,900.2 L133.3,900.6 L134.0,901.1 L134.7,901.6 L135.3,902.0 L136.0,902.5 L136.6,903.0 L137.3,903.4 L137.9,903.9 L138.6,904.4 L139.3,904.8 L139.9,905.3 L140.6,905.8 L141.2,906.2 L141.9,906.7 L142.5,907.1 L143.2,907.6 L143.8,908.0 L144.5,908.5 L145.2,909.0 L145.8,909.4 L146.5,909.9 L147.1,910.3 L147.8,910.8 L148.5,911.2 L149.1,911.7 L149.8,912.1 L150.4,912.6 L151.1,913.0 L151.8,913.4 L152.4,913.9 L153.1,914.3 L153.7,914.8 L154.4,915.2 L155.1,915.7 L155.7,916.1 L156.4,916.6 L157.1,917.0 L157.7,917.4 L158.4,917.9 L159.1,918.3 L159.7,918.8 L160.4,919.2 L161.1,919.6 L161.7,920.1 L162.4,920.5 L163.1,921.0 L163.8,921.4 L164.4,921.8 L165.1,922.3 L165.8,922.7 L166.5,923.1 L167.1,923.6 L167.8,924.0 L168.5,924.5 L169.2,924.9 L169.8,925.3 L170.5,925.8 L171.2,926.2 L171.9,926.6 L172.6,927.1 L173.3,927.5 L174.0,927.9 L174.6,928.4 L175.3,928.8 L176.0,929.2 L176.7,929.7 L177.4,930.1 L178.1,930.5 L178.8,931.0 L179.5,931.4 L180.2,931.9 L180.9,932.3 L181.6,932.7 L182.3,933.2 L183.0,933.6 L183.7,934.0 L184.4,934.5 L185.1,934.9 L185.8,935.3 L186.5,935.8 L187.2,936.2 L187.9,936.7 L188.6,937.1 L189.4,937.5 L190.1,938.0 L190.8,938.4 L191.5,938.9 L192.2,939.3 L192.9,939.7 L193.7,940.2 L194.4,940.6 L195.1,941.1 L195.8,941.5 L196.6,941.9 L197.3,942.4 L198.0,942.8 L198.8,943.3 L199.5,943.7 L200.2,944.2 L200.9,944.6 L201.7,945.1 L202.4,945.5 L203.1,946.0 L203.8,946.5 L204.6,946.9 L205.3,947.4 L206.0,947.8 L206.7,948.3 L207.4,948.8 L208.1,949.2 L208.9,949.7 L209.6,950.2 L210.3,950.7 L211.0,951.1 L211.7,951.6 L212.3,952.1 L213.0,952.6 L213.7,953.1 L214.4,953.6 L215.1,954.1 L215.7,954.6 L216.4,955.1 L217.0,955.6 L217.7,956.1 L218.3,956.6 L219.0,957.2 L219.6,957.7 L220.2,958.2 L220.8,958.7 L221.5,959.3 L222.1,959.8 L222.7,960.4 L223.2,960.9 L223.8,961.5 L224.4,962.0 L225.0,962.6 L225.5,963.2 L226.1,963.8 L226.6,964.3 L227.1,964.9 L227.6,965.5 L228.1,966.1 L228.6,966.7 L229.1,967.3 L229.6,967.9 L230.1,968.5 L230.5,969.2 L231.0,969.8 L231.4,970.4 L231.8,971.1 L232.2,971.7 L232.6,972.4 L233.0,973.1 L233.4,973.7 L233.8,974.4 L234.1,975.1 L234.5,975.8 L234.8,976.5 L235.1,977.2 L235.4,977.9 L235.7,978.6 L235.9,979.3 L236.2,980.1 L236.4,980.8 L236.7,981.5 L236.9,982.3 L237.1,983.1 L237.3,983.8 L237.4,984.6 L237.6,985.4 L237.7,986.1 L237.9,986.9 L238.0,987.7 L238.1,988.5 L238.2,989.3 L238.3,990.1 L238.4,990.9 L238.4,991.7 L238.5,992.5 L238.5,993.3 L238.5,994.1 L238.5,994.9 L238.5,995.8 L238.5,996.6 L238.5,997.4 L238.5,998.2 L238.4,999.0 L238.4,999.9 L238.3,1000.7 L238.2,1001.5 L238.1,1002.3 L238.0,1003.2 L237.9,1004.0 L237.8,1004.8 L237.6,1005.6 L237.5,1006.5 L237.3,1007.3 L237.2,1008.1 L237.0,1008.9 L236.8,1009.8 L236.6,1010.6 L236.4,1011.4 L236.2,1012.2 L235.9,1013.0 L235.7,1013.8 L235.5,1014.6 L235.2,1015.4 L234.9,1016.2 L234.6,1017.0 L234.4,1017.8 L234.1,1018.6 L233.7,1019.4 L233.4,1020.1 L233.1,1020.9 L232.8,1021.7 L232.4,1022.4 L232.1,1023.2 L231.7,1024.0 L231.4,1024.7 L231.0,1025.5 L230.6,1026.2 L230.2,1026.9 L229.8,1027.7 L229.4,1028.4 L229.0,1029.2 L228.6,1029.9 L228.2,1030.6 L227.8,1031.3 L227.4,1032.0 L227.0,1032.8 L226.5,1033.5 L226.1,1034.2 L225.7,1034.9 L225.3,1035.6 L224.8,1036.3 L224.4,1037.0 L223.9,1037.7 L223.5,1038.4 L223.1,1039.1 L222.6,1039.7 L222.2,1040.4 L221.7,1041.1 L221.3,1041.8 L220.8,1042.5 L220.4,1043.1 L219.9,1043.8 L219.5,1044.5 L219.0,1045.1 L218.6,1045.8 L218.2,1046.5 L217.7,1047.1 L217.3,1047.8 L216.9,1048.4 L216.4,1049.1 L216.0,1049.7 L215.6,1050.4 L215.2,1051.0 L214.8,1051.7 L214.4,1052.3"/>
<path d="M106.2,941.5 L106.5,941.9 L106.7,942.2 L107.0,942.5 L107.3,942.9 L107.5,943.2 L107.8,943.5 L108.1,943.8 L108.3,944.2 L108.6,944.5 L108.8,944.8 L109.1,945.2 L109.4,945.5 L109.6,945.8 L109.9,946.1 L110.2,946.5 L110.4,946.8 L110.7,947.1 L110.9,947.5 L111.2,947.8 L111.4,948.1 L111.7,948.4 L112.0,948.8 L112.2,949.1 L112.5,949.4 L112.7,949.7 L113.0,950.1 L113.2,950.4 L113.5,950.7 L113.7,951.1 L114.0,951.4 L114.2,951.7 L114.5,952.1 L114.7,952.4 L115.0,952.7 L115.2,953.0 L115.5,953.4 L115.7,953.7 L116.0,954.0 L116.2,954.4 L116.5,954.7 L116.7,955.0 L116.9,955.4 L117.2,955.7 L117.4,956.0 L117.7,956.4 L117.9,956.7 L118.1,957.0 L118.4,957.4 L118.6,957.7 L118.9,958.0 L119.1,958.4 L119.3,958.7 L119.5,959.0 L119.8,959.4 L120.0,959.7 L120.2,960.1 L120.5,960.4 L120.7,960.7 L120.9,961.1 L121.1,961.4 L121.4,961.8 L121.6,962.1 L121.8,962.4 L122.0,962.8 L122.2,963.1 L122.4,963.5 L122.6,963.8 L122.9,964.2 L123.1,964.5 L123.3,964.9 L123.5,965.2 L123.7,965.6 L123.9,965.9 L124.1,966.3 L124.3,966.6 L124.5,967.0 L124.7,967.3 L124.9,967.7 L125.1,968.0 L125.3,968.4 L125.5,968.7 L125.7,969.1 L125.9,969.4 L126.0,969.8 L126.2,970.2 L126.4,970.5 L126.6,970.9 L126.8,971.3 L127.0,971.6 L127.1,972.0 L127.3,972.3 L127.5,972.7 L127.6,973.1 L127.8,973.5 L128.0,973.8 L128.2,974.2 L128.3,974.6 L128.5,974.9 L128.6,975.3 L128.8,975.7 L129.0,976.1 L129.1,976.4 L129.3,976.8 L129.4,977.2 L129.6,977.6 L129.7,977.9 L129.9,978.3 L130.1,978.7 L130.2,979.1 L130.4,979.5 L130.5,979.9 L130.6,980.2 L130.8,980.6 L130.9,981.0 L131.1,981.4 L131.2,981.8 L131.4,982.2 L131.5,982.5 L131.6,982.9 L131.8,983.3 L131.9,983.7 L132.1,984.1 L132.2,984.5 L132.3,984.9 L132.5,985.3 L132.6,985.7 L132.7,986.1 L132.9,986.5 L133.0,986.9 L133.1,987.2 L133.3,987.6 L133.4,988.0 L133.5,988.4 L133.7,988.8 L133.8,989.2 L133.9,989.6 L134.1,990.0 L134.2,990.4 L134.3,990.8 L134.4,991.2 L134.6,991.6 L134.7,992.0 L134.8,992.4 L134.9,992.8 L135.1,993.2 L135.2,993.6 L135.3,994.0 L135.4,994.4 L135.5,994.8 L135.7,995.2 L135.8,995.6 L135.9,996.0 L136.0,996.4 L136.1,996.8 L136.2,997.2 L136.3,997.7 L136.5,998.1 L136.6,998.5 L136.7,998.9 L136.8,999.3 L136.9,999.7 L137.0,1000.1 L137.1,1000.5 L137.2,1000.9 L137.3,1001.3 L137.4,1001.7 L137.5,1002.1 L137.6,1002.5 L137.7,1002.9 L137.8,1003.3 L137.9,1003.8 L138.0,1004.2 L138.1,1004.6 L138.2,1005.0 L138.3,1005.4 L138.4,1005.8 L138.5,1006.2 L138.6,1006.6 L138.7,1007.0 L138.8,1007.4 L138.8,1007.8 L138.9,1008.3 L139.0,1008.7 L139.1,1009.1 L139.2,1009.5 L139.2,1009.9 L139.3,1010.3 L139.4,1010.7 L139.4,1011.1 L139.5,1011.5 L139.6,1011.9 L139.6,1012.3 L139.7,1012.7 L139.8,1013.2 L139.8,1013.6 L139.9,1014.0 L139.9,1014.4 L140.0,1014.8 L140.0,1015.2 L140.1,1015.6 L140.1,1016.0 L140.1,1016.4 L140.2,1016.8 L140.2,1017.2 L140.2,1017.6 L140.3,1018.0 L140.3,1018.4 L140.3,1018.8 L140.3,1019.2 L140.3,1019.6 L140.3,1020.0 L140.4,1020.5 L140.4,1020.9 L140.4,1021.3 L140.4,1021.7 L140.4,1022.1 L140.3,1022.5 L140.3,1022.9 L140.3,1023.3 L140.3,1023.7 L140.3,1024.1 L140.3,1024.5 L140.2,1024.9 L140.2,1025.3 L140.2,1025.7 L140.1,1026.1 L140.1,1026.4 L140.0,1026.8 L140.0,1027.2 L139.9,1027.6 L139.9,1028.0 L139.8,1028.4 L139.7,1028.8 L139.7,1029.2 L139.6,1029.6 L139.5,1030.0 L139.4,1030.4 L139.3,1030.8 L139.2,1031.2 L139.2,1031.5 L139.1,1031.9 L138.9,1032.3 L138.8,1032.7 L138.7,1033.1 L138.6,1033.5 L138.5,1033.9 L138.4,1034.2 L138.2,1034.6 L138.1,1035.0 L138.0,1035.4 L137.8,1035.8 L137.7,1036.1 L137.5,1036.5 L137.4,1036.9 L137.2,1037.3 L137.0,1037.6 L136.9,1038.0 L136.7,1038.4 L136.5,1038.8 L136.4,1039.1 L136.2,1039.5 L136.0,1039.9 L135.8,1040.2 L135.6,1040.6 L135.4,1041.0 L135.2,1041.3 L135.0,1041.7 L134.8,1042.1 L134.6,1042.4 L134.4,1042.8 L134.2,1043.1 L133.9,1043.5 L133.7,1043.9 L133.5,1044.2 L133.2,1044.6 L133.0,1044.9 L132.8,1045.3 L132.5,1045.6 L132.3,1046.0 L132.0,1046.3 L131.8,1046.7 L131.5,1047.0 L131.3,1047.3 L131.0,1047.7 L130.8,1048.0 L130.5,1048.4 L130.2,1048.7 L129.9,1049.0 L129.7,1049.4 L129.4,1049.7 L129.1,1050.0 L128.8,1050.4 L128.5,1050.7 L128.2,1051.0 L127.9,1051.3 L127.6,1051.6 L127.4,1052.0 L127.0,1052.3 L126.7,1052.6"/>
<path d="M356.3,877.5 L358.3,877.4 L360.4,877.4 L362.4,877.4 L364.5,877.5 L366.5,877.6 L368.5,877.8 L370.6,878.0 L372.6,878.3 L374.6,878.6 L376.6,879.0 L378.6,879.4 L380.6,879.9 L382.5,880.4 L384.5,880.9 L386.5,881.5 L388.5,882.1 L390.4,882.8 L392.4,883.5 L394.3,884.2 L396.2,884.9 L398.2,885.7 L400.1,886.6 L402.0,887.4 L403.9,888.3 L405.9,889.2 L407.8,890.1 L409.7,891.0 L411.5,892.0 L413.4,893.0 L415.3,894.0 L417.2,895.0 L419.0,896.0 L420.9,897.1 L422.8,898.2 L424.6,899.2 L426.5,900.3 L428.3,901.4 L430.1,902.5 L431.9,903.6 L433.8,904.7 L435.6,905.8 L437.4,906.9 L439.2,908.1 L441.0,909.2 L442.8,910.3 L444.6,911.4 L446.3,912.5 L448.1,913.6 L449.9,914.7 L451.6,915.8 L453.4,917.0 L455.1,918.1 L456.8,919.2 L458.6,920.4 L460.3,921.5 L462.0,922.7 L463.7,923.8 L465.4,925.0 L467.0,926.2 L468.7,927.3 L470.4,928.5 L472.0,929.8 L473.6,931.0 L475.3,932.2 L476.9,933.5 L478.5,934.7 L480.1,936.0 L481.6,937.3 L483.2,938.6 L484.8,940.0 L486.3,941.3 L487.8,942.7 L489.3,944.1 L490.8,945.5 L492.3,946.9 L493.8,948.4 L495.2,949.9 L496.7,951.4 L498.1,952.9 L499.5,954.5 L500.9,956.0 L502.3,957.7 L503.6,959.3 L505.0,961.0 L506.3,962.7 L507.6,964.4 L508.9,966.2 L510.2,967.9 L511.4,969.8 L512.6,971.6 L513.8,973.5 L515.0,975.3 L516.1,977.3 L517.1,979.2 L518.1,981.1 L519.1,983.1 L520.0,985.0 L520.8,987.0 L521.6,989.0 L522.3,990.9 L522.9,992.9 L523.4,994.9 L523.9,996.9 L524.2,998.9 L524.5,1000.8 L524.7,1002.8 L524.8,1004.7 L524.7,1006.7 L524.6,1008.6 L524.4,1010.5 L524.0,1012.4 L523.5,1014.3 L522.9,1016.1 L522.2,1017.9 L521.3,1019.7 L520.3,1021.5 L519.2,1023.2 L518.0,1024.9 L516.7,1026.5 L515.3,1028.1 L513.9,1029.7 L512.3,1031.1 L510.7,1032.5 L509.0,1033.9 L507.2,1035.1 L505.4,1036.3 L503.6,1037.4 L501.7,1038.4 L499.7,1039.3 L497.8,1040.2 L495.8,1041.0 L493.8,1041.7 L491.7,1042.3 L489.7,1042.9 L487.6,1043.4 L485.5,1043.9 L483.4,1044.3 L481.2,1044.6 L479.1,1044.9 L477.0,1045.1 L474.8,1045.3 L472.7,1045.5 L470.5,1045.6 L468.4,1045.7 L466.2,1045.8 L464.1,1045.8 L462.0,1045.8 L459.8,1045.8 L457.7,1045.7 L455.6,1045.6 L453.5,1045.5 L451.4,1045.4 L449.3,1045.2 L447.2,1045.0 L445.1,1044.8 L443.0,1044.5 L440.9,1044.2 L438.9,1043.9 L436.8,1043.6 L434.7,1043.3 L432.7,1042.9 L430.6,1042.5 L428.6,1042.1 L426.5,1041.7 L424.5,1041.2 L422.5,1040.7 L420.5,1040.2 L418.4,1039.7 L416.4,1039.2 L414.4,1038.6 L412.4,1038.1 L410.4,1037.5 L408.4,1036.9 L406.5,1036.3 L404.5,1035.7 L402.5,1035.0 L400.5,1034.4 L398.6,1033.7 L396.6,1033.0 L394.7,1032.3 L392.7,1031.6 L390.8,1030.9 L388.9,1030.2 L387.0,1029.5 L385.1,1028.7 L383.1,1028.0 L381.2,1027.2 L379.3,1026.5 L377.5,1025.7 L375.6,1024.9 L373.7,1024.1 L371.8,1023.3 L369.9,1022.5 L368.0,1021.7 L366.2,1020.9 L364.3,1020.0 L362.4,1019.2 L360.5,1018.3 L358.7,1017.4 L356.8,1016.5 L354.9,1015.6 L353.0,1014.7 L351.1,1013.8 L349.2,1012.8 L347.3,1011.9 L345.4,1010.9 L343.5,1009.9 L341.6,1008.9 L339.7,1007.9 L337.8,1006.9 L335.9,1005.8 L334.0,1004.8 L332.1,1003.7 L330.3,1002.6 L328.4,1001.4 L326.5,1000.3 L324.7,999.1 L322.9,997.9 L321.1,996.7 L319.4,995.4 L317.6,994.2 L315.9,992.9 L314.3,991.6 L312.6,990.2 L311.1,988.8 L309.5,987.4 L308.0,986.0 L306.5,984.5 L305.1,983.0 L303.8,981.5 L302.4,979.9 L301.2,978.3 L300.0,976.7 L298.9,975.0 L297.8,973.3 L296.8,971.6 L295.8,969.8 L295.0,968.0 L294.2,966.1 L293.4,964.2 L292.8,962.3 L292.2,960.3 L291.7,958.3 L291.2,956.3 L290.8,954.3 L290.5,952.2 L290.3,950.2 L290.1,948.1 L290.0,946.0 L290.0,943.9 L290.0,941.8 L290.1,939.7 L290.3,937.6 L290.5,935.5 L290.8,933.4 L291.2,931.3 L291.6,929.2 L292.1,927.1 L292.7,925.1 L293.3,923.1 L294.0,921.0 L294.8,919.1 L295.6,917.1 L296.5,915.2 L297.4,913.3 L298.4,911.4 L299.5,909.6 L300.6,907.8 L301.8,906.1 L303.1,904.4 L304.4,902.7 L305.8,901.1 L307.2,899.6 L308.7,898.1 L310.2,896.6 L311.8,895.2 L313.4,893.9 L315.1,892.6 L316.8,891.3 L318.5,890.1 L320.3,889.0 L322.2,887.9 L324.0,886.8 L325.9,885.8 L327.8,884.9 L329.8,884.0 L331.7,883.2 L333.7,882.4 L335.7,881.7 L337.7,881.0 L339.8,880.4 L341.8,879.9 L343.9,879.4 L345.9,878.9 L348.0,878.5 L350.1,878.2 L352.1,877.9 L354.2,877.7 L356.3,877.5Z"/>
</g></g>
<rect x="106.3" y="633.4" width="491.3" height="419.2" fill="none" stroke="#000" stroke-width="3.5"/>
<path d="M147.2,633.4V638.9M147.2,1052.6V1047.1M188.2,633.4V643.4M188.2,1052.6V1042.6M229.1,633.4V638.9M229.1,1052.6V1047.1M270.1,633.4V643.4M270.1,1052.6V1042.6M311.0,633.4V638.9M311.0,1052.6V1047.1M351.9,633.4V643.4M351.9,1052.6V1042.6M392.9,633.4V638.9M392.9,1052.6V1047.1M433.8,633.4V643.4M433.8,1052.6V1042.6M474.8,633.4V638.9M474.8,1052.6V1047.1M515.7,633.4V643.4M515.7,1052.6V1042.6M556.7,633.4V638.9M556.7,1052.6V1047.1M106.3,1010.7H111.8M597.6,1010.7H592.1M106.3,968.8H116.3M597.6,968.8H587.6M106.3,926.8H111.8M597.6,926.8H592.1M106.3,884.9H116.3M597.6,884.9H587.6M106.3,843.0H111.8M597.6,843.0H592.1M106.3,801.1H116.3M597.6,801.1H587.6M106.3,759.2H111.8M597.6,759.2H592.1M106.3,717.2H116.3M597.6,717.2H587.6M106.3,675.3H111.8M597.6,675.3H592.1" stroke="#000" stroke-width="3" fill="none"/>
<text x="5.5" y="21.7" font-size="38" font-weight="bold">a</text>
<text x="97.2" y="470.6" font-size="28.3" text-anchor="end">0.0</text>
<text x="97.2" y="362.2" font-size="28.3" text-anchor="end">0.5</text>
<text x="97.2" y="253.8" font-size="28.3" text-anchor="end">1.0</text>
<text x="97.2" y="145.3" font-size="28.3" text-anchor="end">1.5</text>
<text x="97.2" y="36.9" font-size="28.3" text-anchor="end">2.0</text>
<text x="600.3" y="470.9" font-size="28.3">0.0</text>
<text x="600.3" y="392.0" font-size="28.3">0.2</text>
<text x="600.3" y="313.2" font-size="28.3">0.4</text>
<text x="600.3" y="234.3" font-size="28.3">0.6</text>
<text x="600.3" y="155.5" font-size="28.3">0.8</text>
<text x="600.3" y="76.6" font-size="28.3">1.0</text>
<text x="154.8" y="499.3" font-size="28.3" text-anchor="middle">400</text>
<text x="251.8" y="499.3" font-size="28.3" text-anchor="middle">500</text>
<text x="348.6" y="499.3" font-size="28.3" text-anchor="middle">600</text>
<text x="445.5" y="499.3" font-size="28.3" text-anchor="middle">700</text>
<text x="542.5" y="499.3" font-size="28.3" text-anchor="middle">800</text>
<text x="347.6" y="549.4" font-size="35" text-anchor="middle">Wavelength (nm)</text>
<text transform="translate(27.7,453.6) rotate(-90)" font-size="35.4">Extinction coefficient (<tspan font-style="italic">k</tspan>)</text>
<text transform="translate(676.8,450.8) rotate(-90)" font-size="35.4">Norm. Photoluminescence</text>
<text x="196.3" y="76.7" font-size="28.5">perovskite</text>
<text x="196.3" y="110.9" font-size="28.5">poly-TPD</text>
<text x="196.3" y="145.0" font-size="28.5">ITO</text>
<text x="196.3" y="179.5" font-size="28.5">TPBi</text>
<text x="555.4" y="750.8" font-size="25.5" stroke="#000" stroke-width="0.55" text-anchor="middle">10.0</text>
<text x="227.7" y="818.4" font-size="25.5" stroke="#000" stroke-width="0.55" text-anchor="middle">15.0</text>
<text x="234.8" y="1023.1" font-size="25.5" stroke="#000" stroke-width="0.55" text-anchor="middle">20.0</text>
<text x="517.4" y="990.7" font-size="25.5" stroke="#000" stroke-width="0.55" text-anchor="middle">20.0</text>
<text x="140.8" y="1011.7" font-size="25.5" stroke="#000" stroke-width="0.55" text-anchor="middle">25.0</text>
<text x="5.3" y="613.3" font-size="37.5" font-weight="bold">b</text>
<text x="96" y="1061.2" font-size="28" text-anchor="end">0</text>
<text x="96" y="977.4" font-size="28" text-anchor="end">20</text>
<text x="96" y="893.5" font-size="28" text-anchor="end">40</text>
<text x="96" y="809.7" font-size="28" text-anchor="end">60</text>
<text x="96" y="725.8" font-size="28" text-anchor="end">80</text>
<text x="96" y="642.0" font-size="28" text-anchor="end">100</text>
<text x="106.3" y="1085.8" font-size="28" text-anchor="middle">0</text>
<text x="188.2" y="1085.8" font-size="28" text-anchor="middle">50</text>
<text x="270.1" y="1085.8" font-size="28" text-anchor="middle">100</text>
<text x="351.9" y="1085.8" font-size="28" text-anchor="middle">150</text>
<text x="433.8" y="1085.8" font-size="28" text-anchor="middle">200</text>
<text x="515.7" y="1085.8" font-size="28" text-anchor="middle">250</text>
<text x="597.6" y="1085.8" font-size="28" text-anchor="middle">300</text>
<text x="351.2" y="1136.9" font-size="34.5" text-anchor="middle">ITO Thickness (nm)</text>
<text transform="translate(27.2,1070.8) rotate(-90)" font-size="35">Perovskite Thickness (nm)</text>
<text x="596.5" y="622.7" font-size="28.8" text-anchor="end">EQE (%)</text>
<text x="631.5" y="643.7" font-size="27.2">28.0</text>
<text x="631.5" y="698.5" font-size="27.2">25.0</text>
<text x="631.5" y="789.9" font-size="27.2">20.0</text>
<text x="631.5" y="881.2" font-size="27.2">15.0</text>
<text x="631.5" y="972.5" font-size="27.2">10.0</text>
<text x="631.5" y="1063.9" font-size="27.2">5.00</text>
</svg>
</div></body></html>
